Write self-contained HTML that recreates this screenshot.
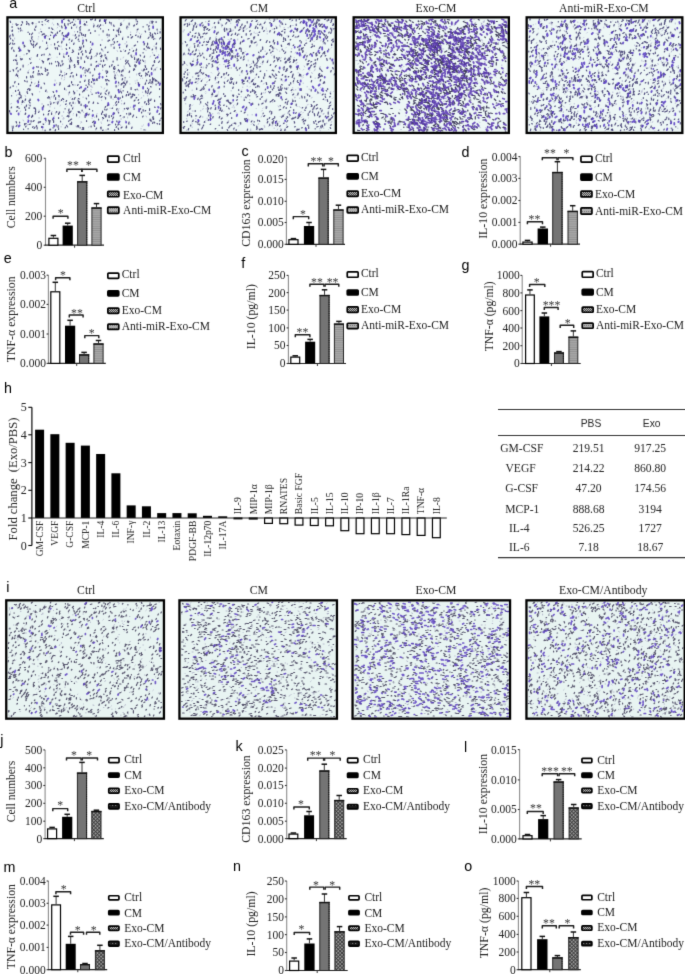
<!DOCTYPE html>
<html><head><meta charset="utf-8"><title>Figure</title>
<style>html,body{margin:0;padding:0;background:#fff;width:685px;height:974px;overflow:hidden}svg{display:block}</style>
</head><body><svg width="685" height="974" viewBox="0 0 685 974"><filter id="soft" x="0" y="0" width="685" height="974" filterUnits="userSpaceOnUse" color-interpolation-filters="sRGB"><feConvolveMatrix order="3" kernelMatrix="0.0113 0.0838 0.0113 0.0838 0.6193 0.0838 0.0113 0.0838 0.0113" edgeMode="duplicate"/></filter><rect width="685" height="974" fill="#fff"/><g filter="url(#soft)"><rect width="685" height="974" fill="#fff"/><defs>
<pattern id="pA" width="4" height="2.2" patternUnits="userSpaceOnUse"><rect width="4" height="2.2" fill="#a6a6a6"/><rect y="1.4" width="4" height="0.7" fill="#8c8c8c"/></pattern>
<pattern id="pX" width="2.6" height="2.6" patternUnits="userSpaceOnUse" patternTransform="rotate(45)"><rect width="2.6" height="2.6" fill="#959595"/><path d="M0 0.45H2.6M0.45 0V2.6" stroke="#3a3a3a" stroke-width="0.8"/></pattern>
<pattern id="pC" width="2" height="2" patternUnits="userSpaceOnUse"><rect width="2" height="2" fill="#444"/><rect width="1" height="1" fill="#bbb"/><rect x="1" y="1" width="1" height="1" fill="#bbb"/></pattern>
<pattern id="pL" width="2" height="3" patternUnits="userSpaceOnUse"><rect width="2" height="3" fill="#b0b0b0"/><rect y="1" width="1" height="1" fill="#777"/></pattern>
<pattern id="pB" width="3" height="3" patternUnits="userSpaceOnUse"><rect width="3" height="3" fill="#1a1a1a"/><rect x="1" y="1" width="1.2" height="1" fill="#777"/></pattern>
</defs><text x="9.30" y="7.60" font-family="Liberation Sans" font-size="14.3" text-anchor="start" fill="#000" >a</text><rect x="8.60" y="18.50" width="153.10" height="113.30" fill="#edf7f6"/><g transform="translate(8.60,18.50)" clip-path="url(#c10)"><clipPath id="c10"><rect width="153.10" height="113.30"/></clipPath><g transform="scale(.5)"><path d="M41 174l-1 -2M288 69l0 -1M126 8l-1 -1M237 22l0 -2M140 37l0 -2M28 25l0 -1M153 101l0 -2M295 99l2 -1M64 22l0 -1M220 182l1 -2M242 212l1 -2M59 130l1 -2M260 130l0 -2M265 160l1 -2M60 37l0 -1M238 199l0 -2M273 89l0 -1M122 49l0 -1M264 120l0 0M52 47l0 -1M8 12l0 -1M133 150l0 -1M231 97l0 -2M40 104l1 -1M116 176l1 -1M285 99l2 -1M74 35l0 -2M141 198l1 -1M253 125l0 0M153 106l0 -2M255 7l0 -1M90 13l0 -1M198 38l0 -1M218 171l0 -2M226 165l0 -1M166 137l-1 -2M276 197l-1 -2M214 171l0 -1M273 145l1 -1M47 196l0 -2M102 16l0 -1M111 200l-1 -2M22 148l0 -2M150 188l0 -1M196 78l0 -2M213 38l0 -1M181 34l0 -2M83 168l0 -2M34 192l1 -2M92 180l0 -1M110 72l0 -2M296 65l0 0M166 193l1 -1M274 128l0 -1M79 36l0 -1M186 210l0 0M260 153l0 -1M186 138l-1 -2M72 105l0 -1M19 109l-1 -2M91 196l0 -1M283 10l0 -1M20 160l0 -2M107 196l0 -2M129 179l1 -2M43 163l0 -2M197 84l1 -2M126 129l0 -1M188 203l0 -2M4 34l0 -2M123 103l0 -2M232 124l-1 -2M184 81l0 -2M133 134l0 -2M72 36l0 -1M86 188l1 -2M197 131l0 -2M186 164l0 -1M176 86l0 -1M269 186l1 -1M234 205l0 -1M31 73l0 -1M115 171l0 -1M109 202l0 -2M224 115l0 -2M220 187l0 0M85 158l1 -2M267 177l0 -1M100 90l1 -2M288 132l1 -1M78 55l0 -2M6 25l-1 -2M68 223l0 -1M80 8l0 -1M187 44l0 -2M45 35l1 -1M151 6l0 -1M16 137l0 -1M83 162l0 -1M221 2l0 -1M120 153l0 -2M117 101l1 -1M38 145l0 -1M32 55l0 -1M225 202l0 -2M233 101l-1 -2M302 129l1 -2M275 173l0 -2M59 41l0 0M112 114l0 -2M247 60l0 -1M124 82l-1 -1M270 213l0 0M268 148l0 -1M68 46l0 -2M45 122l0 -1M136 19l0 -1M7 58l1 -1M274 224l0 -2M87 10l1 -1M89 2l0 -1M282 9l0 -2M233 124l1 -1M256 28l1 -2M189 14l0 -1M44 118l1 -2M229 116l0 -2M226 171l0 -1M199 154l0 0M44 142l0 -1M157 144l0 -1M118 70l0 -1M38 202l2 -2M41 44l1 -1M229 38l0 -1M274 102l1 0M188 104l0 -1M62 147l0 -1M95 169l0 -2M202 155l1 -1M112 109l0 -1M145 57l0 -2M265 221l0 -1M97 19l1 -1M233 51l0 -1M55 11l0 -1M185 70l-1 -2M146 208l-1 -2M76 2l0 -2M148 39l0 -1M273 86l0 -2M101 163l0 -1M229 79l1 -2M106 121l0 -2M192 158l0 -2M84 167l0 -1M167 200l0 -1M148 52l0 -1M16 154l1 -2M185 208l0 -1M118 188l0 0M270 155l0 -1M236 48l0 -2M203 180l0 -1M205 56l0 -1M67 172l0 -2M259 144l0 -1M108 212l0 -1M179 19l0 -2M130 190l0 0M138 162l1 -2M77 148l0 -2M244 28l0 -1M213 112l-1 -2M16 83l0 -2M32 168l0 -1M218 187l0 -2M12 41l0 -2M136 18l0 -1M57 74l1 -2M152 105l0 -1M110 167l0 -1M189 66l0 -2M144 209l1 -1M244 178l0 -1M120 82l0 -1M219 205l0 -1M34 179l1 -2M231 181l0 -1M216 109l0 -1M251 16l1 -1M115 144l0 -2M137 145l0 -1M284 6l0 -1M45 79l0 -1M79 41l0 0M7 219l0 -2M174 223l0 -1M294 41l0 -1M112 114l0 -1M38 213l0 -1M34 162l0 -1M132 27l0 -1M191 141l1 -2M138 78l0 -2M84 80l1 -1M105 57l0 -2M242 118l0 -1M80 74l1 -1M165 143l0 -1M61 200l0 -2M20 119l0 -1M218 26l0 -2M112 118l0 -1M91 23l-2 -2M210 174l1 -1M39 93l1 -1M94 191l0 -1M14 115l1 -2M263 89l0 -1M217 161l1 -1M300 74l0 -2M135 216l0 -1M93 125l0 -2M262 30l-1 -1M163 76l0 0M298 26l0 -1M73 209l2 -2M163 59l1 -1M90 38l0 -1M161 182l0 -2M256 113l0 -2M16 166l0 -1M40 197l1 -2M83 177l0 -2M149 158l0 -1M71 202l1 -2M106 95l0 -2M275 64l0 -1M304 22l0 -1M266 104l0 -1M221 131l0 -1M58 209l1 -2M293 126l0 -1M229 185l0 0M90 159l0 -1M129 34l0 -1M189 98l0 -2M165 148l-1 -2M20 27l0 -1M153 178l0 -1M181 91l-1 -1M224 142l1 -2M46 51l0 -1M111 123l1 -2M224 214l0 -1M30 205l-1 -2M129 193l0 0M52 186l0 0M166 54l0 -1M219 114l-1 -1M176 192l1 -2M250 104l1 -2M99 187l-1 0M116 214l0 -1M237 154l0 -1M103 175l1 -2M291 56l0 -1M220 185l0 -1M268 120l0 -1M253 88l0 -2M274 147l0 -2M274 146l0 -1M61 30l0 -2M202 205l0 -1M34 156l-1 -2M290 105l0 -2M52 131l1 -2M127 87l0 -1M113 72l0 -1M229 199l-1 -1M60 124l1 -1M218 66l-1 -2M7 217l-1 -2M240 18l0 -1M172 198l0 -1M224 82l0 -1M133 170l1 -1M164 136l1 -2M289 13l0 -1M110 188l0 -2M281 209l0 -1M209 162l0 -1M136 17l1 -2M23 187l1 -2M202 213l2 -1M131 121l0 0M105 105l-1 -2M107 34l0 -1M279 189l0 -1M206 14l0 -2M157 14l0 -1M273 62l-1 -1M96 130l0 -1M254 130l0 -1M4 171l2 -1M26 172l0 -1M230 63l0 -1M103 166l0 -2M160 218l1 -2M110 35l-1 -2M230 5l1 -2M265 33l1 -2M107 5l0 -2M105 217l0 -1M267 216l0 -1M85 53l0 -1M221 161l-1 -2M61 184l0 -1M219 135l1 -2M174 125l0 -2M97 78l0 -1M278 155l0 -2M171 77l1 -1M251 76l0 -2M159 108l0 -1M170 11l0 -1M74 12l-1 -1M174 97l0 0M9 149l0 0M167 138l0 -1M107 62l0 -1M195 223l0 -1M281 141l0 -1M124 158l1 -1M62 82l0 -1M134 6l0 -1M257 125l0 -2M23 77l0 -1M242 131l1 0M241 1l0 -2M283 77l1 -2M159 25l0 -1M194 80l0 -1M144 21l0 -2M150 114l0 -1" stroke="#8c86b8" stroke-opacity="0.5" stroke-width="2.00" stroke-linecap="round" fill="none"/><path d="M175 97l1 -3M49 118l-1 -4M185 86l0 -2M20 132l0 -2M46 129l0 -2M75 62l0 -1M102 72l0 -3M120 197l1 -2M184 14l0 -2M129 133l-1 -1M127 8l1 -1M130 147l0 -2M197 133l-1 -3M235 218l1 -3M43 135l1 -2M228 158l0 -3M112 142l0 -3M268 197l1 -2M78 104l0 -2M213 115l0 -2M148 101l2 -3M99 168l0 -2M292 74l-1 -1M122 136l0 -3M282 116l0 -3M54 187l0 -3M133 35l1 -3M175 221l1 -2M95 215l0 -3M33 164l1 -3M278 140l0 -1M48 153l-1 -3M281 165l-1 -4M16 85l0 -1M217 83l0 -2M141 35l0 -2M216 183l1 -3M164 48l0 -2M263 85l1 -2M192 6l0 -4M253 175l0 -2M144 62l0 -3M172 216l-1 -3M221 21l0 -2M234 91l2 -3M118 217l-2 -3M261 134l1 -2M4 41l0 -2M102 133l1 -2M269 17l0 -1M194 161l0 -3M183 5l0 -3M139 80l0 -2M200 151l1 -4M145 174l0 -3M222 107l0 -3M49 109l1 -3M260 111l3 -2M150 222l0 -4M130 52l1 -3M54 182l-1 -3M129 117l0 -3M138 27l0 -1M183 92l0 -1M275 149l-1 -4M227 131l1 -2M31 57l2 -1M84 34l0 -1M205 11l0 -3M90 208l0 -4M240 154l0 -3M15 114l1 -3M273 132l1 -3M98 62l-1 -4M134 40l2 -3M173 4l1 -4M15 216l2 -3M147 222l3 -2M259 37l0 -2M156 161l-1 -2M266 189l0 -2M65 140l0 -3M9 35l-1 -4M145 68l2 -3M245 39l2 -2M158 138l0 -2M255 159l1 -1M100 200l0 -2M9 52l-1 -3M270 86l-2 -3M259 164l1 -2M294 80l1 -2M286 102l0 -3M48 218l1 -2M282 192l1 -3M21 152l1 -4M234 86l1 -3M92 53l0 -3M132 98l1 -3M195 125l-1 -3M34 184l0 -3M215 174l1 -2M129 64l-1 -1M83 73l-1 -2M121 100l2 -3M276 102l0 -2M74 146l1 -3M158 106l1 -3M152 13l-1 -1M179 170l-1 -1M217 207l-1 -2M165 217l0 -2M161 24l0 -2M198 205l0 -2M201 125l-1 -1M102 114l1 -2M153 36l1 -4M29 97l0 -4M189 27l0 -3M163 109l0 -2M41 67l1 -3M141 161l-1 -1M251 182l0 -2M60 106l0 -2M216 36l-1 -3M80 82l-1 -2M236 19l1 -2M20 21l-1 -2M115 166l1 -2M160 169l1 -3M198 123l-1 -1M12 51l0 -1M304 102l0 -2M141 63l0 -1M167 152l0 -1M290 123l1 -3M284 30l-1 -2M139 86l1 -2M121 187l0 -2M8 221l0 -1M117 38l-2 -3M148 147l1 -2M140 167l-1 -3M136 195l0 -4M95 188l1 -2M305 173l-1 -3M172 103l0 -3M293 178l-1 -1M273 185l1 -1M121 6l0 -2M250 15l2 -2M164 30l0 -2M288 129l0 -3M278 113l0 -2M107 87l0 -3M166 128l0 -2M32 179l0 -2M53 55l2 -3M252 154l0 -2M249 66l1 -2M5 179l1 -2M142 140l1 -2M288 8l1 -2M46 32l2 -3M295 61l0 -4M193 183l-1 -2M231 198l0 -2M90 169l1 -1M124 82l0 -4M288 210l1 -3M25 157l0 -3M212 119l0 -2M294 31l-2 -2M220 129l0 -2M247 153l1 -2M291 87l1 -3M280 17l1 -3M57 76l1 -4M252 82l0 -4M80 204l0 -1M53 24l-1 -3M6 61l1 -3M283 124l0 -2M170 17l1 -4M168 185l0 -1M233 119l0 -1M143 6l0 -4M56 52l1 -3M223 195l1 -1M123 188l2 -3M154 115l0 -1M285 206l0 -3M288 210l1 -2M69 89l1 -3M37 127l0 -2M36 71l1 -1M166 62l0 -1M116 62l-1 -2M78 159l0 -1M162 69l1 -2M119 136l1 -1M258 47l0 -1M153 197l0 -4M293 103l0 -2M292 88l0 -4M100 92l1 -2M43 82l-1 -2M225 66l-1 -1M202 9l0 -2M60 188l1 -2M229 104l0 -2M287 34l1 -3M304 62l0 -3M285 137l-1 -1M100 192l0 -2M155 77l1 -2M164 81l2 -2M190 86l0 -3M130 3l0 -2M126 175l-1 -2M228 42l0 -3M209 52l0 -1M25 159l0 -3M19 106l0 -2M274 115l1 -3M23 153l0 -2M227 123l1 -3M280 130l2 -3M73 225l0 -2M24 25l1 -2M287 10l0 -3M7 26l1 -3M157 176l0 -2M81 207l0 -3M126 46l1 -3M63 208l1 -2M190 200l-2 -2M193 59l1 -2M210 24l0 -2M213 121l1 -2M180 203l0 -2M33 126l-1 -2M195 146l2 -3M260 83l0 -3M10 105l-1 -3M184 152l1 -3M150 34l0 -2M160 193l1 -2M278 59l2 -2M260 170l1 -2M196 81l0 -2M284 164l1 -3M41 13l-1 -3M65 99l0 -2M82 42l0 -2M192 94l1 -2M142 169l0 -3M59 98l0 -2M304 181l1 -3M274 98l-1 -4M289 38l0 -3M176 197l0 -3M143 128l0 -2M182 71l1 -2M201 198l0 -4M46 198l1 -3M71 73l0 -2M105 108l0 -3M205 159l0 -4M47 53l-2 -3M211 107l0 -1M153 198l0 -1M51 180l0 -2M194 5l1 -3M175 75l0 -1M147 185l0 -2M252 95l1 -3M303 29l0 -3M229 105l0 -3M54 183l0 -2M126 20l0 -3M165 3l-1 -1M97 30l1 -3M155 134l0 -1M56 216l0 -2M262 114l0 -1M27 168l1 -4M84 172l1 -3M220 28l0 -4M212 158l1 -2M241 193l0 -4M68 112l-2 -2M98 48l1 -2M236 57l1 -4M139 43l1 -2M142 153l0 -2M236 191l0 -1M197 175l2 -3M140 217l0 -3M211 60l0 -3M43 175l0 -2M155 68l-1 -4M295 133l0 -2M37 147l0 -1M86 192l0 -3M94 61l-1 -3M269 105l2 -4M219 94l0 -1M141 170l-1 -3M145 59l0 -2M259 129l0 -1M168 208l3 -3M297 23l0 -2M295 8l0 -2M138 88l0 -4M185 219l0 -2M280 168l-1 -4M106 49l1 -4M224 28l0 -3M41 180l0 -2M159 80l-1 -1M36 119l0 -3M295 52l1 -3M269 185l0 -3M206 95l1 -3M182 6l0 -3M199 214l2 -2M220 168l0 -2M7 18l0 -2M287 63l1 -2M41 212l3 -1M39 109l0 -2M9 136l0 -2M211 191l1 -2M93 225l1 -3M70 177l0 -3M226 149l-2 -4M155 105l0 -3M202 44l-1 -1M66 27l-1 -1M67 33l2 -2M240 211l1 -4M195 107l0 -3M104 95l0 -2M121 43l1 -2M111 78l-1 -3M205 53l0 -1M79 111l0 -3M136 114l0 -3M188 224l1 -1M219 105l1 -3M149 220l-1 -2M278 53l0 -4M214 155l0 -2M292 209l0 -2M123 203l3 -2M107 115l1 -1M53 191l1 -2M103 130l0 -2M235 155l1 -3M130 14l1 -2M110 2l2 -2M106 164l0 -2M208 201l2 -4M123 212l0 -2M90 39l0 -2M244 33l0 -1M277 13l0 -1M198 108l0 -3M25 14l1 -2M254 143l-1 -1M217 80l0 -2M258 84l-1 -3M36 12l1 -3M276 111l-2 -2M181 17l1 -2M86 91l0 -2M148 73l0 -3M60 128l0 -2M16 14l3 -2M302 205l1 -2M34 217l1 -2M212 224l0 -2M246 220l1 -3M9 219l0 -4M120 32l-1 -2M88 29l-3 -2M21 66l1 -3M248 197l2 -4M95 34l-1 -3M170 125l1 -2M158 79l1 -2M120 76l0 -2M112 14l0 -4M101 56l-1 -2M77 6l3 -2M45 207l0 -3M116 54l0 -3M67 7l0 -1M2 37l1 -3M244 192l0 -3M14 84l-1 -2M193 178l1 -2M22 209l0 -2M209 87l0 -2M122 171l1 -3M160 125l1 -3M47 10l1 -1M285 130l0 -4M33 192l1 -3M281 60l1 -1M147 34l-1 -3M199 46l0 -2M233 66l1 -2M14 146l0 -2M140 188l-1 -2M302 41l2 -3M141 46l0 -1M23 21l1 -2M239 71l2 -3M193 75l0 -3M94 162l0 -4M30 222l0 -1M258 7l-1 -2M143 189l-2 -3M115 112l1 -2M143 24l0 -2M79 173l0 -1M279 40l2 -3M117 196l2 -2M219 143l1 -1M37 8l-1 -2M234 133l-1 -3M195 125l0 -2M101 156l-1 -2M71 32l0 -2M161 128l-1 -3M235 219l1 -1M175 87l1 -1M89 219l0 -1M196 183l1 -2M156 193l1 -1M54 18l1 -3M291 123l-2 -2M32 55l0 -1M123 117l1 -2M272 169l1 -3M83 223l1 -1M171 211l1 -2M48 196l0 -3M302 142l0 -2M99 218l0 -4M49 54l1 -3M15 101l2 -3M222 59l0 -2M79 193l1 -3M254 34l1 -1M128 181l0 -2M55 136l1 -2M265 116l1 -2M217 25l0 -2M212 102l1 -3M238 182l2 -3M131 151l1 -3M28 168l1 -2M197 34l0 -3M108 93l1 -3M199 222l0 -2M78 83l3 -3M59 113l0 -4M166 77l0 -2M231 130l0 -3M302 157l0 -1M102 26l1 -2M241 92l-2 -3M73 37l2 -3M161 133l-1 -3M254 97l1 -3M156 206l0 -2M230 138l1 -4M282 151l1 -2M133 13l-1 -2M80 186l2 -2M153 109l0 -1M238 87l1 -3M194 79l0 -1M288 199l1 -3M221 33l-1 -2M188 97l0 -3M22 150l0 -3M186 77l0 -4M210 101l0 -3M165 94l0 -3M288 122l0 -4M121 149l1 -2M185 221l-1 -3M34 211l1 -1M63 113l-1 -3M75 205l-1 -2M274 27l-1 -2M50 58l0 -2M294 125l0 -3M188 188l0 -3M152 88l0 -3M188 95l0 -2M107 19l-1 -4M120 184l1 -3M2 187l0 -3M48 11l1 -2M20 60l1 -3M154 191l3 -2M220 222l-1 -3M287 39l0 -3M227 115l-1 -3M225 133l1 -3M80 159l1 -2M122 60l0 -2M281 23l0 -3M156 45l-1 -3M104 207l0 -2M292 166l0 -3M70 193l0 -2M17 92l0 -4M96 95l0 -1M16 209l-1 -3M81 20l0 -2M154 179l0 -3M215 137l0 -2M251 55l3 -2M286 7l1 -2M47 9l1 -1M140 72l0 -3M99 13l-1 -3M272 103l0 -2M271 78l1 -3M169 170l1 -3M250 104l1 -4M264 75l-1 -2M56 97l0 -1M19 177l-1 -1M47 43l0 -1M42 32l0 -2M301 192l1 -2M23 103l1 -2M262 91l1 -2M127 68l3 -2M256 198l0 -1M186 192l0 -3M143 23l0 -2M43 143l-1 -2M196 110l2 -3M82 223l1 -2M181 157l0 -3M243 96l-1 -2M77 114l0 -2M119 4l1 -1M61 8l0 -2M276 172l0 -2M76 50l0 -3M201 35l0 -3M236 129l1 -4M215 136l0 -2M177 72l0 -3M284 148l1 -1M282 184l0 -4M31 54l0 -1M82 208l1 -4M224 11l1 -2M184 21l0 -1M17 178l0 -2M184 76l3 -2M271 53l1 -3M238 148l0 -2M290 42l1 -2M111 36l-1 -2M255 65l1 -4M101 190l1 -3M232 181l0 -1M193 195l-2 -3M162 70l2 -2M46 40l1 -4M224 14l2 -2M208 43l2 -3M187 63l-1 -2M168 115l1 -2M142 59l0 -2M241 108l1 -3M246 39l2 -3M43 164l0 -3M164 66l0 -3M68 86l-1 -2M226 107l1 -3M212 49l-1 -3M62 59l1 -3M12 129l1 -3M256 88l1 -3M260 132l0 -2M194 10l0 -3M184 54l0 -2M239 38l0 -2M94 87l0 -1M41 166l0 -2M44 90l1 -2M2 52l2 -3M114 18l-1 -4M257 142l0 -1M198 68l1 -1M146 32l0 -3M39 28l0 -1M21 180l0 -1M255 3l0 -3M299 130l1 -3M122 97l0 -4M148 51l1 -4M129 170l0 -3M152 126l1 -3M18 116l0 -3M118 35l-1 -3M74 106l1 -4M39 221l0 -1M217 47l1 -1M243 152l0 -3M171 131l0 -2M245 75l0 -2M143 219l0 -1M247 157l1 -2M35 176l1 -3M177 16l2 -3M38 142l3 -2M230 129l0 -2M169 124l-1 -4M279 146l1 -4M151 145l1 -1M123 87l0 -3M167 2l1 -2M45 118l-1 -3M107 31l1 -3M279 108l1 -2M185 158l2 -2M126 212l-1 -2M257 84l0 -2M156 8l0 -2M131 94l1 -2M237 17l0 -2M73 4l2 -3M211 16l-1 -3M27 82l0 -2M150 144l1 -1M90 148l-1 -2M195 194l0 -3M151 175l0 -1M126 210l0 -3M43 169l-1 -1M66 74l1 -2M15 12l0 -2M60 209l1 -3M57 221l0 -4M223 160l0 -2M207 180l1 -1M269 69l0 -1M236 57l0 -2M66 218l0 -2M44 47l0 -3M88 203l1 -3M215 158l0 -1M256 12l1 -2M82 91l0 -2M245 142l0 -4M215 218l1 -2M113 219l1 -2M154 13l-2 -3M276 57l0 -2M211 97l1 -1M218 213l3 -1M300 88l2 -3M252 102l0 -1M51 220l2 -3M74 102l-1 -3M245 159l0 -3M11 66l-1 -3M77 60l1 -1M225 219l2 -2M305 200l1 -1M126 85l0 -2M9 45l-1 -2M220 26l0 -4M278 150l1 -2M82 159l-2 -3M32 213l0 -3M28 9l-1 -3M241 13l0 -4M298 30l0 -1M100 89l-2 -3M173 26l0 -2M288 95l2 -2M18 165l1 -2M247 78l-1 -2M288 126l0 -2M3 106l0 -1M21 161l2 -3M121 191l0 -4M206 196l0 -2M72 131l-1 -2M177 124l0 -3M16 186l1 -2M195 152l-2 -3M229 145l0 -1M142 19l2 -3M70 212l-1 -1M101 157l0 -3M114 172l1 -1M145 81l0 -4M100 95l0 -2M150 57l0 -3M10 84l0 -1M15 76l1 -3M126 129l0 -3M4 8l-1 -3M290 202l0 -2M194 197l1 -1M100 222l0 -2M175 123l2 -3M6 155l0 -1M50 47l0 -2M127 162l1 -2M200 23l0 -1M284 35l-1 -3M91 156l1 -3M139 92l1 -4M160 103l1 -3M81 212l1 -4M298 211l-1 -1M271 223l0 -1M257 23l2 -2M68 13l-1 -1M263 182l1 -2M98 171l1 -4M131 162l2 -4M266 189l0 -2M139 2l0 -2M119 13l0 -3M88 22l-2 -3M143 29l0 -2M280 172l1 -2M123 10l1 -1M289 202l1 -3M175 150l0 -2M283 204l0 -3M120 206l1 -2M8 225l0 -2M231 171l1 -2M251 165l2 -2M42 144l0 -2M302 212l0 -2M113 181l0 -1M162 182l0 -1M160 155l0 -2M220 189l0 -1M214 169l2 -3M19 144l1 -1M49 206l2 -2M196 116l0 -1M242 63l0 -1M125 110l2 -2M236 180l1 -1M214 213l0 -2M25 83l-1 -3M137 217l1 -3M38 150l-1 -2M250 153l-1 -2M276 125l0 -2M110 162l-2 -2M202 97l0 -2M263 39l1 -4M3 139l1 -2M271 62l0 -2M138 134l1 -2M40 65l-1 -2M297 126l-1 -2" stroke="#2c2660" stroke-opacity="0.8" stroke-width="2.30" stroke-linecap="round" fill="none"/><path d="M20 192l0 -2M110 42l0 -2M179 95l0 -1M154 176l0 -3M261 185l0 -4M114 36l1 -2M143 10l0 -3M302 133l1 -3M90 200l0 -1M92 133l0 -1M255 72l0 -3M5 191l-1 -1M300 178l-1 -1M181 112l1 -2M235 208l0 -1M269 140l0 -3M200 173l-1 -4M261 135l-1 -3M188 118l0 -1M207 208l1 -2M214 129l1 -3M19 168l0 -2M39 197l2 -3M59 136l1 -4M221 53l1 -1M74 202l0 -2M250 177l1 -3M298 78l0 -1M286 112l0 -3M144 98l0 -1M192 5l0 -1M270 48l0 -1M220 162l-1 -3M155 194l1 -3M289 19l0 -3M145 117l0 -3M220 209l2 -3M149 45l0 -1M119 33l1 -4M145 138l0 -1M171 123l0 -1M221 148l-1 -4M116 71l1 -3M181 119l1 -3M96 146l0 -1M91 216l0 -2M173 209l0 -2M153 141l1 -1M24 64l-2 -3M29 50l0 -2M49 100l1 -2M68 182l0 -4M114 20l1 -2M73 39l-1 -3M107 8l0 -4M180 149l-1 -1M60 164l-1 -2M168 52l0 -2M68 218l0 -1M261 90l0 -3M297 187l1 -3M20 216l2 -2M280 214l0 -3M91 35l1 -1M39 207l1 -3M209 192l1 -3M168 195l1 -2" stroke="#5236c0" stroke-opacity="0.85" stroke-width="3.60" stroke-linecap="round" fill="none"/></g></g><rect x="7.45" y="17.35" width="155.40" height="115.60" fill="none" stroke="#000" stroke-width="2.3"/><text x="86.30" y="11.80" font-family="Liberation Serif" font-size="11.7" text-anchor="middle" fill="#222" >Ctrl</text><rect x="181.70" y="18.50" width="153.00" height="113.30" fill="#edf7f6"/><g transform="translate(181.70,18.50)" clip-path="url(#c11)"><clipPath id="c11"><rect width="153.00" height="113.30"/></clipPath><g transform="scale(.5)"><path d="M21 174l1 -1M226 159l0 -1M276 197l0 -2M277 150l0 -1M61 98l0 -2M42 112l1 -1M235 60l0 -2M165 215l0 -1M30 196l0 -1M119 20l1 -2M278 58l0 -2M145 29l0 -2M97 43l0 -1M162 193l0 -1M45 42l1 -2M92 23l1 -2M197 159l0 0M277 125l1 -1M231 88l0 0M277 97l0 -1M287 164l0 -2M58 56l0 -2M151 30l1 -1M183 66l0 -1M252 2l0 -2M99 100l0 -2M140 50l1 -1M48 208l0 0M135 203l-1 -2M261 110l-1 -2M237 178l-2 -2M278 184l1 -1M11 94l-1 -2M276 34l-1 -2M10 224l0 -1M222 139l0 -1M139 91l2 -2M277 139l1 -1M16 178l1 -1M31 78l0 -2M142 205l0 -1M133 85l0 -2M75 191l0 -2M167 149l1 -2M22 118l0 -2M44 176l0 -1M62 143l0 0M240 117l0 -2M153 8l1 -1M26 51l2 -2M49 133l1 -1M137 225l1 -1M110 174l0 0M42 160l1 -1M129 34l0 -1M254 199l0 0M155 70l0 -1M173 84l0 -1M216 26l1 -1M16 58l1 -1M129 160l-1 -2M119 157l0 -1M79 12l0 -1M191 63l-1 -2M235 223l0 -1M102 168l0 -1M54 62l1 -1M72 190l1 -2M150 55l1 -2M139 212l1 -1M75 93l1 -1M185 220l0 -1M141 193l0 -1M161 92l1 -2M164 149l0 -1M171 31l0 -1M218 7l1 -1M212 190l0 0M36 172l0 -1M109 188l-1 -1M84 92l1 0M99 25l2 0M80 17l0 -2M227 69l1 -2M276 221l0 -1M213 139l0 -1M59 157l2 -1M131 180l-1 -2M52 174l0 -1M205 19l0 -1M71 225l1 -1M279 12l0 -1M98 10l0 -1M271 151l2 -2M160 185l1 -1M154 97l0 -1M299 208l1 -2M249 69l0 0M105 179l0 -2M240 198l1 -1M210 214l0 -2M276 57l1 -1M131 20l1 -1M8 171l0 -1M174 216l0 -1M259 159l2 -1M205 193l1 -2M7 73l0 -1M136 163l0 -1M136 130l0 -2M170 105l0 -1M265 181l0 -1M153 212l1 -2M188 3l0 -2M68 38l1 -2M271 146l-1 -2M74 147l0 0M160 16l0 -1M49 181l0 -1M119 61l0 0M224 130l0 0M122 109l0 0M148 30l1 -1M136 137l1 -1M197 17l0 -2M198 80l1 -2M89 96l0 0M159 197l1 -2M251 173l2 -1M202 100l0 -1M243 115l1 -2M47 119l1 -1M251 16l0 -1M73 182l0 0M242 189l1 -1M163 131l2 -1M50 128l0 -1M2 51l0 -2M103 24l0 -1M288 211l0 -1M99 145l0 -1M283 191l1 0M196 15l0 -2M203 12l-1 -2M3 74l0 -1M106 56l1 -1M277 225l0 -1M207 26l0 -1M112 43l0 -2M113 216l1 -1M223 55l1 -2M266 196l0 -1M91 28l0 -1M149 222l1 -1M74 107l-1 -2M279 189l0 -1M17 173l0 -1M116 114l0 -1M52 126l0 0M42 182l1 -2M15 109l0 -1M263 1l0 -1M122 23l0 -1M180 74l1 -1M208 59l1 -1M5 72l0 -1M57 118l0 -1M61 19l1 -2M246 97l-1 -2M190 216l1 -2M203 211l1 -2M119 145l1 -2M208 224l0 -1M48 150l1 -1M149 180l0 0M210 35l1 -1M194 177l-1 -2M233 109l0 -1M150 53l1 -2M277 14l1 -2M166 218l0 -2M119 109l0 -2M38 185l0 -1M43 99l0 -2M142 210l1 -1M293 193l1 0M290 210l0 -1M145 147l1 -1M24 18l1 -2M73 6l1 -2M202 125l0 -1M187 115l1 -2M249 151l0 -1M283 51l1 -2M273 209l0 -1M94 205l0 -1M225 78l0 0M16 45l0 -1M214 81l0 -1M159 13l0 -1M103 79l0 -1M21 218l0 -1M298 173l1 -1M162 180l1 -1M60 109l-1 -1M222 14l1 0M170 162l0 -1M236 134l0 -1M193 149l0 0M301 85l0 -2M36 115l0 -2M283 191l2 -1M8 101l1 -1M215 197l0 -1M35 65l-1 -2M267 120l0 -1M48 7l0 -1M255 214l1 -1M136 93l0 -1M20 190l0 0M73 168l1 -1M63 84l1 -1M41 123l1 -2M114 214l0 0M213 190l-1 -2M34 204l0 -1M5 24l0 -2M70 129l1 -1M173 207l0 -1M131 136l0 -1M89 164l0 0M9 120l1 -1M171 26l0 -1M47 147l1 -1M280 57l1 -1M220 148l0 -1M221 161l0 0M227 158l-1 -1M158 127l1 -2M124 26l1 -1M229 91l0 -2M61 79l0 0M269 211l0 -1M161 57l1 0M220 61l0 -1M134 146l0 -2M301 160l1 -1M73 151l0 0M181 215l0 -1M213 19l0 -1M101 178l1 -1M30 48l-1 -2M36 122l1 -2M146 120l1 -2M284 220l0 -1M129 22l0 -1M125 160l0 -2M19 72l0 -1M125 20l1 -1M182 168l1 -2M165 166l0 -2M73 29l0 -1M205 127l1 -1M265 46l1 -1M236 101l-1 -2M73 42l0 -1M298 147l0 -1M181 22l0 -1M199 223l1 -2M27 110l1 -2M198 221l0 -1M278 45l1 -2M138 223l0 -2M118 212l0 -1M116 32l0 -1M243 103l1 -1M27 123l1 -2M249 44l0 -1M286 214l0 -1M68 86l1 -1M209 117l0 -2M158 90l1 -1M239 75l0 -2M235 71l0 -2M228 143l0 -1M203 3l1 -2M84 76l1 -1M255 142l0 -1M84 186l1 -1M127 66l0 0M148 2l0 -1M225 210l0 -1M196 66l0 -1M93 83l0 -1M256 38l0 0M178 4l0 0M257 45l1 -2M3 27l0 -2M46 206l2 -2M231 176l-1 0M171 178l0 -2M10 201l0 -1M60 73l0 0M51 201l0 -2M70 156l-1 -2M12 187l1 -2M167 66l0 -1M138 13l0 -2M32 13l0 -1M21 12l0 -1M32 126l1 -2M279 25l0 -1M197 120l0 0M58 84l-1 -2M60 98l0 -1M28 201l0 -1M20 207l2 -1M198 197l-1 -1M40 14l0 -2M73 88l-1 -1M228 155l1 -1M11 110l1 -2M69 129l1 -1M103 175l1 -2M104 70l0 -1M21 185l2 0M301 199l0 -1M133 128l0 -1M168 23l1 -1M67 124l1 -2M22 39l1 -2M294 196l0 -1M116 209l0 -1M293 198l0 -2M251 137l0 -1M42 198l0 -2M291 142l0 -1M243 130l0 -1M55 193l0 -2M104 223l0 -1M157 43l0 -1M195 207l0 -1M132 194l0 -2M31 131l2 -2M285 70l0 -1M123 81l0 -1M15 130l0 -1M233 139l0 0M78 179l0 -1M86 120l1 -2M243 7l1 -2M22 72l0 -1M21 144l0 -1M75 53l0 -2M169 20l0 -1M194 28l0 -1M108 32l0 0M191 223l1 -2M188 16l0 -1M230 96l0 -1M52 10l0 -1M21 211l0 -1M301 20l0 -1M188 147l1 -1M260 175l0 -1M178 119l0 -1M170 104l0 0M24 81l0 0M304 146l1 -1M102 210l1 -1M30 142l0 -1M266 103l1 -2M238 188l1 -2M40 17l1 -1M110 156l0 -2M236 160l0 -1M299 59l1 -1M145 37l1 -1M302 87l1 -2M124 71l1 -1M186 60l0 -1M235 189l0 -1M249 163l0 -1M104 129l1 -2M255 105l1 -1M77 41l0 -2M294 222l0 0M93 42l0 0M122 138l0 -1M27 95l1 -2M62 191l0 -1M224 144l0 -1M294 185l0 0M222 4l0 -1M65 81l1 -1M15 10l0 -2M35 57l0 -2M206 123l0 0M265 105l1 -1M28 129l0 -2M304 82l0 -1M285 143l-1 -1M72 119l0 -1M235 62l1 -1M168 3l1 -1M17 27l0 -1M242 119l1 -1M271 21l0 -2M34 33l0 0" stroke="#8c86b8" stroke-opacity="0.5" stroke-width="2.00" stroke-linecap="round" fill="none"/><path d="M171 209l1 -3M243 21l2 -3M13 223l1 -3M258 118l0 -3M305 190l1 -2M82 65l1 -2M61 153l-1 -1M216 2l2 -2M156 223l-1 -2M298 30l1 -3M64 144l0 -3M180 189l0 -3M222 36l2 -3M148 18l1 -3M129 205l3 -2M39 109l1 -1M298 21l0 -2M181 209l0 -2M67 64l0 -1M178 138l0 -4M223 88l1 -2M9 136l0 -3M85 38l0 -2M97 190l1 -1M84 51l0 -3M33 121l1 -1M126 202l0 -2M2 125l0 -3M265 97l2 -2M276 117l0 -4M211 172l0 -4M93 32l0 -3M150 157l2 -1M70 156l1 -3M224 28l0 -2M127 120l1 -3M97 71l-2 -4M41 54l1 -1M279 219l-1 -3M22 24l1 -3M114 144l0 -2M185 21l1 -1M268 206l0 -2M86 26l0 -4M101 122l1 -2M291 19l0 -3M195 183l3 -1M144 38l1 -1M129 119l0 -2M219 67l0 -1M139 46l0 -2M204 103l1 -2M292 166l-1 -4M191 81l-1 -3M49 53l2 -1M136 169l-1 -1M99 123l-1 -3M100 200l0 -2M254 5l1 -3M47 134l0 -2M248 50l2 -1M178 69l1 -2M96 6l-1 -3M278 77l2 -3M42 111l2 -2M142 123l1 -1M283 207l0 -3M162 62l0 -3M60 81l1 -2M28 195l1 -1M277 102l-1 -3M16 130l1 -3M188 120l1 -1M166 115l0 -2M124 126l1 -1M207 169l1 -2M218 108l2 -2M231 126l1 -2M144 145l1 -1M40 143l0 -1M284 32l-2 -3M162 59l0 -2M90 23l0 -3M72 139l2 0M286 129l-1 -3M146 95l1 -4M223 54l1 -1M52 169l0 -2M111 172l1 -3M10 120l1 -2M287 75l1 -1M267 84l0 -2M91 165l0 -2M212 52l1 -2M275 197l2 -2M136 18l1 -3M203 179l2 -3M70 68l0 -2M77 182l1 -3M118 211l0 -3M291 39l1 -3M241 179l1 -1M5 112l0 -2M22 206l1 -3M13 71l1 -2M27 186l0 -2M19 93l-2 -4M270 6l1 -3M161 21l1 -4M208 162l2 -1M54 195l0 -2M22 157l0 -1M283 162l1 -1M270 74l1 -1M73 9l0 -1M63 64l1 -2M247 221l1 -3M292 197l1 -1M120 14l1 -3M145 38l1 -1M204 42l0 -4M176 214l0 -3M73 112l2 -3M254 220l0 -4M210 218l2 -2M77 162l2 -3M115 152l-1 -1M41 156l0 -2M303 11l0 -1M37 75l2 -2M95 181l-1 -2M33 212l0 -1M44 142l1 -2M54 6l1 -1M248 180l1 -3M7 131l0 -2M248 83l1 -2M54 24l2 -2M98 122l1 -4M231 25l1 -4M109 224l0 -2M272 194l0 -3M256 156l0 -2M175 117l1 -2M182 211l1 -4M303 91l0 -4M20 197l-1 -3M164 196l2 -2M277 181l1 -1M255 27l1 -3M276 16l2 -2M205 98l0 -2M85 137l0 -2M36 213l0 -2M212 167l1 -2M251 93l3 -3M215 53l0 -4M20 95l0 -4M105 186l2 -2M111 85l2 -2M291 5l0 -2M303 47l1 -2M26 38l1 -3M274 5l2 -2M155 28l1 -1M90 176l0 -1M250 166l1 -3M58 62l0 -3M67 19l0 -3M36 71l0 -2M224 85l0 -3M198 85l0 -1M69 57l0 -2M150 90l1 -2M189 155l0 -3M280 186l1 -3M232 153l1 -4M200 26l2 -1M151 99l-1 -2M99 3l0 -2M209 103l2 -3M28 111l2 -2M162 88l1 -3M153 34l0 -2M297 81l0 -2M264 167l1 -1M300 25l0 -4M119 186l0 -1M215 134l0 -2M199 123l1 -2M222 201l2 -2M43 215l1 -2M67 62l2 -3M92 224l-1 -2M71 79l1 -4M221 118l1 -4M61 48l2 -3M14 126l0 -1M21 36l1 -2M222 153l2 -2M32 110l1 -2M88 97l0 -2M102 65l-1 -1M19 6l3 -3M259 127l1 -3M187 97l2 -3M207 141l-1 -2M286 71l0 -3M196 144l0 -1M210 150l-2 -3M273 31l0 -2M154 78l1 -3M33 223l0 -2M232 223l3 -2M118 80l1 -3M213 117l1 -1M295 175l3 -1M11 195l1 -3M290 145l-1 -1M132 155l1 -3M111 76l4 -1M277 125l1 -3M305 113l1 -3M27 128l2 -1M227 166l0 -2M177 167l1 -1M203 46l1 -1M190 20l0 -3M245 211l0 -2M185 136l0 -2M180 165l3 -3M152 12l0 -1M218 77l0 -2M252 24l0 -4M129 33l0 -3M253 86l2 -2M257 37l0 -4M204 66l0 -2M155 81l-1 -2M271 40l-1 -3M185 79l0 -4M128 206l0 -1M208 12l0 -1M92 3l1 -2M50 22l2 -2M198 9l1 -2M200 198l1 -3M131 126l1 -2M273 119l1 -1M98 26l0 -4M119 147l1 -1M83 45l-1 -3M37 144l3 -2M2 93l1 -2M171 88l1 -3M3 149l0 -2M294 29l1 -2M50 82l0 -1M302 182l0 -2M229 22l3 -2M129 179l1 -2M197 142l0 -2M37 94l-1 -3M85 53l0 -3M152 20l0 -2M155 137l-1 -2M210 142l0 -3M267 16l2 -3M122 71l0 -3M240 219l1 -1M11 104l1 -2M170 132l-1 -4M156 13l2 -2M243 66l-1 -3M24 154l-1 -2M90 83l0 -1M239 25l2 -2M14 137l-1 -4M243 9l2 -2M265 56l0 -2M129 158l-1 -1M52 187l0 -2M185 29l1 -3M186 199l0 -3M258 87l2 -1M93 86l2 -2M26 58l0 -4M246 74l1 -1M41 141l0 -2M201 114l1 -2M91 67l1 -1M35 32l-1 -3M32 76l1 -2M198 151l0 -2M131 9l0 -3M150 218l0 -3M28 65l1 -2M107 19l0 -3M61 86l3 -2M287 39l0 -3M93 100l1 -1M15 65l-1 -4M14 132l2 -2M95 62l0 -3M183 206l1 -2M84 152l0 -2M141 146l1 -4M241 203l3 -2M229 174l0 -3M303 101l-1 -3M69 50l1 -4M186 166l0 -2M261 175l-2 -3M93 90l2 -2M104 221l1 -2M89 111l1 -3M299 4l2 -3M253 25l0 -2M79 49l1 -2M23 22l0 -3M177 94l1 -2M268 11l1 -3M260 33l0 -1M176 187l1 -2M156 78l0 -1M300 54l0 -3M289 41l2 -3M232 200l2 -2M73 55l0 -3M252 154l0 -3M24 17l0 -3M188 214l0 -1M42 15l1 -2M157 106l1 -1M107 78l0 -4M223 127l1 -3M58 201l-1 -3M178 55l0 -1M120 38l0 -2M182 66l0 -1M6 90l-1 -4M253 2l0 -3M209 180l0 -2M85 23l0 -2M64 70l0 -4M154 118l0 -2M97 171l2 -2M206 82l1 -3M109 100l0 -3M169 180l0 -4M265 11l0 -2M71 99l0 -2M246 54l0 -2M218 99l1 -4M123 131l2 -1M79 67l0 -2M120 107l1 -3M48 171l0 -1M10 55l1 -3M25 51l0 -1M242 68l0 -3M151 137l1 -3M109 130l1 -3M93 165l0 -2M143 102l1 -3M151 95l-1 -2M179 16l0 -2M53 204l1 -2M207 117l0 -2M200 35l0 -3M201 133l-1 -1M229 14l0 -3M105 52l0 -2M74 10l0 -3M123 20l1 -2M283 47l0 -2M140 6l1 -2M192 85l0 -3M281 153l2 -2M49 99l0 -2M286 213l0 -3M298 220l-1 -2M231 102l1 -4M46 19l3 -2M88 11l2 -3M293 191l0 -4M53 48l1 -3M26 155l2 -1M230 224l1 -3M38 156l2 -3M226 85l0 -2M137 106l1 -1M7 108l0 -2M65 147l-1 -4M39 126l1 -2M300 44l3 -3M193 139l0 -2M91 2l-2 -2M238 115l0 -3M44 18l3 -2M32 209l1 -3M107 32l1 -3M108 211l0 -2M16 191l0 -2M29 207l-1 -1M55 124l1 -2M184 140l0 -2M26 13l2 -3M191 1l0 -2M139 207l1 -2M247 184l-1 -1M92 58l-1 -4M219 144l2 -2M208 106l3 -3M226 217l1 -1M99 34l2 -3M157 222l3 -2M196 216l1 -2M96 94l0 -1M281 29l-2 -3M188 207l2 -2M29 64l0 -3M256 99l1 -2M125 164l0 -2M176 9l1 -1M210 201l-1 -2M263 4l1 -2M97 170l0 -2M273 149l-1 -2M96 169l-3 -3M223 166l-1 -3M190 114l-2 -3M211 84l2 -3M42 71l0 -2M293 180l2 -1M97 21l0 -1M176 48l0 -2M96 75l1 -3M83 47l1 -1M298 214l1 -2M31 84l1 -3M90 165l1 -1M119 62l-1 -3M5 118l0 -2M145 49l4 -2M62 199l1 -3M241 159l-1 -4M4 72l1 -3M232 37l2 -2M6 164l1 -3M7 5l2 -3M141 126l1 -2M208 44l-1 -4M214 84l3 -3M195 155l-1 -3M295 177l0 -2M138 109l1 -2M208 117l0 -2M225 121l0 -2M181 104l1 -1M176 64l0 -2M142 172l0 -3M287 153l0 -2M282 71l2 -3M236 196l-1 -2M123 69l1 -1M30 121l-1 -1M160 158l1 -2M242 60l1 -2M154 68l0 -1M194 82l1 -4M177 56l2 -2M113 9l0 -3M144 41l1 -2M139 48l0 -2M263 69l1 -1M12 113l0 -2M201 63l0 -2M154 173l0 -2M12 135l1 -4M193 156l1 -3M94 58l0 -2M269 15l-1 -4M235 115l1 -4M79 201l2 -2M111 104l0 -2M112 6l1 -4M259 58l3 -3M265 210l-1 -4M185 117l0 -2M99 41l0 -1M269 181l3 -2M253 40l1 -1M18 215l0 -2M143 107l-1 -3M123 125l0 -2M270 10l1 -3M77 174l-1 -2M160 171l3 -2M111 158l1 -2M210 207l2 -3M143 132l1 -3M287 197l1 -2M278 216l1 -1M109 8l1 -4M204 99l1 -2M51 48l-1 -2M2 122l-1 -2M131 224l1 -3M222 115l1 -4M281 106l-2 -3M25 73l0 -2M16 182l1 -3M80 57l1 -3M67 221l1 -1M217 43l1 -1M226 199l2 -2M233 198l0 -2M292 45l0 -1M268 71l2 -2M102 77l1 -2M111 34l2 -3M284 45l0 -3M181 202l3 -2M264 179l2 -4M91 209l2 -2M263 14l1 -2M53 181l-1 -4M227 37l2 0M200 56l-1 -3M51 95l-1 -2M32 39l0 -2M292 142l0 -2M23 157l1 -1M75 214l0 -1M8 48l-1 -2M127 121l1 -1M101 68l0 -3M278 15l0 -2M175 1l1 -2M207 89l1 -3M198 138l0 -3M105 58l0 -1M213 37l1 -2M67 182l1 -1M19 157l0 -2M152 83l-1 -4M125 189l2 -2M201 163l0 -2M105 53l2 -3M247 205l1 -2M280 12l1 -1M216 88l1 -2M274 112l2 -2M215 80l0 -2M138 148l0 -2M90 192l1 -1M57 190l-1 -2M145 214l-1 -2M123 83l2 -2M159 152l1 -3M67 121l1 -4M274 13l1 -3M22 93l1 -1M159 79l-1 -3M91 126l2 -3M40 10l1 -2M239 63l1 -4M147 132l1 -2M93 5l1 -2M62 152l-1 -3M252 214l1 -1M61 70l0 -1M15 194l1 -4M285 68l1 -2M304 21l1 -1M203 196l0 -3M199 144l0 -2M73 129l1 -3M264 92l1 -2M79 118l1 -2M192 211l0 -2M67 182l1 -4M67 156l1 -1M196 34l2 -3M169 48l2 -4M259 145l0 -3M214 187l2 -3M93 71l3 -2M52 183l2 -3M185 130l0 -1M163 190l0 -1M166 112l0 -2M184 87l2 -3M195 151l1 -3M190 153l3 -2M302 14l2 -2M74 43l2 -2M95 27l2 -2M195 108l-1 -2M67 175l0 -2M304 191l1 -3M270 217l3 -1M177 148l1 -2M216 97l1 -3M275 60l2 -3M115 61l1 -2M266 194l-1 -4M194 144l0 -2M86 130l-1 -3M184 105l0 -1M45 208l1 -2M87 156l0 -2M41 37l1 -1M76 49l0 -3M83 81l0 -2M8 160l1 -4M132 41l3 -1M29 18l1 -3M276 206l2 -1M164 120l0 -3M160 126l0 -2M117 18l1 -2M259 176l1 -1M137 98l2 -2M252 24l1 -2M298 107l1 -3M282 217l-1 -4M205 22l2 0M121 129l1 -3M104 132l-1 -3M44 48l1 -2M235 64l0 -3M289 35l0 -2M229 84l1 -2M85 22l1 -3M110 164l1 -2M93 114l1 -2M275 70l1 -2M294 4l0 -3M268 91l0 -3M220 172l1 -3M4 220l0 -3M45 79l-1 -2M52 60l0 -1M54 91l1 -1M37 106l1 -4M130 95l0 -3M183 61l-1 -4M181 58l0 -2M150 219l1 -2M145 207l0 -1M249 12l0 -2M296 170l2 -3M281 18l0 -2M235 2l1 -2M156 206l-1 -2M185 2l0 -2M99 129l1 -3M218 178l0 -1M171 203l1 -2M283 130l1 -2M291 84l-1 -4M262 188l0 -2M168 167l1 -4M63 53l-1 -3M226 209l-1 -3M298 151l-1 -2M74 45l2 -3M136 26l1 -2M30 142l0 -3M39 98l0 -1M259 33l1 -2M184 6l1 -2M136 155l0 -1M255 188l2 -3M183 47l1 -4M197 175l0 -1M111 81l0 -2M139 105l0 -2M107 32l0 -1M147 20l1 -3M152 205l0 -2M96 216l1 -2M102 140l1 -3M175 200l1 -2M176 27l1 -3M248 30l0 -2M287 51l-1 -3M239 144l0 -4M165 10l2 -3M16 125l1 -3M169 72l2 -3M74 171l1 -4M261 52l0 -1M65 87l0 -1M192 48l0 -2M281 116l0 -2M71 89l2 -2M51 115l-3 -3M12 12l-1 -2M57 212l1 -1M97 130l-1 -3M256 16l0 -3M45 24l0 -4M217 17l1 -3M72 114l1 -1M236 194l2 -2M138 33l1 -3M150 222l1 -3M131 112l1 -3M127 204l0 -2M192 214l-1 -3M99 63l1 -3M296 157l1 -1M58 181l1 -3M22 86l1 -1M239 49l0 -3M121 47l1 -2M300 199l2 -3M218 131l0 -3M8 144l-1 -2M270 42l1 -1M3 218l3 -2M217 194l-2 -3M282 205l1 -2M267 221l0 -1M104 52l2 -3M123 26l1 -3M253 194l0 -4M88 56l3 -3M204 210l1 -1M75 199l1 -3M103 51l2 -2M257 46l1 -2M101 78l-1 -3M51 174l-1 -2M207 89l0 -2M201 12l0 -3M286 26l-1 -2M91 195l2 -3M77 3l1 -3M12 135l1 -2M243 207l2 -3M99 67l0 -3M257 34l-1 -2M272 37l-1 -3M164 26l1 -2M157 44l1 -2M103 156l1 -3M229 5l0 -3M33 116l0 -3M43 31l3 -2M65 10l1 -2M232 58l1 -2M38 39l0 -3M288 158l-1 -2M140 49l1 -4M32 56l1 -4M286 2l2 -2M17 28l0 -1M94 219l1 -2M11 16l1 -2M224 184l0 -2M72 83l0 -3M152 86l1 -2M36 163l1 -2M158 66l1 -3M62 96l0 -2M124 78l1 -3M144 89l-1 -4M148 138l0 -1M119 66l0 -2M136 57l1 -3M84 113l1 -1M294 63l0 -2M228 190l1 -2M30 93l1 -2M76 184l2 -1M61 78l1 -2M157 162l0 -2M273 190l1 -3M60 54l0 -3M70 59l-1 -2M5 13l2 -2M32 162l1 -3M206 70l2 -3M56 42l1 -4M86 156l1 -2M262 183l1 -3M256 73l2 -3M21 68l2 -3M72 29l1 -2M139 127l2 -3M167 143l1 -2M206 224l1 -3M220 201l2 -2M126 17l1 -3M116 4l-1 -2M84 111l1 -1M196 32l1 -1M251 93l0 -3M115 101l2 -3M81 220l0 -3M176 149l-2 -3M271 8l-1 -2M145 133l0 -2M38 169l0 -3M10 206l1 -1M102 76l-1 -2M183 114l-2 -3M102 154l0 -1M31 46l3 -3M146 150l2 -3M44 139l0 -3M39 160l2 -1M276 59l0 -1M61 93l0 -2M185 51l1 -3M40 221l2 -4M269 75l0 -3M212 198l-1 -2M260 29l1 -1M206 29l0 -2M156 97l1 -1M258 95l2 -2M4 208l0 -2M36 198l2 -3M182 143l-1 -2M69 44l0 -4M9 129l1 -3M114 24l3 -3M297 203l2 -4M254 27l1 -1M27 10l0 -2M192 32l0 -1M82 68l1 -3M200 141l1 -2M269 174l2 -2M274 115l0 -3M285 34l1 -2M180 11l-1 -1M221 4l0 -1M100 214l0 -2M231 99l2 -2M222 166l1 -1M48 31l3 -2M149 153l0 -1M237 9l2 -3M178 118l0 -2M84 174l1 -1M56 76l1 -4M270 212l0 -1M81 14l0 -1M278 116l2 -3M117 51l1 -4M27 72l1 -2M161 222l1 -1M250 77l1 -3M232 128l2 0M186 127l1 -2M149 6l2 -2M294 205l1 -4M72 164l3 -3M198 224l1 -1M236 45l1 -1M70 32l0 -3M27 30l2 -1M282 17l1 -2M300 194l0 -1M298 8l2 -3M5 160l0 -1M274 4l-2 -3M60 137l1 -3M274 208l0 -2M80 210l1 -4M246 159l0 -3M15 13l1 -2M146 148l1 -2M179 191l1 -1M277 13l0 -1M36 107l1 -3M273 27l1 -3M149 113l1 -2M68 45l2 -2M104 44l1 -2M208 89l2 -3M261 43l0 -1M230 25l2 -3M35 34l1 -1M80 186l1 -3M127 201l3 -1M16 176l1 -4M105 210l1 -1M271 83l1 -3M302 47l2 -2M266 97l0 -1" stroke="#2c2660" stroke-opacity="0.8" stroke-width="2.30" stroke-linecap="round" fill="none"/><path d="M18 43l1 -2M13 33l1 -2M21 93l1 -1M188 209l0 -2M219 171l1 -1M111 73l1 -3M273 67l1 -3M39 91l0 -1M266 33l1 -2M226 58l0 -1M99 62l0 -1M251 35l0 -3M135 120l0 -2M57 203l1 -2M264 35l0 -1M106 49l0 -3M111 14l0 -2M143 74l1 -1M54 116l0 -1M127 183l1 -2M231 70l0 -1M199 159l0 -2M237 27l3 -2M92 51l2 -3M182 130l1 -1M269 17l0 -1M281 62l0 -4M17 72l1 -1M74 74l1 -1M244 9l2 -3M283 145l-3 -2M83 59l0 -1M274 134l2 -2M196 6l0 -1M284 42l0 -1M237 143l0 -2M249 10l1 -2M131 206l0 -3M264 36l2 -3M259 41l2 -2M275 26l1 -1M25 161l1 -4M64 166l0 -1M224 189l0 -1M208 124l1 -2M249 224l0 -3M264 139l-2 -3M250 112l2 -2M180 14l-1 -2M71 50l-1 -2M93 33l0 -3M236 132l0 -1M81 71l3 -3M227 21l0 -1M95 48l1 -2M262 25l3 -2M230 97l3 -2M236 74l1 -3M20 130l1 -2M261 75l-1 -3M109 64l0 -1M196 100l0 -2M102 57l0 -4M67 50l-1 -3M264 21l-1 -2M163 77l1 -1M277 31l0 -1M87 61l0 -3M267 26l0 -1M55 143l0 -1M105 44l1 0M256 16l2 -3M172 139l0 -2M105 95l0 -3M139 173l0 -2M122 178l2 -2M92 96l1 -2M291 99l1 -1M85 51l0 -2M90 61l1 -3M89 86l1 -1M75 138l0 -1M281 142l1 -2M99 81l1 -2M77 67l0 -4M130 106l0 -1M286 26l0 -1M87 74l1 -2M265 28l0 -3M238 126l0 -2M103 164l0 -1M149 194l0 -2M65 28l1 -3M94 52l1 -1M289 20l-1 -3M70 78l1 -3M58 195l0 -2M261 40l0 -2M62 171l1 -2M110 195l1 -3M124 45l0 -1M236 55l1 -1M121 124l0 -1M285 16l0 -3M73 55l0 -2M290 199l0 -1M218 26l2 -2M51 64l2 -3M36 49l0 -1M132 145l-1 -2M244 78l1 -2M31 46l0 -1M234 194l1 -3M37 14l0 -2M76 168l0 -2M72 61l1 -3M260 8l2 -2M192 32l3 -3M264 24l2 -3M72 102l1 -2M277 38l-1 -1M31 89l1 -2M79 42l1 -3M65 147l1 -2M301 84l0 -2M98 64l0 -2M235 71l1 -2M192 51l0 -1M92 74l2 -3M86 70l1 -3M286 118l0 -1M80 51l0 -1M34 205l-1 -2M69 88l-1 -3M207 205l0 -1M74 179l0 -3M292 66l0 -1M86 86l1 -2M130 72l2 -1M258 4l-1 -2M138 14l0 -3M243 8l1 -4M254 101l1 -2M54 13l0 -2M267 145l1 -3M250 14l0 -1M249 26l1 -3" stroke="#5236c0" stroke-opacity="0.85" stroke-width="3.60" stroke-linecap="round" fill="none"/></g></g><rect x="180.55" y="17.35" width="155.30" height="115.60" fill="none" stroke="#000" stroke-width="2.3"/><text x="259.00" y="11.80" font-family="Liberation Serif" font-size="11.7" text-anchor="middle" fill="#222" >CM</text><rect x="354.80" y="18.50" width="152.90" height="113.30" fill="#edf7f6"/><g transform="translate(354.80,18.50)" clip-path="url(#c12)"><clipPath id="c12"><rect width="152.90" height="113.30"/></clipPath><g transform="scale(.5)"><path d="M280 115l2 2M273 37l-1 1M104 54l0 0M62 98l1 1M150 194l2 0M116 70l1 0M166 192l0 0M287 13l2 1M216 46l0 0M200 157l1 0M22 195l1 2M55 155l2 0M198 73l1 2M78 29l0 2M15 184l1 1M240 58l1 1M212 42l2 0M161 58l1 1M57 162l2 2M205 76l-2 1M249 207l1 1M280 44l0 0M238 72l1 1M303 10l1 0M220 147l1 1M54 60l0 0M33 26l1 2M271 130l0 1M224 64l1 0M173 221l0 1M136 175l1 -1M2 159l2 0M259 7l0 -3M162 10l1 -2M168 93l1 1M302 44l1 2M18 115l2 1M176 121l1 1M239 188l0 2M160 143l1 2M304 214l0 0M45 210l2 1M221 65l0 1M50 120l2 0M40 32l2 2M178 184l0 1M96 5l1 1M226 184l0 1M137 135l0 1M39 197l1 0M37 32l0 -2M146 220l1 1M197 163l1 2M226 69l2 1M144 133l2 -1M262 218l1 2M232 11l0 1M154 112l1 1M101 146l2 0M129 186l1 1M7 192l1 1M108 120l2 1M240 115l1 2M8 190l2 1M245 125l0 1M222 107l2 1M105 30l1 2M109 104l1 0M301 75l-2 2M83 135l1 1M109 110l0 0M184 126l2 0M117 198l2 0M10 157l2 0M175 101l2 -1M5 68l2 0M186 115l0 1M288 62l1 0M102 194l0 1M267 98l1 0M87 55l0 -1M152 180l2 2M147 221l0 3M303 129l0 1M158 208l1 0M6 224l0 0M192 10l2 0M150 175l2 0M188 61l0 2M2 84l3 0M210 208l2 2M182 159l1 0M208 75l0 0M226 76l1 0M181 160l1 1M149 165l2 1M51 113l2 2M241 86l1 0M203 59l1 1M173 128l0 2M23 122l1 2M36 91l1 1M97 97l1 -1M149 205l0 0M92 222l1 0M199 11l0 3M172 216l0 1M203 81l0 1M239 48l1 0M204 59l2 0M138 22l1 -1M23 26l0 0M184 31l1 0M200 57l0 2M178 172l2 1M163 85l1 1M46 197l1 1M116 207l0 2M76 27l1 0M159 47l1 1M57 20l1 1M194 32l0 1M140 153l2 1M9 216l2 -2M257 6l0 2M6 91l2 -1M152 120l2 0M227 154l1 1M54 114l1 0M77 91l1 2M206 153l1 1M93 132l2 1M109 216l0 1M159 59l1 0M299 43l2 0M254 42l1 3M88 48l1 1M17 36l1 1M68 205l1 2M142 96l2 0M249 161l0 1M255 48l1 1M138 181l1 2M201 128l0 0M115 208l0 1M42 124l2 1M184 187l1 0M220 4l0 1M47 163l1 1M177 50l2 1M266 128l1 0M232 128l2 2M200 161l0 0M73 157l1 0M157 102l1 1M42 20l0 0M133 160l2 0M69 57l0 1M145 84l0 1M226 27l0 1M192 125l2 1M151 166l3 0M200 146l3 0M120 112l1 1M224 132l0 1M91 100l1 -1M77 90l-1 1M195 121l1 1M39 2l2 0M135 188l0 0M79 6l0 0M191 95l0 0M114 45l1 2M272 47l0 1M138 198l0 0M78 155l2 2M298 132l2 1M193 124l1 0M273 111l1 1M139 165l3 1M159 193l1 2M105 123l3 0M192 112l0 0M130 82l0 2M168 25l2 1M140 177l2 2M247 192l1 3M137 96l2 1M140 219l1 1M230 159l2 1M44 217l2 2M161 49l1 1M251 20l2 0M26 150l2 2M181 166l0 -1M52 109l0 2M51 68l1 2M219 160l1 1M293 148l2 -1M198 171l1 0M225 128l0 -1M132 66l1 0M130 99l2 -1M181 159l1 1M175 61l3 0M240 9l2 -1M90 211l0 2M28 122l2 2M192 114l2 1M217 157l2 -1M155 152l1 0M77 66l2 0M68 148l1 1M288 178l1 1M35 225l1 2M300 6l2 -1M90 182l1 1M116 225l-1 2M63 14l1 2M51 147l0 0M203 137l2 1M21 3l1 1M57 74l1 3M187 102l1 0M178 99l1 1M249 217l2 1M99 146l2 0M15 12l2 -1M178 143l0 1M238 2l1 0M38 87l2 0M253 12l1 -2M189 126l1 0M221 54l0 2M189 68l1 1M258 13l1 2M70 33l1 0M217 16l0 0M294 93l0 1M3 14l0 1M126 171l1 1M300 150l0 0M231 190l1 2M150 141l2 1M265 71l1 2M76 100l2 2M13 146l1 0M262 19l0 1M131 172l0 1M133 104l1 0M225 119l0 1M199 184l1 2M48 86l2 0M103 153l1 1M164 178l2 1M159 6l2 1M194 165l1 1M164 13l1 1M64 144l0 1M251 129l1 1M57 95l0 1M243 148l1 1M140 81l2 2M158 197l-1 1M137 225l1 0M54 80l2 1M57 134l2 2M147 218l2 -1M232 130l0 1M108 23l2 0M120 36l0 2M19 22l2 1M195 9l1 0M63 141l2 2M93 98l1 1M244 80l1 1M2 73l1 0M24 199l1 1M119 197l1 -1M190 16l1 0M81 46l0 1M229 154l2 0M223 189l0 1M246 95l2 -1M259 86l2 1M136 221l2 2M128 161l1 0M146 32l1 1M145 202l1 1M113 202l1 -2M242 104l1 0M225 149l0 1M135 25l1 0M139 96l2 1M191 76l1 0M194 163l1 0M233 178l1 1M150 79l0 0M121 167l1 1M139 164l0 1M3 156l0 1M84 12l1 1M3 181l1 1M129 192l1 1M133 207l2 1M200 93l2 0M152 68l2 2M255 55l1 1M292 66l0 0M173 178l-1 1M34 181l0 0M141 175l-1 1M109 145l0 1M123 83l1 0M62 116l0 3M27 223l1 1M162 73l0 -2M263 148l1 1M112 18l1 1M199 76l1 1M65 87l0 2M21 45l2 1M188 94l1 1M156 17l1 1M251 137l1 1M134 12l1 0M22 7l0 0M178 166l1 -1M110 150l1 -1M101 68l1 2M84 143l2 0M206 56l2 0M204 111l2 1M296 103l2 2M286 49l2 -1M165 155l1 0M257 203l3 1M60 73l2 2M50 78l1 1M215 209l1 1M256 164l0 0M192 200l2 0M162 201l0 0M191 197l1 1M127 83l1 0M264 220l2 1M253 9l1 2M66 23l1 2M198 39l1 2M34 35l2 -1M132 117l0 1M210 214l1 0M194 22l1 3M3 46l2 1M253 70l0 1M47 147l1 0M41 162l1 0M27 22l1 -1M241 185l1 0M127 5l-1 1M182 127l1 0M296 175l1 -1M17 14l2 1M294 132l2 0M72 35l0 2M141 73l1 -1M275 221l1 1M125 181l0 0M88 16l2 0M7 194l0 2M187 61l2 1M297 146l1 0M11 82l2 1M48 222l2 1M30 87l1 1" stroke="#8a82b8" stroke-opacity="0.5" stroke-width="2.00" stroke-linecap="round" fill="none"/><path d="M171 150l2 -1M146 87l0 5M154 5l4 2M196 52l3 2M271 95l5 1M177 79l0 3M75 92l2 0M213 37l4 3M261 188l1 4M107 166l2 1M225 69l3 4M3 57l-3 3M303 110l3 1M118 139l3 4M52 99l2 1M140 212l2 1M153 150l2 -1M94 36l2 2M33 140l5 1M127 74l-2 3M207 134l2 2M19 206l2 0M27 40l2 5M80 163l2 -1M213 201l3 0M136 156l2 1M209 164l3 0M190 21l3 1M136 26l1 1M216 216l2 -2M177 147l3 2M167 92l4 3M220 53l4 0M22 33l1 -1M138 142l3 -3M192 123l2 2M259 139l3 1M32 103l0 3M43 157l3 3M38 193l5 -2M61 168l1 -1M154 142l4 0M247 167l4 -2M127 131l1 2M160 105l3 0M190 72l1 2M124 20l3 -4M115 64l0 2M7 224l3 0M199 104l4 -2M181 127l1 1M29 115l3 -1M163 97l1 0M84 79l2 2M67 55l-2 4M128 168l0 5M40 33l2 0M136 59l4 0M102 5l2 2M234 154l4 0M198 63l1 0M160 167l0 1M219 49l2 -1M115 202l1 1M134 160l-3 4M88 189l1 1M265 150l0 4M169 97l2 1M68 14l5 1M192 100l3 1M253 90l2 1M244 193l1 1M271 54l2 -2M35 114l1 3M273 35l0 2M102 32l3 2M217 184l2 3M303 129l-1 2M67 11l1 2M110 88l2 3M116 63l2 3M153 183l1 1M194 62l4 3M70 96l-1 4M260 102l1 1M89 161l2 1M77 117l2 2M180 142l0 2M137 59l1 3M9 48l2 0M174 172l2 2M202 61l5 1M137 47l2 0M72 139l4 2M93 17l1 2M210 187l2 2M167 25l2 2M149 46l2 2M226 66l0 3M132 149l3 4M115 76l3 3M191 211l4 4M21 13l-1 3M155 164l1 4M190 27l4 1M92 123l3 1M129 185l1 4M265 10l3 3M298 69l0 4M20 189l2 1M62 76l4 2M260 99l1 2M247 153l3 2M135 41l1 2M212 152l1 1M8 190l0 4M83 125l-1 2M169 55l2 4M73 130l3 3M250 181l4 0M116 96l-1 3M145 140l2 -1M95 130l4 1M259 108l5 1M32 62l2 0M128 11l1 1M279 57l2 3M44 199l2 3M30 27l2 1M38 172l-1 2M73 111l3 3M179 97l-1 2M183 166l3 -1M135 204l1 1M31 162l3 -1M257 152l4 1M62 111l1 4M31 146l1 3M118 163l4 1M149 114l0 2M114 63l1 3M85 43l4 0M175 80l1 4M199 184l3 -1M221 66l3 1M263 22l4 1M162 90l1 1M46 16l2 1M234 71l2 0M165 73l2 0M148 17l3 1M266 57l0 5M295 20l0 -4M239 134l3 2M283 169l1 0M177 134l1 3M50 76l0 4M120 109l3 -3M185 2l5 1M191 146l4 0M133 92l4 0M138 121l2 1M97 144l2 2M156 44l2 0M235 61l3 -2M225 45l3 -1M6 224l0 -1M64 167l2 5M189 76l4 -1M99 79l3 2M6 174l3 2M285 156l1 -1M187 99l4 2M188 53l2 1M62 204l0 2M190 36l3 2M109 66l1 5M50 116l3 4M203 41l-1 3M93 107l1 1M110 89l3 0M145 101l2 4M213 115l3 -2M174 172l2 2M60 150l4 1M158 74l2 2M247 70l2 3M116 183l3 3M31 187l1 4M195 30l2 3M182 205l5 1M147 48l2 -1M240 111l1 0M155 132l2 4M68 191l3 1M195 205l1 3M115 123l1 -3M207 67l4 0M168 90l4 -2M169 48l5 1M186 148l4 2M219 221l4 4M191 57l-3 2M25 196l4 1M19 58l3 1M253 61l4 0M162 54l-2 4M219 113l2 -3M157 33l3 -1M281 25l2 0M41 177l4 -1M197 105l-3 2M227 82l4 4M133 116l2 3M261 55l1 0M120 209l1 1M271 189l4 1M203 60l3 2M60 126l2 3M92 30l4 4M136 151l1 1M230 189l0 4M303 110l2 0M203 40l0 4M189 145l2 4M46 25l3 2M214 152l-1 3M191 173l1 -1M184 51l2 -1M106 55l3 2M71 48l3 0M154 73l3 2M288 135l2 3M35 173l4 2M73 49l1 1M165 66l0 4M149 71l3 3M229 106l5 1M17 129l4 0M173 90l2 2M66 37l3 2M94 2l1 2M278 17l4 3M126 204l1 1M217 131l2 3M17 30l1 5M111 52l2 0M100 148l0 5M109 13l4 2M180 29l2 1M52 190l5 0M228 91l5 2M201 138l1 4M237 110l3 3M234 53l3 2M215 55l1 1M215 39l3 -1M303 29l3 2M272 26l2 -1M159 108l4 3M270 54l1 2M210 137l5 1M177 191l2 5M168 213l-1 3M166 220l2 -1M215 180l2 3M170 131l1 0M273 129l5 2M235 67l-1 4M7 4l5 1M190 50l2 1M41 177l4 -1M54 199l3 -2M301 225l1 1M154 191l2 2M171 103l1 0M233 98l2 3M43 218l4 -2M220 159l0 4M40 149l2 0M145 88l-1 1M201 198l-1 3M74 139l1 3M162 58l1 2M129 162l1 2M298 123l2 4M217 31l3 -1M28 66l5 2M163 173l2 2M126 83l2 2M182 205l1 2M155 177l0 3M148 174l3 2M104 24l0 2M248 188l5 0M90 126l2 1M292 110l0 2M52 67l1 2M127 200l1 -2M132 11l1 0M276 85l2 2M221 62l5 1M183 98l2 1M134 206l-1 1M270 41l2 2M226 79l3 2M79 70l3 2M85 2l2 2M44 219l2 1M216 166l1 1M116 36l3 1M20 204l2 3M193 70l2 1M165 47l-2 4M40 209l1 2M115 155l4 3M31 73l4 -1M168 179l-1 3M185 107l2 1M28 198l1 0M163 141l1 1M222 14l1 1M259 127l5 0M191 96l2 0M155 131l0 3M135 43l3 2M38 208l1 -1M111 183l2 0M65 153l4 1M158 8l0 1M181 202l2 1M165 80l2 3M209 129l1 4M264 175l-1 4M208 146l-1 2M23 181l4 1M66 78l4 1M194 96l4 1M282 144l2 4M117 171l4 -2M50 151l3 3M221 115l4 0M105 140l2 3M262 74l4 0M197 185l2 -1M162 62l4 3M20 21l4 -3M173 105l1 1M190 118l3 0M301 12l1 3M301 123l2 0M295 121l4 3M52 92l5 0M132 103l1 3M52 148l4 1M243 98l3 -1M157 214l5 2M55 122l5 2M11 154l1 1M187 68l2 0M235 171l2 0M236 116l2 0M216 22l2 4M189 109l2 -1M279 161l3 3M288 127l3 1M142 54l2 0M183 193l1 2M247 2l2 1M72 154l2 3M23 72l2 1M129 215l-1 5M107 201l4 1M111 177l2 4M236 214l0 2M142 200l2 -5M93 81l2 1M113 98l4 2M78 161l4 2M100 140l3 2M69 11l3 2M22 118l5 0M132 178l0 2M141 94l2 3M172 122l4 0M146 217l1 0M145 53l2 0M62 145l2 1M84 21l2 0M120 104l1 1M47 25l2 2M152 26l3 1M184 197l0 3M208 119l0 4M66 206l5 -1M209 150l1 1M177 202l1 1M62 151l3 4M298 27l0 4M209 71l0 2M157 54l2 1M216 139l2 0M301 22l0 2M300 17l2 1M98 212l2 -1M7 208l2 1M173 88l2 1M102 113l2 0M92 132l2 4M247 42l4 3M79 13l1 3M237 176l2 2M34 161l-1 2M21 186l4 -3M159 115l3 1M155 71l2 1M217 6l2 1M217 188l-1 3M234 117l2 -3M183 93l2 1M59 201l2 0M302 57l4 2M30 132l2 0M188 26l4 1M190 112l1 3M156 157l0 2M11 66l1 1M152 191l3 3M24 135l3 1M168 105l4 2M54 154l1 1M71 201l4 1M177 41l3 1M145 128l3 2M56 21l3 4M266 209l4 3M124 171l1 4M261 118l2 -3M203 207l3 3M13 163l0 3M15 87l2 3M115 74l4 1M138 220l5 1M2 7l5 0M301 85l1 1M196 169l0 2M107 36l0 2M161 43l4 1M141 82l3 3M166 116l2 0M243 161l4 1M216 122l-2 3M256 53l2 1M210 209l4 0M3 134l3 4M211 174l4 -1M146 83l1 2M187 83l2 4M183 85l2 1M293 171l4 -1M76 19l3 3M281 78l3 0M187 162l3 1M224 117l-2 2M228 94l3 1M70 155l3 2M31 169l2 3M189 122l3 -1M77 124l3 1M164 60l2 4M264 196l2 1M165 181l4 1M210 20l4 -1M4 9l0 4M84 43l-1 2M50 89l3 1M210 206l0 3M198 133l3 -1M223 14l2 2M225 205l1 1M266 61l2 3M220 61l2 0M217 17l2 -1M108 115l3 3M230 163l2 0M277 49l5 0M16 48l-1 5M218 145l3 -1M24 206l1 4M120 121l2 1M206 218l2 1M41 48l2 3M112 119l0 1M71 104l5 2M103 21l2 1M103 146l4 -1M49 17l5 1M106 114l5 -1M119 75l5 -2M37 169l1 4M168 150l1 4M234 200l1 1M290 59l-1 5M140 29l1 1M215 64l2 0M211 201l4 0M189 166l1 2M139 8l1 4M85 62l0 2M125 192l5 -2M134 164l3 1M121 50l-1 3M260 65l5 0M233 50l2 0M168 206l5 -1M146 75l1 2M38 177l3 2M163 131l1 2M142 50l3 0M203 40l3 4M16 214l1 -2M140 53l2 -1M172 58l-2 4M42 139l1 3M29 194l0 2M210 197l1 2M200 78l1 2M210 40l3 1M118 165l1 4M126 139l2 2M19 54l3 2M149 119l4 -1M129 53l2 2M153 81l1 1M170 49l1 2M165 47l2 4M264 178l5 1M296 218l2 0M136 51l2 3M279 57l2 -1M66 130l3 2M231 53l2 4M148 169l2 3M27 2l0 2M145 88l3 4M148 3l1 2M57 65l3 0M114 180l0 4M157 214l4 -2M191 70l1 1M257 177l2 0M223 142l1 1M20 174l2 1M3 16l2 0M188 150l3 0M269 65l1 1M100 181l3 3M101 127l2 4M297 23l0 2M201 36l3 4M29 52l1 4M17 187l1 1M203 62l3 0M21 33l3 -1M202 225l1 2M157 175l2 5M57 119l4 0M298 78l3 -2M65 142l1 2M111 221l1 1M123 173l3 0M138 168l4 0M120 70l3 2M29 123l1 3M170 173l2 1M238 96l0 3M210 150l5 -1M124 73l2 2M281 20l3 -1M115 85l3 -2M216 206l2 0M42 19l2 2M43 29l2 0M85 18l0 3M283 88l0 5M54 102l1 2M236 12l3 4M167 19l3 2M221 8l3 1M197 94l3 1M43 154l2 2M169 218l3 1M95 156l1 5M127 30l1 0M12 27l2 0M7 115l1 -2M206 155l3 3M85 105l4 1M216 167l2 4M175 75l-2 3M280 71l1 3M136 64l3 2M160 4l1 5M230 191l3 3M233 50l4 2M118 48l2 4M146 200l5 0M199 95l4 2M100 42l1 1M219 87l1 4M150 60l4 1M166 85l1 3M104 217l4 1M143 96l2 -1M109 3l3 2M232 197l1 3M223 121l2 3M252 110l2 3M153 218l4 2M226 183l0 2M170 61l3 2M170 194l1 4M26 216l2 2M143 155l5 2M282 32l4 2M7 105l0 4M268 108l-1 3M154 51l4 -2M180 191l2 3M40 66l4 2M143 57l4 2M241 196l0 5M256 203l3 0M2 47l1 3M252 20l3 2M242 181l1 1M132 176l2 1M6 123l0 4M73 199l1 3M114 62l0 5M224 61l5 -1M211 55l1 4M113 210l2 1M261 186l3 -1M258 50l1 1M273 16l1 1M252 181l0 2M160 48l1 1M158 72l2 -1M46 154l2 3M194 141l3 2M232 140l1 1M141 136l2 3M207 48l4 -2M188 161l2 -1M200 183l2 0M137 69l-1 3M45 23l3 -4M127 177l4 3M158 206l5 1M257 110l1 0M225 143l4 0M224 44l2 0M288 216l3 3M204 104l1 2M174 43l2 1M28 183l1 5M151 41l2 -1M192 29l4 -1M255 60l3 0M168 217l3 3M172 104l2 3M3 27l4 -2M287 207l-1 3M134 145l2 1M288 108l1 2M241 15l2 2M284 32l1 2M283 27l4 2M274 19l2 2M158 103l2 2M283 51l4 0M134 10l5 -2M258 182l0 3M129 121l2 1M133 119l0 3M227 66l3 2M9 103l3 3M131 150l3 2M172 225l2 -1M88 9l0 5M223 125l3 3M113 93l4 0M132 139l2 2M59 168l3 0M267 87l4 3M208 126l-3 1M21 10l1 0M87 207l4 0M154 41l0 5M289 106l-1 3M23 224l2 1M297 208l3 2M115 27l3 4M230 80l2 -2M179 205l3 2M209 159l1 0M191 82l4 0M4 104l0 5M302 29l4 2M120 57l3 1M121 116l1 4M139 164l5 -1M129 34l4 0M193 220l2 2M71 91l2 2M36 24l3 2M271 151l1 1M263 116l2 2M292 17l2 2M247 96l1 1M5 128l2 1M221 109l-1 1M146 191l4 2M110 155l3 -4M186 6l2 4M2 24l1 4M223 49l3 1M228 47l5 1M231 43l2 4M182 35l1 1M175 140l4 -1M216 78l2 2M211 100l4 2M64 132l4 -2M117 106l3 2M198 191l1 -1M205 61l1 0M287 36l1 2M141 117l2 2M99 114l1 1M141 177l1 2M118 195l0 2M4 141l2 2M243 76l-1 3M171 106l0 3M115 23l0 2M270 85l4 0M55 115l0 4M35 13l1 -1M96 139l2 2M288 31l4 -1M206 29l1 1M212 59l2 4M142 64l-1 2M61 69l4 1M267 193l1 2M174 35l1 2M189 56l2 -1M166 177l3 4M44 17l4 -1M156 57l4 3M134 209l1 2M163 59l1 3M202 26l1 2M218 79l2 2M13 65l0 2M187 98l1 1M55 140l4 1M149 18l-1 5M92 63l3 3M153 51l1 1M202 76l0 2M240 29l4 2M144 73l0 2M165 38l1 1M136 64l2 1M155 157l-2 4M8 28l3 1M4 41l1 -1M218 110l2 5M165 53l4 1M276 202l2 1M164 36l2 1M32 161l2 2M203 133l3 3M88 32l1 2M116 221l2 4M139 191l5 0M10 84l2 2M25 57l3 4M89 142l2 0M26 179l3 1M143 167l4 3M170 37l3 0M52 89l4 1M159 112l2 0M136 101l2 1M58 121l4 1M16 46l2 1M99 139l5 2M12 115l3 0M30 163l1 4M241 47l3 3M72 180l3 0M24 145l3 2M266 50l2 0M217 76l4 3M12 48l3 0M37 89l4 -1M234 218l3 4M58 12l0 4M122 209l4 2M46 214l1 1M195 154l0 3M299 149l2 1M260 37l1 1M212 74l1 1M136 98l5 0M219 91l2 1M43 210l2 2M205 51l2 1M188 84l1 1M11 95l3 1M201 206l-2 2M129 114l4 3M197 209l3 1M153 173l-2 3M191 76l2 2M253 135l3 4M42 178l1 1M89 78l5 0M197 206l2 1M16 129l3 0M102 14l3 0M232 99l2 2M141 111l0 1M171 77l3 4M198 166l2 4M100 17l2 -1M233 139l5 0M172 85l4 1M19 37l4 0M154 116l5 0M298 12l3 3M125 116l3 4M223 89l2 0M157 159l4 1M31 154l4 3M221 105l2 1M146 16l1 1M235 38l2 1M36 98l1 0M196 186l5 -1M128 79l4 1M188 221l1 3M169 141l3 3M159 223l1 0M59 35l5 0M192 84l2 2M179 9l4 0M77 72l3 1M264 169l1 -1M128 72l4 0M228 122l1 -1M177 171l5 0M184 89l3 0M135 153l2 2M201 154l3 2M30 135l1 2M204 183l4 -1M244 150l4 1M66 5l0 4M221 16l-2 3M161 149l2 1M109 102l2 1M82 20l2 4M51 157l1 1M290 33l2 1M216 196l4 1M115 7l2 1M108 100l2 0M157 53l0 1M150 43l-1 3M180 2l0 2M283 35l4 -2M186 72l3 1M280 179l1 1M210 56l1 3M190 188l1 1M120 202l0 4M124 54l2 1M32 104l-1 2M208 43l3 1M200 29l4 1M158 128l5 1M122 99l3 1M27 138l3 3M60 124l4 1M158 185l3 2M214 172l1 3M5 74l0 2M59 9l2 3M18 116l1 1M218 124l2 1M104 73l2 3M184 146l1 3M207 47l3 0M63 88l2 3M41 205l4 3M151 208l2 1M129 21l1 -1M98 144l2 -1M296 54l4 1M83 118l2 2M242 145l5 -2M254 178l4 2M188 40l3 -2M47 9l3 1M174 182l4 3M39 91l3 1M97 53l4 0M143 178l1 5M195 106l5 2M244 62l-1 1M23 86l0 1M240 11l3 1M137 81l3 2M161 96l5 1M26 57l1 3M66 39l2 4M230 131l0 2M190 112l4 0M162 4l0 2M19 137l-1 5M116 202l2 0M234 55l2 -2M271 131l1 0M12 193l2 2M297 217l4 1M254 20l0 4M122 115l4 0M177 45l-2 3M242 29l1 1M62 196l0 2M57 30l4 0M206 61l2 1M295 49l5 -2M244 25l1 4M139 162l0 2M188 158l4 2M165 123l2 1M166 15l2 1M30 78l2 2M283 84l2 -1M114 133l4 3M189 37l4 0M110 17l3 3M194 195l2 1M100 35l2 0M50 47l3 2M271 121l2 5M234 13l0 3M166 153l1 1M249 112l0 4M240 154l1 5M120 189l3 4M156 141l0 2M108 14l0 2M220 152l3 3M78 159l5 -1M31 36l0 1M273 86l3 -1M205 99l4 -3M1 129l1 2M126 197l2 1M160 87l3 -4M37 168l0 1M214 23l1 2M229 13l0 4M144 148l-2 2M218 72l2 1M195 191l2 -1M33 179l3 1M231 35l3 3M157 29l2 2M43 129l3 -2M145 191l1 2M186 27l2 1M213 86l0 1M34 156l2 1M134 184l-1 1M242 42l5 0M172 82l0 2M107 86l4 -3M201 137l1 3M36 20l0 4M129 152l2 1M295 35l3 1M85 26l4 3M296 75l3 -1M171 178l2 0M183 197l2 -2M125 189l2 1M238 159l1 2M130 119l3 1M46 20l2 3M289 165l2 1M43 167l4 1M219 93l4 -3M176 122l2 5M159 44l1 0M86 35l2 -2M24 160l-1 4M217 118l0 2M177 88l1 -1M126 48l1 3M164 122l4 2M16 102l1 -4M132 5l3 1M196 98l3 3M164 160l4 -2M37 157l2 0M172 86l5 2M182 91l3 0M283 6l2 0M200 41l2 1M174 224l2 1M18 6l2 -1M183 92l0 3M142 148l1 2M76 190l1 0M20 114l3 3M238 43l4 2M233 81l2 1M212 102l0 2M123 203l4 1M166 106l2 2M32 17l1 0M170 103l3 1M193 139l1 5M152 133l-1 3M214 27l4 2M91 152l1 1M293 146l3 3M193 101l5 2M242 148l2 0M168 126l2 -2M131 49l0 2M168 85l2 -1M60 141l2 1M219 103l4 1M266 116l-1 3M194 139l3 4M192 74l4 1M53 139l1 2M121 67l2 2M53 148l1 -2M289 32l1 2M105 48l0 1M126 67l-2 2M58 127l-2 4M285 216l-1 4M131 190l-3 4M139 151l3 0M70 208l3 3M219 115l1 2M281 109l3 1M198 75l1 4M186 49l3 -1M98 217l0 1M10 97l3 4M221 15l2 2M136 11l1 2M246 113l2 -2M147 86l0 3M302 42l1 5M181 142l3 3M105 73l2 0M179 151l4 -1M185 201l1 1M11 28l2 0M137 211l3 2M208 169l4 1M141 162l3 -2M74 91l2 3M198 98l2 1M202 105l3 3M221 99l4 2M82 20l5 1M164 178l1 3M89 18l0 4M47 209l3 3M150 194l4 2M213 88l1 2M180 9l0 2M88 122l3 2M86 140l3 2M292 119l2 -2M188 106l0 1M210 190l2 0M174 139l1 3M206 210l3 1M118 62l4 2M104 29l3 0M18 3l1 -2M145 222l-1 4M109 207l4 0M24 171l5 0M179 209l0 3M42 72l-2 2M176 24l2 1M39 88l3 -2M170 102l1 -1M212 120l4 0M162 210l4 2M108 42l-1 1M154 62l1 4M198 213l3 3M2 155l1 2M21 130l3 3M157 68l2 1M243 121l-1 2M221 104l3 3M181 117l2 0M262 190l0 4M197 90l3 0M167 225l-3 1M91 137l1 2M115 210l3 1M184 138l4 1M160 102l3 2M206 86l4 -1M183 48l2 0M120 159l5 1M142 96l-1 2M155 97l2 2M70 214l2 3M103 116l1 0M127 223l3 1M33 53l2 0M91 206l5 1M164 10l3 4M51 135l2 1M176 131l2 2M239 129l1 2M58 118l2 4M157 102l2 -1M56 124l4 -1M142 53l3 4M189 96l2 2M187 141l1 1M189 89l2 1M139 218l1 1M126 151l2 1M131 63l3 2M221 104l3 0M113 120l5 1M254 115l2 1M130 105l2 1M107 98l0 2M107 34l4 2M131 151l2 -2M164 194l5 -2M45 116l3 0M213 150l5 1M134 39l4 2M201 89l1 2M177 92l2 5M54 11l2 1M132 123l3 -2M279 16l2 1M250 168l2 1M174 35l2 0M267 189l2 1M2 16l1 1M168 64l2 1M127 103l0 5M149 78l3 3M164 52l2 3M11 62l0 2M185 97l3 -2M51 117l2 -2M145 175l4 2M148 160l3 0M72 42l2 2M145 167l2 1M16 12l2 2M205 61l1 -2M51 124l2 -1M13 2l2 4M216 106l4 -3M244 216l1 3M193 169l4 0M48 10l-1 4M138 220l1 5M70 96l2 1M186 117l4 2M90 94l-1 1M293 25l3 -4M160 99l2 0M256 70l-1 4M39 172l5 0M239 221l1 1M93 117l3 4M204 22l2 -4M305 50l3 1M99 120l3 0M45 122l4 1M138 94l2 0M127 5l1 1M153 202l1 3M256 198l4 0M114 207l3 2M120 86l0 3M25 39l2 1M199 100l2 2M22 6l4 -3M186 74l1 1M180 67l4 -2M20 127l0 5M131 171l3 -1M57 191l5 1M153 54l2 2M30 187l1 1M211 97l2 0M140 107l3 2M141 86l1 1M266 3l3 3M57 92l2 2M5 36l2 3M128 167l3 1M138 180l2 1M38 129l3 -4M286 199l3 2M277 6l1 5M224 64l-1 4M17 175l1 2M20 164l3 2M168 39l2 1M218 105l4 2M132 165l2 2M75 204l-1 4M135 145l1 1M169 82l1 1M50 114l1 3M162 67l3 0M144 113l-1 5M202 211l2 1M159 66l1 1M130 89l1 1M284 60l3 2M235 37l-1 3M41 138l2 -1M221 223l1 2M58 83l2 2M168 51l1 -2M133 99l3 1M246 85l3 0M30 24l2 0M287 146l1 3M105 203l2 1M69 137l-1 3M160 18l1 1M123 154l-1 3M208 161l2 -1M125 140l1 -1M11 102l-3 3M81 111l4 2M89 119l2 1M207 29l2 2M2 61l3 2M70 13l1 3M199 160l3 -2M93 158l3 2M60 1l2 1M189 59l3 2M27 41l1 2M228 202l4 -2M28 9l2 0M32 111l3 2M168 170l4 3M290 206l2 -1M118 21l1 -2M18 222l1 0M120 192l0 1M229 21l5 1M54 54l2 1M89 205l3 1M204 200l2 2M161 82l2 0" stroke="#1e1840" stroke-opacity="0.82" stroke-width="2.40" stroke-linecap="round" fill="none"/><path d="M44 2l4 1M23 156l3 3M34 96l1 3M156 184l4 -1M54 158l1 2M105 55l-4 0M215 49l3 2M116 22l4 3M211 123l3 1M69 123l3 4M126 140l3 0M247 38l2 4M8 70l-1 2M219 67l1 2M143 144l3 0M40 14l1 1M228 215l5 1M130 123l1 -1M184 152l3 -1M228 57l4 1M154 104l2 1M107 213l1 4M23 152l0 4M129 71l1 1M7 112l1 0M190 224l4 -1M111 65l1 1M263 222l3 2M62 50l1 3M158 98l3 4M44 123l2 3M186 157l3 4M152 206l3 2M80 18l-2 5M13 188l2 2M294 34l4 3M1 19l5 0M14 198l0 2M218 39l1 -1M2 105l2 -2M33 96l0 2M54 113l1 1M131 51l3 0M19 204l1 4M244 87l4 3M152 151l2 0M157 147l0 1M128 173l2 0M195 51l3 0M10 203l-1 1M155 72l2 1M161 51l2 2M41 223l4 -1M153 96l5 -1M172 77l4 1M228 39l3 1M34 17l2 1M242 59l4 1M205 156l5 -1M98 77l2 -3M136 61l2 2M95 61l3 2M16 183l1 0M81 106l2 -1M40 15l3 3M172 145l1 0M161 35l3 3M3 7l2 -1M108 197l-1 4M204 164l3 0M121 126l3 0M24 214l2 1M17 22l4 1M272 6l2 2M228 156l2 2M128 37l0 4M44 128l2 2M294 99l2 1M249 56l0 2M262 58l2 -4M297 190l3 0M222 59l2 1M204 7l3 -3M10 165l2 1M122 175l0 2M154 198l4 2M157 53l1 2M166 30l1 1M159 45l2 0M192 203l1 -1M174 65l-1 3M125 40l0 2M170 208l1 -1M104 66l2 1M34 94l2 4M188 172l3 3M192 25l1 5M293 21l4 1M173 179l3 2M50 6l3 -3M212 47l2 3M15 138l-3 3M280 102l2 0M150 36l1 0M17 118l1 2M50 102l-1 1M193 112l0 4M78 168l3 1M203 127l0 1M133 69l4 3M33 146l-1 2M211 66l2 2M182 222l1 1M169 58l3 2M73 224l2 3M199 99l4 1M133 223l1 1M144 9l4 1M196 108l4 -1M172 197l-2 5M3 207l2 2M170 13l0 4M252 92l1 2M268 21l-1 2M20 34l2 -2M207 45l4 -4M130 222l4 0M274 90l2 3M14 132l3 3M186 93l5 2M172 116l4 -2M239 50l2 -1M213 107l4 2M7 185l1 0M31 82l3 2M75 147l-3 3M301 7l2 1M70 122l1 4M46 216l2 -2M6 37l2 3M223 89l4 -1M167 186l2 4M101 142l2 -3M207 187l3 -3M232 112l1 0M76 20l1 0M155 1l1 1M218 78l3 1M78 119l2 0M239 190l3 -1M180 171l3 -1M47 134l5 -1M113 88l4 3M239 95l3 0M95 104l2 1M233 218l1 1M279 112l2 1M264 224l1 2M295 11l3 2M97 20l4 1M251 18l1 4M230 130l2 -2M212 118l3 0M157 42l1 2M73 63l2 0M240 119l0 3M214 50l-1 5M121 108l2 3M165 171l-1 5M148 165l2 1M116 43l3 4M17 7l1 1M95 6l-1 3M157 152l4 3M252 150l1 1M237 145l3 1M188 103l1 1M13 220l3 3M185 210l-2 4M160 205l1 4M78 37l3 2M223 103l5 1M41 159l3 1M12 172l2 0M138 218l2 2M150 189l1 0M63 125l5 1M105 172l2 1M233 140l-1 5M156 199l3 2M13 179l3 2M101 32l-2 3M231 150l4 2M283 147l3 0M5 204l3 -1M110 124l0 -2M238 26l1 1M123 106l1 2M154 32l-1 4M158 175l5 1M42 216l4 2M89 56l-2 4M156 45l2 1M201 115l1 0M44 202l3 -1M202 40l1 2M183 86l-2 0M122 116l5 0M79 208l1 3M178 131l1 1M114 217l3 3M155 167l3 2M155 203l3 2M12 129l0 2M100 10l1 1M272 155l1 3M212 53l3 1M238 94l0 3M105 175l0 4M9 125l1 2M35 126l3 1M128 199l0 4M190 85l1 2M151 18l4 -1M175 122l2 3M94 93l-3 3M223 171l2 1M80 84l4 -1M66 130l3 1M188 130l3 0M279 5l0 4M208 120l2 5M156 154l1 3M155 137l3 -1M177 156l2 0M181 188l4 3M73 119l1 3M123 147l1 -1M147 63l4 1M220 62l1 2M26 222l2 0M101 128l3 0M80 131l0 3M269 22l3 1M205 29l1 3M138 173l4 3M118 108l2 0M187 137l-4 2M271 110l-1 1M218 175l4 2M207 124l3 1M120 189l4 -2M259 127l1 4M251 91l0 2M245 76l0 3M181 33l3 2M235 81l1 -2M232 41l1 0M107 66l1 0M143 41l1 3M143 22l5 1M119 38l3 3M157 155l2 -1M96 150l0 1M274 39l2 4M188 37l1 2M288 131l3 2M104 102l-2 3M180 107l1 4M295 141l1 1M98 207l1 0M147 203l3 2M274 215l-4 3M24 65l-2 3M37 131l-1 3M40 155l1 2M154 21l4 3M34 132l4 2M195 66l1 3M161 197l1 1M142 211l2 1M247 71l1 1M254 76l3 0M133 74l2 3M2 3l2 2M188 103l2 -1M167 168l1 2M130 199l1 3M241 74l2 0M238 103l0 4M29 71l1 0M39 221l1 4M22 76l-1 5M89 34l3 0M282 51l1 -2M51 129l1 -1M200 38l3 0M191 32l0 2M222 172l1 1M6 159l3 -1M283 19l0 2M175 157l3 3M113 73l1 2M136 152l4 1M174 186l4 1M57 117l0 3M49 37l1 1M109 216l0 3M213 150l2 1M177 16l1 1M157 222l0 2M50 59l1 1M179 139l2 0M237 129l3 0M222 214l3 0M285 18l5 0M226 18l2 2M48 137l1 -1M136 130l2 4M92 48l3 1M120 43l2 0M301 25l4 3M198 42l2 4M119 212l1 1M278 127l0 1M153 10l-1 2M175 19l4 1M209 138l2 4M206 164l2 1M188 209l2 3M113 20l1 0M118 203l1 1M227 220l1 2M34 55l1 1M161 98l2 1M7 211l2 0M27 213l1 0M200 179l0 1M119 143l3 0M71 219l4 3M88 6l4 2M184 187l2 3M12 140l-1 3M8 213l1 3M261 202l2 3M58 23l0 1M259 114l1 2M302 15l3 2M158 152l3 1M73 58l2 2M122 80l2 0M179 220l1 -1M27 64l3 0M173 119l2 2M152 107l4 2M175 84l3 -4M139 223l2 -1M300 79l2 0M189 185l4 -4M117 201l0 2M128 223l1 2M123 93l3 0M126 46l0 1M202 50l1 1M229 165l3 3M77 94l2 1M231 48l0 1M91 22l2 2M35 106l2 1M145 9l1 0M207 162l1 2M180 77l1 4M244 179l1 4M196 78l3 3M129 37l1 -2M196 144l4 3M76 77l0 1M29 44l3 -2M242 217l2 1M123 208l2 1M287 171l5 1M195 172l3 0M151 18l5 -1M158 142l-1 3M51 28l1 2M61 125l2 0M166 194l2 2M177 84l4 2M159 87l1 1M199 74l2 2M158 168l2 4M233 108l0 2M73 141l3 0M254 69l1 0M210 127l2 1M195 190l2 1M148 58l1 1M211 27l2 3M289 188l1 3M242 128l3 2M149 59l3 0M103 202l1 0M68 24l-1 1M101 13l5 2M278 106l2 1M133 63l5 0M137 209l2 1M135 204l2 1M32 99l2 4M22 203l3 3M239 146l2 2M193 87l3 3M227 131l2 3M37 207l3 5M123 179l2 4M202 132l1 0M10 4l3 2M31 9l2 2M225 55l3 2M203 58l1 0M51 129l1 2M44 210l5 1M263 124l3 2M221 90l2 5M25 219l-1 1M216 93l3 3M7 37l4 3M4 5l3 2M180 92l3 -2M159 199l2 4M149 125l3 0M262 110l1 0M157 77l-2 2M145 27l3 2M79 213l1 0M274 209l4 0M173 192l-1 4M214 152l2 -1M16 109l1 0M203 95l3 0M194 197l3 -1M14 168l1 2M160 93l1 5M276 171l1 1M245 211l3 4M31 60l3 -1M173 121l1 3M297 31l2 3M28 91l-2 2M294 68l2 0M274 90l2 0M2 72l0 1M138 42l3 3M180 21l1 1M164 105l5 1M160 61l2 2M77 200l2 4M246 100l5 0M207 104l3 3M291 64l1 3M218 145l1 3M161 118l2 2M177 87l1 1M125 218l0 1M166 150l-1 3M145 157l4 3M4 118l2 3M34 186l5 0M123 12l2 2M209 45l3 0M250 175l1 4M97 134l1 1M250 143l3 4M190 163l-1 4M226 170l2 3M146 174l1 4M114 116l1 1M217 116l3 4M94 132l5 2M67 39l2 2M50 84l5 -2M38 22l2 3M86 166l3 2M129 60l1 2M3 210l1 0M42 6l1 3M249 63l2 4M269 11l1 1M153 172l1 0M8 11l2 5M180 198l5 1M145 144l3 1M216 217l1 1M219 186l3 0M182 16l2 3M196 91l3 1M7 105l1 3M212 51l2 3M281 107l4 -2M37 138l3 -4M151 200l4 0M226 212l1 0M278 177l1 0M293 131l3 3M28 19l1 -1M25 36l1 1M165 52l1 0M240 32l1 1M41 33l3 4M148 139l1 0M58 221l0 1M294 1l4 2M240 38l2 -1M206 164l3 3M289 13l2 0M111 31l-1 2M214 42l2 2M296 25l1 1M111 17l2 -1M213 85l5 2M186 107l0 3M122 195l0 2M299 80l1 0M208 30l3 0M6 185l1 1M68 89l1 0M146 76l2 3M301 181l0 1M271 29l4 -2M4 18l4 1M202 79l5 1M215 83l-1 3M215 134l1 2M146 134l1 0M22 21l2 0M133 204l2 2M143 88l1 3M1 152l1 2M7 182l3 2M94 72l4 2M166 129l3 -2M247 99l4 1M209 62l2 -3M145 34l4 0M216 58l4 2M204 158l2 2M169 137l3 3M112 31l1 1M32 138l4 1M190 207l3 3M105 147l3 1M279 146l1 1M212 25l1 0M189 73l5 0M45 103l0 2M164 58l1 2M268 148l3 1M296 107l0 1M114 177l3 0M156 125l2 4M107 72l2 -1M175 99l1 1M32 144l3 1M166 83l2 -1M20 136l4 -2M70 29l4 0M163 220l1 1M120 26l0 1M25 178l2 2M157 153l1 2M152 61l0 1M144 42l3 1M180 113l0 3M155 221l3 3M135 198l0 1M180 153l1 1M45 67l1 1M160 200l4 2M130 208l2 2M140 163l1 -1M278 142l1 2M18 11l1 2M177 143l1 0M257 158l1 3M7 208l3 -1M170 13l3 4M121 81l2 4M303 181l1 3M168 56l4 -1M205 98l0 2M224 44l3 0M129 118l3 4M207 94l3 2M270 118l4 0M301 220l1 1M135 168l0 2M156 37l1 1M228 132l3 -1M293 15l1 1M115 39l4 -1M260 150l2 1M231 4l3 -4M149 146l2 4M109 168l0 1M257 27l1 0M6 50l0 2M103 92l3 -1M39 26l5 2M246 81l2 0M284 82l2 1M156 164l1 0M136 63l2 4M108 175l1 0M137 205l5 1M54 135l3 0M228 137l4 -1M187 191l4 2M203 162l1 -1M18 52l2 4M280 134l4 2M247 103l1 5M219 70l3 4M163 67l1 0M25 1l3 1M234 75l0 1M224 55l1 0M14 6l-1 5M46 34l3 4M296 160l3 1M175 6l2 1M8 153l-1 1M273 220l1 2M202 8l-1 3M109 224l4 -2M172 4l3 -2M189 171l0 1M176 197l2 2M66 45l5 -1M48 139l0 2M44 44l1 1M272 44l2 4M228 29l2 -2M111 156l2 4M185 150l0 1M18 204l1 2M235 177l2 5M161 185l3 1M240 208l-4 3M161 169l4 3M1 25l0 3M169 91l-1 3M25 44l2 2M122 211l4 2M200 221l3 3M163 112l2 1M167 34l2 -2M4 210l3 -3M143 209l1 0M177 74l3 0M114 191l4 2M138 155l1 2M233 118l0 5M134 161l2 2M108 37l1 1M117 206l0 2M223 138l1 2M190 199l2 0M220 193l1 1M203 141l2 4M144 138l4 2M121 45l2 4M24 146l4 2M304 182l2 -2M47 169l4 2M37 151l5 0M132 107l2 -2M12 25l-1 2M201 38l3 2M40 48l1 4M159 136l1 2M104 156l2 4M229 119l3 1M176 220l5 0M33 122l1 2M16 129l3 2M230 122l4 2M21 47l0 1M147 38l2 0M68 51l4 -2M50 119l1 1M94 55l2 1M267 113l2 -1M115 124l-2 1M117 66l0 -1M302 166l3 0M157 56l2 1M286 213l1 1M244 147l0 2M246 110l5 0M273 212l3 2M292 175l1 1M45 80l4 3M161 51l1 2M295 65l1 2M189 38l3 1M140 103l1 1M74 119l1 -1M42 196l3 3M130 169l3 -1M117 74l3 1M184 198l1 0M186 96l3 2M177 103l4 2M209 84l2 -1M84 136l3 4M105 27l0 4M115 143l3 1M86 7l5 0M61 54l0 2M155 178l1 -1M278 62l2 0M163 94l3 0M152 61l4 2M214 206l3 0M34 8l1 5M296 174l1 1M38 22l0 2M251 31l3 2M135 224l3 3M55 144l5 -1M159 79l5 2M24 14l3 1M161 199l1 1M65 151l2 2M282 190l2 0M75 134l1 1M119 187l1 1M21 69l1 5M185 94l1 1M241 33l3 3M158 163l4 4M134 113l3 -1M1 131l1 2M138 107l3 2M164 190l2 0M169 121l2 1M17 170l1 3M188 222l1 0M237 87l1 2M199 37l3 3M148 41l4 1M197 92l2 4M233 77l5 1M302 43l3 3M208 108l1 0M263 107l3 2M77 142l1 -1M60 211l1 0M257 165l4 2M222 173l1 0M126 114l3 2M189 90l1 1M24 6l2 2M99 16l4 3M26 48l4 -2M58 85l0 3M42 170l2 1M282 217l1 2M232 79l1 3M145 47l-1 4M163 51l1 0M44 225l2 1M142 117l2 1M66 32l2 1M127 71l1 3M26 130l1 2M167 160l2 1M74 30l2 4M155 126l1 0M219 31l2 0M27 182l4 -2M8 207l4 1M28 18l1 3M72 66l1 0M191 212l-1 1M168 157l2 -1M130 78l3 2M66 102l0 2M163 62l2 0M258 80l4 2M83 55l2 1M111 34l1 0M115 122l-1 4M10 15l5 1M140 213l3 4M112 73l3 1M212 130l2 3M219 131l2 3M117 204l3 4M191 50l0 -3M238 24l3 -1M170 193l1 4M56 136l4 1M46 4l2 2M165 139l4 0M16 190l1 4M242 23l2 -2M12 36l0 2M122 90l0 1M184 79l2 1M217 222l0 4M37 25l2 1M225 9l1 3M298 211l4 2M161 13l3 1M4 121l2 4M209 106l0 1M236 68l2 3M43 101l2 -1M269 85l1 0M233 194l0 1M113 147l2 4M211 67l4 0M113 207l0 3M8 112l5 0M214 49l3 -1M125 85l2 1M165 56l1 3M155 29l2 4M199 127l2 0M113 12l0 1M295 83l1 1M229 149l3 -1M125 189l3 4M179 213l4 3M180 197l3 0M149 53l3 1M143 6l1 4M181 6l1 1M231 146l3 0M62 193l3 3M245 67l3 2M273 78l1 4M233 6l1 1M164 110l4 -1M191 35l1 0M57 118l4 2M208 67l2 1M129 215l2 3M11 165l2 1M249 92l3 0M2 102l0 2M148 175l2 4M111 51l3 1M197 60l-2 3M156 50l4 2M93 139l3 3M266 216l0 2M170 164l2 -2M259 92l4 1M213 191l2 0M118 39l1 1M143 102l4 0M180 134l2 4M151 2l2 1M22 123l3 0M223 205l3 2M3 162l2 2M62 25l5 0M196 217l2 2M172 166l3 4M194 78l2 2M77 53l1 5M25 110l3 4M58 23l1 1M298 134l3 -1M146 208l4 1M164 136l1 4M80 25l3 0M195 34l2 2M232 113l1 0M195 169l2 -4M249 55l3 1M292 41l4 2M211 159l2 -1M137 42l1 2M149 39l0 2M67 69l2 4M203 124l3 -4M222 119l3 1M95 55l5 0M127 202l2 0M198 27l2 2M113 125l1 1M223 203l-1 2M51 165l4 1M47 214l4 3M208 170l-1 3M27 108l3 1M17 40l4 0M61 146l4 -1M207 38l2 4M148 119l1 0M105 101l5 1M184 47l4 2M124 79l2 4M186 218l2 1M110 93l2 3M256 110l4 0M50 5l4 0M180 137l2 2M214 134l1 5M231 75l1 0M64 18l2 5M243 20l2 1M53 111l0 3M2 191l4 1M58 71l5 2M135 208l1 2M63 84l0 5M99 16l3 3M80 123l2 4M57 125l2 4M51 134l2 2M248 193l5 1M208 153l2 -3M106 81l2 0M90 115l3 -4M167 113l0 1M137 187l4 2M216 47l1 1M194 38l4 0M143 8l1 1M162 95l1 3M104 187l-1 2M134 15l-1 5M162 135l2 5M42 55l-3 3M264 30l1 2M95 2l2 2M24 62l2 1M167 45l4 2M211 58l3 0M35 23l4 -2M227 153l2 -2M140 89l2 0M39 145l4 0M154 58l1 -2M249 82l5 -2M140 195l2 -2M182 184l2 4M203 118l3 0M31 171l3 2M142 46l1 4M174 199l5 1M141 96l4 3M265 129l5 -1M227 23l2 2M272 154l2 0M130 149l3 3M231 121l3 4M183 178l3 -3M268 47l0 2M302 113l0 2M238 22l2 2M160 49l5 0M41 94l2 1M169 139l0 5M293 27l3 2M157 220l3 -1M152 114l1 1M126 183l4 2M247 198l1 1M14 74l2 3M189 106l2 4M180 42l3 4M296 39l2 2M7 154l1 1M143 100l1 1M304 13l1 1M282 70l1 1M61 4l1 2M27 138l0 1M221 77l3 2M216 22l4 -1M16 13l2 2M174 121l2 1M106 149l3 2M199 143l3 4M49 102l1 4M14 130l1 1M109 211l1 2M182 171l1 0M299 40l4 2M86 135l3 2M238 218l2 -3M3 14l4 0M274 65l2 3M180 34l2 0M12 167l1 1M14 14l3 1M20 148l1 1M153 89l1 1M148 183l0 2M81 128l3 4M83 26l1 -3M88 45l3 1M207 21l3 3M117 92l1 -1M18 49l2 -3M197 116l3 1M111 61l3 2M141 41l0 2M56 55l0 -1M265 63l5 0M281 202l2 -2M173 47l4 3M82 16l3 1M304 187l2 1M174 113l1 4M76 216l2 0M137 84l3 0M174 111l3 -2M201 25l1 5M267 194l3 4M167 223l4 2M191 167l-1 4M49 65l3 -1M237 112l5 1M229 67l1 1M174 47l2 2M153 181l2 3M70 170l2 2M187 87l3 1M214 48l4 1M299 7l3 -1M113 59l1 4M247 174l2 2M278 106l2 1M211 139l-2 5M276 58l3 0M244 54l4 0M205 64l4 0M118 67l-2 4M19 3l3 2M71 99l3 0M82 46l2 5M62 63l1 1M143 176l1 3M171 202l3 3M106 90l3 2M126 142l3 1M258 107l3 2M35 140l1 1M217 41l3 -1M166 156l-1 5M255 15l2 4M169 124l2 2M162 127l4 -1M217 52l0 3M231 101l2 3M197 50l3 3M30 194l4 2M225 39l3 -1M149 85l-4 1M216 91l4 1M76 222l1 0M105 154l1 1M56 162l3 -1M227 107l3 -2M228 91l0 1M81 194l0 1M238 19l1 1M303 123l1 1M159 117l1 1M79 118l1 1M199 223l-2 5M228 21l0 3M259 68l1 2M78 37l4 0M211 125l0 2M161 43l1 1M86 212l1 -2M158 199l3 -1M123 13l3 0M237 102l2 1M164 34l1 0M115 120l2 2M233 75l2 1M170 75l2 0M185 125l3 0M42 212l3 -1M149 179l-1 4M174 158l1 -2M165 215l2 1M258 91l2 -1M52 95l3 1M10 190l1 1M134 42l2 3M241 62l2 1M156 157l1 1M234 11l4 2M80 213l1 2M210 90l4 2M133 170l2 -4M11 51l4 1M271 5l5 0M250 89l5 1M194 7l0 5M101 210l0 2M268 20l1 4M136 225l2 3M166 33l2 3M8 74l1 -4M146 146l3 1M39 54l2 1M183 148l1 1M31 192l3 0M217 114l1 0M211 190l4 -2M152 147l1 2M163 148l1 1M65 104l2 1M177 93l1 0M30 22l2 2M281 136l1 0M200 220l1 -1M48 132l1 0M146 53l2 2M5 52l2 2M109 156l4 2M154 190l1 0M109 134l3 1M221 77l4 2M46 118l5 0M191 135l2 -1M155 189l1 2M299 220l1 1M154 155l3 0M200 101l-1 2M17 82l3 1M198 97l1 1M146 196l2 0M200 44l4 3M254 122l3 2M158 62l1 4M97 105l2 1M210 152l4 3M186 81l1 2M175 190l4 0M55 15l5 1M8 51l2 2M265 20l1 3M192 61l3 3M67 208l1 1M73 198l2 1M203 157l3 2M6 130l2 0M198 66l3 2M88 83l2 -1M18 97l2 2M7 57l0 5M212 103l2 3M14 203l1 3M234 26l4 0M131 150l1 2M286 42l3 1M184 101l-4 1M137 202l1 1M87 17l4 1M133 149l4 -2M148 164l2 1M134 187l0 1M195 57l2 2M226 47l1 3M150 56l2 2M82 6l1 1M276 76l1 2M150 63l1 4M99 123l1 2M271 43l3 4M2 55l5 0M226 199l5 -1M159 26l0 2M263 14l4 2M254 141l3 2M142 198l5 -1M119 51l2 2M13 120l3 0M169 202l2 1M73 9l3 0M215 53l0 3M197 119l4 3M130 89l4 0M41 145l1 1M26 221l1 0M258 26l0 1M264 160l3 -2M260 100l3 4M214 186l2 -1M99 76l3 3M27 186l3 1M50 92l3 3M140 167l3 -3M292 35l1 1M258 75l3 3M122 147l0 5M217 57l1 2M195 98l1 2M50 184l3 0M30 112l3 3M149 22l0 1M300 125l2 1M166 82l0 1M283 174l3 -1M145 47l2 3M252 72l2 4M221 37l0 -1" stroke="#5634b0" stroke-opacity="0.85" stroke-width="3.50" stroke-linecap="round" fill="none"/></g></g><rect x="353.65" y="17.35" width="155.20" height="115.60" fill="none" stroke="#000" stroke-width="2.3"/><text x="436.00" y="11.80" font-family="Liberation Serif" font-size="11.7" text-anchor="middle" fill="#222" >Exo-CM</text><rect x="527.80" y="18.50" width="153.40" height="113.30" fill="#edf7f6"/><g transform="translate(527.80,18.50)" clip-path="url(#c13)"><clipPath id="c13"><rect width="153.40" height="113.30"/></clipPath><g transform="scale(.5)"><path d="M79 155l0 -1M267 183l1 -2M291 180l0 -1M293 88l0 0M272 182l0 -1M227 59l0 -1M42 196l0 -1M205 212l1 -1M176 141l0 0M249 121l1 -1M102 212l-1 -2M272 113l0 -1M229 147l0 0M153 130l1 -1M147 94l-1 -2M30 148l2 -1M102 82l0 0M160 55l0 0M289 181l-1 -1M190 85l0 -1M240 100l0 -2M141 192l0 -1M41 217l1 -1M74 26l-1 -2M248 136l0 -2M276 40l0 -1M219 106l0 -1M272 173l0 -2M118 11l0 -1M228 168l1 0M295 11l0 -2M17 50l1 -2M4 167l-1 -2M45 191l0 -2M178 94l0 -1M66 205l2 -1M130 139l0 -1M295 170l1 -2M170 5l0 0M269 207l0 -2M62 208l0 -1M191 158l0 -1M120 57l0 -2M48 13l0 -2M19 93l1 -1M163 106l0 -1M271 128l2 -2M39 207l0 -1M265 33l1 -2M305 147l0 -1M167 68l0 -2M78 84l0 -1M198 114l-1 -2M298 179l0 -1M251 176l-1 -1M296 148l0 -1M141 148l-1 -2M49 114l-1 -1M14 137l1 -1M288 65l1 -1M214 91l1 -2M210 133l1 -1M64 131l-1 -2M286 184l-1 -1M31 128l-1 -1M234 150l0 -2M120 133l-1 -1M83 120l1 -1M91 126l0 -1M146 120l0 -1M111 39l1 -1M259 55l1 -2M279 20l1 -1M247 34l0 -2M17 136l0 -2M121 165l-1 -1M272 89l0 -2M147 146l0 -1M192 37l1 -1M49 221l1 -2M70 139l-1 -2M118 29l1 -1M214 54l0 -1M10 163l0 -1M170 101l0 -1M250 108l0 -1M73 40l-1 -1M134 178l1 -2M96 55l0 -1M196 197l-1 -2M175 59l0 -2M228 85l0 -2M263 155l1 -2M87 141l1 -1M152 154l1 -1M146 193l0 -2M162 198l0 0M190 157l0 -1M154 225l2 -2M203 116l1 -1M137 67l0 -1M204 150l-1 -2M104 16l0 -2M189 126l0 -2M281 190l0 0M270 141l1 -2M169 72l-1 -2M70 100l1 -1M241 4l0 0M123 103l1 0M244 9l0 -1M12 93l1 0M181 9l0 -1M108 179l-1 0M205 3l0 -1M11 13l0 -1M131 9l0 -1M121 171l0 0M144 88l0 -2M41 90l0 -1M267 153l1 -1M84 167l1 -1M108 98l0 -2M97 102l0 -1M58 207l0 -1M146 181l1 0M13 41l0 0M80 146l-1 -2M12 207l-1 -1M154 43l0 -1M123 73l1 -2M300 55l1 -2M73 177l-2 -2M61 24l0 -1M91 133l0 -1M244 45l1 -1M282 158l1 -2M40 75l0 -2M74 151l0 -1M25 86l0 -1M101 109l0 -2M142 175l0 -2M71 210l0 -1M119 157l0 0M46 11l0 -2M137 30l1 -1M84 202l0 -1M260 60l0 -2M207 169l1 -1M121 125l1 -2M140 105l1 -2M245 6l0 -2M17 94l2 -2M134 152l0 -1M123 86l0 0M100 8l0 -1M287 62l0 -2M86 7l0 -2M115 17l0 -1M210 167l-1 -1M271 22l1 -1M246 82l0 -2M7 95l1 -2M267 86l0 -1M100 187l0 -2M135 43l1 -1M120 42l0 -2M292 109l1 -1M20 62l-2 -2M93 102l0 -2M28 218l0 -1M59 94l1 -2M89 127l0 -2M254 225l0 0M1 203l0 -1M177 172l0 -2M241 64l-1 -1M16 11l0 0M255 29l1 -1M44 82l1 0M251 187l1 -1M287 67l1 -2M188 159l1 -2M164 32l1 -1M182 150l0 -1M182 12l1 -2M146 94l1 -1M88 188l-1 -2M190 178l0 -1M84 172l1 -1M127 175l0 -1M195 213l1 -2M225 152l1 -1M235 97l0 0M296 2l0 -2M22 5l1 -1M133 23l1 -1M235 19l1 -2M152 46l0 -1M140 65l0 -1M265 106l0 -1M210 69l1 -1M214 108l2 -1M62 204l-1 -2M27 183l0 0M228 145l1 -2M227 148l1 -2M261 92l-1 -2M254 43l-1 -1M124 182l0 -1M105 99l2 -2M66 125l0 -1M93 171l0 -1M299 66l0 -1M53 80l1 -2M83 58l0 -1M66 72l0 -2M186 17l0 -2M24 141l1 -1M282 203l1 -1M81 18l0 -1M301 96l0 -2M266 214l1 -1M57 16l0 -1M230 76l0 -1M31 60l1 -1M24 80l0 -2M116 155l0 -2M79 144l1 -1M91 17l0 -2M32 205l1 -2M130 133l1 -2M165 88l0 -2M28 15l2 -2M80 12l0 -1M39 2l0 -1M16 173l1 -1M87 126l0 -2M267 36l0 -1M276 161l1 -1M56 153l1 -2M84 47l1 -1M61 103l0 -2M291 126l0 -1M77 85l0 -1M25 224l0 -1M57 29l0 -1M110 17l0 -1M204 63l0 0M224 198l1 -1M287 182l1 -1M299 173l1 0M40 160l0 -1M37 37l-2 -1M56 90l0 -1M99 106l-1 -2M170 224l0 -2M97 210l0 -2M126 153l0 -1M286 144l0 -1M305 72l-2 -1M302 185l1 -1M292 194l1 0M121 91l0 0M71 188l0 0M41 62l0 -2M190 170l2 -1M286 40l0 -2M74 53l0 -1M34 183l0 -2M130 15l2 -1M285 31l0 -2M71 118l0 -1M133 4l1 -1M48 9l0 0M77 131l1 0M231 196l-1 -1M285 220l0 -1M88 127l2 -1M232 96l1 -1M144 3l1 -1M277 177l1 -2M21 21l0 -1M188 76l1 -1M2 197l-1 -1M274 112l0 -1M106 10l0 -2M99 178l0 -2M27 149l0 -1M163 79l0 -1M126 165l1 -1M71 90l1 0M230 2l2 -1M64 19l0 -1M66 187l1 -2M123 45l0 -1M252 196l1 -1M50 47l0 -2M122 136l-1 -1M70 187l1 -1M173 110l0 0M169 160l1 -2M49 159l-1 -2M247 27l0 -2M172 68l1 -2M251 154l1 -1M205 217l0 -1M71 123l0 0M124 132l1 -1M164 189l0 -2M49 121l0 -1M216 57l-1 -2M123 83l1 -1M247 157l1 -1M130 7l1 0M63 169l0 -2M97 222l1 -1M184 149l0 -2M49 190l0 -1M24 193l1 -1M242 221l2 0M244 97l1 0M276 88l1 -2M26 6l1 -1M143 41l0 -2M40 140l1 -2M63 143l0 -1M277 199l0 -1M196 192l1 0M304 140l-1 -1M249 70l1 -1M283 124l0 -1M51 166l1 -1M245 207l0 0M254 133l0 -1M293 122l1 -1M152 19l0 -2M217 201l0 0M202 224l0 -1M278 16l-1 -2M242 6l0 -2M246 122l-1 0M156 65l1 -1M35 179l0 -2M30 144l1 -1M182 80l-1 -1M88 56l0 -1M43 10l0 -1M37 117l0 0M256 95l2 -1M96 81l2 -1M84 47l-1 -2M192 165l0 -2M150 201l0 -2M15 61l-1 -1M287 152l1 -1M246 94l0 0M269 156l1 -2M268 25l1 -1M284 117l0 -1M142 150l0 0M108 148l0 -2M250 39l0 -2M239 19l0 -1M249 208l1 -2M139 146l1 -1M141 191l-1 -2M253 4l0 -1M291 141l0 -2M28 64l-1 -2M36 202l2 -1M227 204l0 -2M77 196l0 -2M114 9l0 -1M154 7l0 -1M224 66l0 -2M262 127l1 -2M121 57l-2 -1M56 128l0 0M289 35l0 -2M178 204l1 0M229 163l-2 -1M168 224l0 -2M12 223l2 -1M92 17l0 -1M28 188l1 -1M23 61l0 -1M245 163l0 0M231 86l1 -1M78 157l1 0M178 38l-1 -1M206 141l1 0M301 108l1 -2M46 8l1 -2M260 191l0 -1M65 219l1 -1M203 180l0 -1M62 49l0 -1M248 96l0 -1M219 193l0 -2M200 113l0 -2M170 148l0 -1M100 53l1 0M128 115l0 -1M160 108l-1 -2M101 100l0 -1M283 70l0 0M21 186l0 -1M198 139l1 -1M175 173l1 -1M159 168l2 0M255 63l0 -1M186 161l0 -1M72 77l-1 -1M158 204l1 -1M182 17l0 -2M57 86l0 -1M112 156l0 -1M298 97l0 -1M155 216l0 -1M83 137l2 -1M288 132l0 -1M136 212l1 0M5 3l0 -2M124 136l-1 -2M201 182l1 -2M286 29l-1 -1M55 208l0 -1M293 76l-1 -2M279 149l0 -2M246 50l2 -1M85 48l0 0M302 11l1 -1M43 200l0 -1M82 142l0 0M49 19l-1 -1M236 181l0 -2M130 123l1 0M187 162l0 -1M121 47l0 -1M71 147l2 -1M246 172l0 -1M205 201l0 -1M207 83l1 -2M97 205l1 -2M44 162l1 -1M39 57l1 -1M23 76l1 -2M144 7l-1 -1M301 165l1 -2M300 220l0 -1M51 120l1 -1M212 164l0 -1M52 169l1 -1M135 195l2 -1M2 173l0 -1M51 59l-1 -1M68 166l0 -1M21 30l0 -1M227 9l0 -1M279 103l1 -2" stroke="#8c86b8" stroke-opacity="0.5" stroke-width="2.00" stroke-linecap="round" fill="none"/><path d="M69 166l1 -2M90 98l0 -1M132 83l-1 -1M251 181l1 -3M208 100l0 -3M78 104l0 -2M257 145l3 -2M298 137l0 -3M178 134l0 -2M171 123l1 -2M83 135l1 -2M256 1l-1 -4M205 67l1 -4M75 65l0 -1M122 20l0 -1M147 126l0 -2M10 29l2 -3M167 28l3 -1M46 109l2 -3M27 12l0 -1M191 189l-2 -3M34 70l1 -2M128 225l-1 -1M165 44l1 -1M176 8l0 -1M258 35l0 -4M79 110l2 -2M255 154l0 -3M79 30l0 -1M157 176l-1 -3M206 207l0 -1M173 170l1 -1M100 68l1 -4M173 200l1 -3M240 39l0 -2M75 64l0 -4M78 183l0 -1M216 130l1 -2M229 24l2 -2M132 65l-1 -3M228 202l1 -2M153 204l2 -2M124 182l0 -2M12 158l-2 -2M137 212l1 -1M143 8l-3 -2M90 158l0 -3M161 178l0 -1M52 140l-1 -2M230 24l1 -3M221 105l0 -3M249 95l0 -3M172 15l1 -3M38 203l1 -2M201 90l1 -1M209 218l0 -2M55 67l1 -1M38 192l2 -2M63 128l0 -2M87 190l1 -2M103 196l1 -2M71 148l1 -2M180 7l0 -2M6 59l1 -1M250 4l1 -2M296 75l-1 -1M175 58l3 -1M144 195l1 -2M185 198l-1 -2M83 35l1 -1M247 194l2 -2M23 96l1 -2M33 204l0 -2M32 152l0 -1M291 63l1 -2M198 159l3 -2M101 118l1 -2M142 92l2 -1M46 144l1 -4M104 23l2 -2M112 47l0 -3M206 195l1 -2M143 162l0 -3M204 150l2 -1M238 148l1 -1M14 221l2 -2M14 217l1 -2M85 7l3 0M95 76l0 -2M212 40l2 -2M138 153l2 -1M16 106l2 -2M148 109l1 -2M225 64l-2 -1M286 29l0 -2M64 168l0 -2M288 33l1 -2M23 3l0 -3M53 155l-2 -1M161 221l1 -2M282 40l0 -3M190 200l2 -1M39 132l0 -3M25 47l-1 -3M9 44l3 -2M272 79l0 -2M184 120l1 -2M27 175l0 -2M65 58l1 -3M22 10l0 -3M31 164l0 -3M17 65l0 -4M252 154l0 -1M19 190l3 -2M159 146l0 -2M302 173l-2 -1M37 96l0 -2M83 82l-1 -3M293 110l0 -4M70 63l0 -2M112 5l0 -2M45 214l0 -2M223 55l1 -3M35 127l3 -2M13 109l-1 -2M6 182l0 -4M121 142l1 -2M135 11l0 -2M287 55l0 -1M224 171l0 -2M136 124l-1 -2M269 186l3 -1M290 186l2 -2M257 61l2 -1M298 176l1 -3M30 174l2 -2M91 218l0 -2M106 100l0 -4M90 179l2 -3M241 56l1 -4M202 12l-2 -3M129 200l0 -2M114 48l1 -1M79 59l0 -2M243 73l1 -3M26 123l1 -2M150 97l-1 -2M211 123l1 -3M281 159l0 -4M164 204l2 -3M105 100l2 -2M122 117l-1 -3M105 151l-2 -2M96 119l-1 -1M85 182l1 -3M8 204l1 -4M153 156l0 -1M134 153l2 -2M26 206l-2 -3M174 40l0 -3M69 16l1 -1M184 35l-1 -3M121 76l0 -2M217 61l0 -1M223 36l-1 -1M182 67l2 -3M304 29l1 -2M26 186l3 -3M272 135l0 -3M34 74l1 -1M39 200l2 -1M119 126l3 -2M180 156l1 -2M204 224l2 -2M157 85l0 -3M57 47l0 -1M23 212l-1 -1M143 68l0 -3M64 161l-1 -4M108 134l0 -2M30 197l2 -3M64 25l1 -2M278 213l1 -1M238 175l2 -3M143 123l1 -3M236 48l0 -2M116 5l1 -2M23 207l1 -3M299 117l0 -2M233 3l2 -3M187 67l1 -2M202 6l2 -2M186 23l-2 -3M3 38l1 -3M84 204l0 -2M58 160l0 -3M204 103l1 -1M53 192l1 -2M276 24l1 -2M107 199l0 -2M16 118l1 -3M256 170l1 -2M37 111l0 -2M47 219l1 -2M169 175l2 -2M85 67l0 -3M233 34l-3 -3M146 6l2 0M94 149l2 -3M74 126l3 -2M18 168l1 -3M27 13l1 -3M201 211l-1 -3M304 112l0 -1M241 210l0 -1M200 119l1 -4M208 201l2 -2M269 127l0 -2M262 138l1 -3M168 216l0 -4M235 85l1 -1M129 97l0 -4M137 17l1 -2M32 83l0 -2M272 177l-1 -2M120 173l0 -1M66 92l1 -3M295 23l-1 -2M2 16l-1 -4M230 8l-1 -2M197 218l1 -1M70 36l0 -3M132 215l1 -2M62 115l1 0M5 225l1 -4M278 104l3 -3M81 197l-2 -2M202 5l-1 -1M20 161l1 -3M107 18l-2 -2M184 34l0 -3M11 42l1 -1M272 95l1 -4M122 142l1 -2M100 66l0 -2M207 7l0 -3M231 160l0 -2M232 200l0 -2M205 70l-1 -2M53 54l1 -1M143 205l-2 -1M84 136l0 -2M139 23l1 -2M71 224l1 -4M118 160l1 -3M207 10l0 -3M169 122l2 -1M264 180l1 -3M187 216l-2 -3M58 29l0 -2M166 72l0 -4M161 56l0 -1M92 202l1 -1M31 18l2 -2M274 7l0 -3M259 131l3 -2M195 15l2 -3M175 25l1 -1M74 78l-2 -2M75 42l-1 -2M207 222l1 -3M293 158l0 -3M262 186l1 -4M203 128l1 -2M210 153l2 -2M119 123l0 -1M136 216l-1 -2M202 150l1 -1M253 95l2 -2M62 225l0 -2M134 125l-1 -3M48 194l-1 -3M143 197l1 -2M145 92l2 -1M112 173l2 -3M243 109l1 -1M143 160l-1 -2M255 25l2 -3M209 124l1 -2M192 206l-1 -3M134 166l1 -2M55 137l3 -1M30 37l0 -2M9 90l-2 -3M137 191l0 -3M128 21l0 -1M183 84l1 -1M117 122l0 -3M259 75l2 -2M158 222l1 -1M29 153l2 -3M204 219l3 -1M114 201l-3 -2M29 198l0 -2M169 27l3 -2M179 94l0 -2M39 217l1 -4M46 187l1 -3M255 70l0 -3M229 217l1 -3M264 13l0 -2M232 5l1 -2M249 30l-2 -3M283 54l2 -3M145 68l0 -2M58 77l1 -1M35 130l0 -1M93 122l1 -4M161 184l0 -3M68 121l0 -1M127 202l0 -2M113 57l1 -1M50 117l0 -1M135 168l-1 -3M88 121l0 -3M207 33l-2 -2M211 149l2 -3M50 222l3 1M52 143l0 -2M167 223l2 -2M11 23l-2 -3M84 161l1 -3M2 20l-1 -1M300 77l1 0M142 63l-1 -3M193 68l0 -3M220 9l2 -3M78 12l-2 -2M149 147l1 -3M289 36l3 -2M64 207l1 -2M77 27l0 -2M92 125l1 -2M219 130l0 -4M33 112l0 -1M274 29l1 -2M86 178l2 -2M171 57l1 -3M108 159l1 -3M288 221l0 -2M166 8l0 -2M193 223l0 -1M295 136l0 -4M289 85l1 -2M290 55l1 -2M200 151l2 -2M29 196l-1 -2M185 50l0 -2M137 191l1 -2M150 149l-1 -4M185 86l0 -2M262 151l1 -1M280 64l-1 -4M255 41l2 -2M193 71l1 -3M180 111l0 -2M73 135l-1 -3M224 207l1 -3M159 189l1 -1M265 209l1 -1M185 225l1 -2M40 195l2 -3M141 39l1 -3M68 209l-1 -2M113 221l2 -3M106 65l2 -2M60 156l1 -3M48 24l0 -3M70 113l-1 -3M258 29l0 -1M167 214l1 -2M237 18l-1 -3M168 156l1 -3M93 193l0 -2M301 202l1 -1M85 162l0 -2M142 29l2 -2M220 32l1 -2M239 57l-1 -1M75 58l0 -2M8 68l-1 -2M299 118l-1 -2M7 130l1 -4M183 138l1 -4M256 61l2 -3M187 51l-1 -2M110 173l-2 -2M17 185l3 -1M36 209l1 -3M227 225l0 -4M237 61l2 -2M274 187l2 -1M287 7l1 -2M145 39l0 -1M36 26l1 -2M213 6l2 -1M176 111l3 -2M67 185l1 -2M73 143l1 -3M199 200l0 -1M62 134l0 -2M63 185l3 -1M111 200l1 -2M251 185l1 -2M27 98l-2 -2M231 204l1 -1M251 164l1 -3M280 19l2 -2M99 155l1 -2M23 164l2 0M255 125l-1 -2M285 151l1 -3M73 88l-1 -2M214 128l3 -2M267 115l1 -3M125 176l-1 -3M34 4l-1 -3M87 80l1 -1M237 20l3 -2M45 56l0 -2M19 142l1 -1M195 43l0 -1M38 70l-1 -2M79 128l1 -1M97 148l-1 -3M68 181l-1 -2M248 85l2 -2M212 202l2 -1M138 197l1 -2M183 130l-1 -1M217 25l0 -2M89 6l3 -2M99 113l1 -1M250 129l3 -1M78 18l1 -4M50 162l-2 -3M119 63l2 -2M64 51l2 -3M97 193l2 -3M239 165l-2 -2M139 80l0 -3M23 213l1 -1M211 147l1 -2M254 21l2 -2M171 54l2 -2M203 39l0 -2M131 5l0 -1M99 126l0 -2M268 34l1 -1M179 140l1 -2M86 201l1 -3M165 61l0 -1M280 45l-3 -3M250 115l1 -3M256 53l-1 -2M58 27l1 -3M22 91l1 -2M183 21l1 -1M86 148l-1 -2M134 42l0 -1M152 43l1 -1M10 23l2 -3M206 70l2 -2M281 149l1 -3M125 150l1 -1M32 162l0 -1M74 115l0 -1M229 50l1 -2M305 170l1 -2M161 222l0 -2M202 13l1 -2M203 187l0 -3M216 7l1 -3M46 191l3 -2M291 105l2 -1M209 41l0 -3M298 151l3 -1M260 5l3 -3M89 66l1 -2M144 166l2 -3M160 96l-1 -3M180 104l0 -2M292 80l2 -2M269 89l0 -1M86 56l1 -3M252 71l-1 -1M226 215l1 -2M252 106l2 -2M48 187l4 -1M24 86l1 -2M189 68l1 -2M268 79l2 0M267 168l1 -2M132 188l0 -3M291 37l-1 -3M204 32l1 -1M150 204l2 -2M186 156l0 -1M286 133l1 -2M137 128l1 -1M194 203l1 -3M104 127l1 -2M134 125l1 -2M152 51l1 -4M175 48l1 -2M84 133l0 -2M152 153l3 -1M104 63l0 -2M224 133l1 -2M228 217l2 -2M239 13l0 -4M92 215l1 -1M38 162l1 -1M158 16l0 -4M154 55l0 -3M225 111l2 -3M283 76l0 -3M244 202l1 -3M136 154l-2 -4M43 173l-1 -3M174 193l1 -1M296 217l0 -1M217 183l1 -3M299 165l1 -3M72 135l1 -3M273 67l1 -2M129 137l0 -2M261 224l1 -1M134 159l2 -1M28 106l1 -2M33 96l0 -3M112 147l-2 -3M163 150l-2 -4M152 123l1 -2M190 176l1 -3M89 72l-1 -3M132 133l0 -2M237 113l3 -2M123 128l0 -2M9 65l2 -2M73 205l3 -2M278 148l-1 -2M113 205l3 -2M128 143l-1 -4M86 149l1 -2M190 192l1 -3M246 218l1 -3M238 100l0 -1M94 80l1 -2M286 161l0 -1M201 101l0 -3M144 42l0 -3M6 97l-1 -3M87 196l0 -1M91 106l0 -2M126 80l0 -3M2 67l0 -2M4 77l2 -2M100 35l2 -1M31 77l0 -4M167 159l1 -3M47 176l-2 -3M180 110l0 -2M206 189l1 -2M33 206l1 -1M68 16l0 -3M158 89l-1 -3M273 9l2 -3M33 41l0 -4M43 212l1 -3M97 43l0 -2M303 53l-1 -3M261 84l1 -3M178 41l2 -3M67 105l0 -3M278 186l1 -3M170 131l1 -2M31 130l2 0M202 94l1 -2M117 158l1 -3M101 65l0 -2M108 48l0 -1M188 6l1 -1M53 140l0 -2M116 201l2 -2M217 123l2 -3M105 72l0 -2M71 143l0 -3M222 65l1 -3M195 126l2 -3M240 181l0 -3M161 80l2 -2M271 155l2 -3M156 195l0 -1M43 185l-3 -3M301 38l1 -2M267 13l0 -4M252 140l1 -2M112 178l1 -3M234 47l-1 -1M5 106l-1 -2M46 123l1 -1M121 62l-1 -3M162 68l1 -3M236 73l2 -3M10 170l1 -2M225 96l1 -2M9 211l-1 -1M85 204l0 -2M97 29l0 -2M245 184l1 -2M58 224l0 -1M170 224l-1 -3M279 19l0 -1M163 18l1 -4M101 147l1 -1M142 40l0 -4M136 19l1 -2M274 62l1 -2M77 120l1 -2M298 139l2 -2M123 90l1 -1M205 86l1 -2M296 140l3 -3M247 101l0 -2M198 222l1 -2M54 176l1 -1M200 76l-1 -3M264 193l-2 -3M155 79l0 -1M85 186l1 -1M155 13l-1 -3M93 117l1 -3M95 108l2 -2M27 99l2 -1M240 59l2 -3M305 141l4 -2M27 153l0 -2M279 31l1 -2M134 142l1 -3M204 82l2 -3M62 206l1 -4M164 196l1 -2M94 180l3 0M110 62l-2 -1M221 152l2 -2M69 220l0 -1M235 219l2 -3M68 169l0 -1M245 201l-1 -4M55 93l3 -2M119 172l-1 -4M270 93l3 -2M225 185l1 -1M16 79l1 -3M301 99l0 -1M71 39l0 -2M136 188l1 -2M20 84l0 -1M224 14l0 -3M105 30l-2 -3M196 115l0 -4M149 193l0 -3M142 122l1 -2M102 147l0 -4M82 186l0 -1M268 157l-1 -2M286 210l1 -1M304 187l0 -1M197 158l2 -1M64 17l-1 -1M197 138l-1 -4M49 111l0 -4M238 57l1 -1M146 23l-2 -1M175 33l2 -1M34 182l1 -2M274 48l0 -2M305 211l0 -3M169 173l-1 -3M163 166l0 -2M201 143l2 -2M248 163l-1 -4M92 122l4 -1M178 52l-1 -3M189 134l-1 -3M260 126l1 -2M104 41l0 -4M86 217l0 -4M137 43l-1 -3M284 7l0 -3M69 34l1 -2M152 99l1 -3M101 124l-1 -2M127 217l1 -2M211 143l0 -3M221 33l-1 -3M182 142l-1 -2M66 75l0 -2M68 94l-1 -2M16 224l1 -1M78 158l0 -2M246 56l0 -3M23 71l-1 -3M198 81l0 -3M40 91l0 -3M295 54l2 -2M100 61l0 -1M111 81l0 -2M260 207l1 -4M235 129l1 -1M214 110l1 -1M161 99l0 -3M132 138l2 -2M76 148l0 -3M228 50l3 -1M125 133l0 -2M64 39l1 -3M148 114l2 -3M8 167l0 -1M95 126l1 -3M64 83l2 -3M48 9l1 -1M35 212l1 -3M204 193l1 -1M146 190l0 -3M135 194l1 -2M245 139l0 -1M204 35l-1 -4M17 56l3 -3M204 158l1 -3M17 211l2 -3M127 119l1 -1M304 59l1 -1M2 102l0 -2M180 89l1 -2M299 117l1 -1M274 203l3 -2M15 156l1 -2M178 66l-2 -4M223 146l0 -2M195 146l2 -2M54 165l2 -3M271 117l1 -1M88 200l1 -4M84 156l2 -1M28 199l0 -2M192 38l1 -2M137 95l2 -2M278 199l0 -2M36 46l1 -2M78 60l0 -2M60 17l1 -1M263 49l0 -3M139 74l0 -2M195 44l3 0M260 156l0 -2M233 104l0 -1M21 87l2 -1M241 152l0 -1M254 138l1 -3M68 219l-1 -3M238 172l0 -2M150 206l-1 -3M302 136l1 -2M263 119l0 -3M190 164l1 -3M277 26l-2 -2M86 7l0 -3M69 13l2 -2M97 55l0 -4M134 116l-1 -2M234 209l2 -3M187 213l0 -3M277 82l0 -2M157 4l-1 -1M28 120l0 -1M142 11l2 -1M179 36l0 -4M249 110l-2 -3M47 55l2 -1M67 174l0 -2M243 187l0 -2M294 145l0 -3M25 188l1 -2M233 19l0 -2M70 124l-1 -1M203 181l2 -3M14 180l0 -3M72 111l0 -2M65 203l1 -2M247 138l2 -2M223 205l1 -1M140 72l1 -3M207 161l1 -1M158 96l0 -1M204 136l0 -4M133 110l2 -2M48 216l0 -1M188 218l-1 -3M63 87l2 -2M140 51l1 -2M92 191l2 -3M6 17l1 -2M128 221l-1 -2M31 80l1 -3M249 87l0 -1M133 20l0 -4M162 132l-1 -3M116 207l0 -4M263 3l2 -3M157 93l-2 -2M104 159l3 -3M275 4l1 -3M74 70l0 -4M258 103l1 -1M124 197l0 -2M174 166l2 -2M13 58l1 -1M97 41l0 -4M12 107l1 -4M215 36l-1 -2M171 198l1 -1M62 168l0 -1M58 38l0 -3M53 76l0 -3M268 20l3 -1M31 115l0 -2M178 151l1 -2M303 165l1 -1M161 106l0 -3M105 53l0 -1M154 220l2 -3M38 143l0 -2M230 125l2 -3M174 213l2 -4M290 102l0 -2M37 50l0 -2M12 167l1 -3M154 127l-2 -2M273 182l2 -2M148 115l3 -1M277 95l1 -3M18 132l0 -1M165 41l4 -1M151 79l0 -3M219 169l0 -2M49 191l1 -3M185 15l2 -3M145 217l0 -3M297 150l2 -2M106 125l1 -3M298 64l2 -1M168 94l2 -3M290 57l0 -3M49 197l0 -3M45 26l-1 -2M199 139l1 -4M291 181l-1 -2M286 108l0 -2M206 120l-1 -1M139 84l3 -2M242 70l-1 -1M288 4l2 -2M133 168l2 -2M195 216l0 -2M121 143l-1 -2M165 200l0 -3M226 220l0 -1M64 166l-2 -3M210 23l2 -3M57 141l1 -2M286 146l0 -3M142 110l0 -3M254 30l2 -3M247 197l4 -1M79 80l0 -3M61 7l0 -1M116 218l0 -3M16 224l-1 -3M173 202l1 -2M213 187l0 -3M82 68l0 -3M305 104l0 -2M5 198l1 -3M212 65l-1 -2M43 60l-1 -3M94 76l2 -3M240 37l0 -1M31 20l1 -1M117 13l1 -3M76 15l0 -3M31 39l1 -3M106 50l0 -2M304 116l0 -4M156 176l1 -2M185 67l2 -1M141 176l1 -4M224 208l0 -2M84 204l0 -1M233 32l-2 -2M185 74l0 -3M110 11l3 -2M40 62l-1 -2M180 215l1 -1M193 108l2 -1M86 183l0 -2M66 162l1 -3M87 42l-3 -2M4 3l1 -4M199 76l1 -4M7 200l0 -2M299 114l0 -1M254 186l1 -3M110 116l1 -2M133 14l0 -3M215 15l1 -1M140 54l3 -1M216 209l0 -3M238 49l1 -1M248 26l2 -4M289 225l1 -3M28 104l0 -3M121 197l0 -2M241 131l0 -4M3 120l1 -1M199 157l1 -3M48 113l0 -3M267 213l0 -2M73 59l2 -3M163 72l-2 -2M165 197l-1 -4M274 113l1 -1M249 219l0 -1M71 205l1 -4M114 142l-2 -3M252 194l-1 -2M77 219l3 -3M30 20l1 -3M225 41l-1 -3M186 77l1 -3M48 218l2 -2M104 225l1 -3M215 7l1 -1M97 197l0 -4M144 71l3 -2M191 4l-1 -2M133 88l2 -1M48 208l0 -4M141 4l0 -3M236 87l0 -2M163 132l1 -1M71 59l0 -1M31 61l1 -1M264 22l1 -2M251 124l1 -2M118 105l-1 -2M83 166l0 -3M98 39l2 -3M142 118l0 -4M209 181l1 -2M262 30l0 -3M272 81l0 -2M137 21l-1 -3M37 161l2 -3M190 30l3 -2M216 24l1 -2M233 141l0 -1M141 33l-1 -2M2 45l1 -2M45 117l0 -4M123 212l0 -4M286 206l0 -3M274 182l0 -2M128 156l3 -1M129 219l1 -4M87 9l0 -2M91 61l0 -1M37 138l3 -1M93 56l2 -2M208 108l0 -4M188 73l2 -2M261 25l-1 -1M175 136l1 -4M273 32l0 -1M69 62l-1 -2M290 131l1 -1M94 21l2 -3M192 80l1 -3M259 149l1 -2M282 202l0 -3M199 208l0 -1M280 91l0 -3M210 132l1 -2M284 98l0 -2M31 220l0 -2M198 5l0 -2M209 74l1 -1M121 69l2 -2M69 51l0 -4M80 134l2 -3M103 68l3 -3M212 224l-1 -2M67 176l1 -3M290 105l1 -3M183 99l0 -4M93 119l1 -2M298 121l-1 -1M97 19l2 -4M218 56l0 -2M118 43l3 -2M94 153l2 -2M77 18l-1 -3M18 73l-1 -4M161 66l-2 -2M198 206l0 -2M93 196l0 -2M293 202l1 -1M94 14l0 -2M245 183l0 -2M135 59l-1 -2M210 95l-1 -4M209 136l1 -4M47 57l0 -1M153 45l1 -1M131 13l1 -4M26 219l-2 -3M271 209l0 -3M245 65l1 -2M289 100l1 -3M255 49l1 -2M44 219l1 -4M221 50l-3 -2M72 36l2 -3M130 208l1 -3M152 199l-2 0M270 19l2 -2M112 216l4 -1M222 4l1 -1M200 168l0 -4M104 79l1 -2M275 132l0 -3M80 197l1 -3M14 192l1 -3M201 79l0 -3M197 34l-1 -3M236 191l1 -4M37 3l3 -2M50 102l0 -3M109 117l0 -3M61 62l1 -2M39 84l2 -1M103 202l-1 -2M37 218l1 -2M7 50l1 -3M199 151l2 -2M75 169l1 -1M219 170l1 -1M186 86l2 -3M51 212l0 -2M102 77l0 -1M257 173l0 -2M272 49l3 -2M204 7l2 0M273 12l1 -3M199 93l0 -3M102 31l0 -1M219 188l2 -2M75 43l2 -3M245 204l1 -2M130 112l0 -2M215 26l1 -1M85 213l1 -1M68 7l0 -2M287 168l-1 -3M99 153l1 -4M202 68l1 -1M227 183l0 -3M12 136l1 -2M16 166l0 -1M284 129l0 -2M252 15l0 -2M47 125l0 -3M149 35l2 0M115 224l2 -2M18 33l1 -2M245 172l0 -3M101 214l2 -2M39 134l0 -2M66 115l-2 -2M65 177l1 -1M4 91l1 -4M214 218l0 -1M157 114l-1 -2M59 73l2 -3M212 93l0 -2M101 32l0 -3M94 187l0 -1M233 152l1 -3M189 168l4 -1M145 4l3 0M186 69l0 -2M154 141l0 -2M268 146l-1 -3M259 165l1 -2M3 151l-1 -2M34 120l3 -2M3 213l0 -1M160 210l0 -2M115 225l1 -3M197 203l1 -1M204 24l2 -1M213 153l0 -2M7 47l0 -3M272 223l1 -2M19 195l0 -2M63 179l-1 -1M283 187l1 -1M260 44l-1 -1M140 13l2 -3M34 179l3 -1M27 48l1 -2M290 52l2 -2M243 73l0 -2M270 111l2 -2" stroke="#2c2660" stroke-opacity="0.8" stroke-width="2.30" stroke-linecap="round" fill="none"/><path d="M72 44l1 -3M210 25l1 -2M304 10l-1 -3M233 77l1 -3M131 207l3 -2M299 20l0 -1M119 48l2 -2M245 193l-1 -2M251 101l0 0M45 180l1 -2M143 26l0 -2M55 128l0 -3M193 144l-1 -1M135 157l1 -3M136 16l0 -2M292 35l0 -2M22 139l-1 -3M207 2l0 -1M266 117l0 -4M20 166l0 -3M291 88l-2 -1M178 101l2 -1M100 17l3 -2M161 177l-1 -1M96 101l0 -1M207 26l0 -3M163 206l0 -1M152 215l1 -3M145 199l1 -1M297 62l-1 -2M260 55l3 -2M84 37l1 -3M288 35l1 -1M146 188l0 -2M210 25l1 -3M260 120l1 -3M156 125l0 -1M215 39l1 -1M251 220l2 -1M228 35l1 -3M110 97l0 -3M285 51l1 -2M65 169l-1 -2M272 53l1 -3M203 11l0 -1M196 12l0 -1M162 92l0 -1M187 24l0 -1M103 152l0 -2M295 159l0 -1M288 96l0 -2M10 75l0 -1M113 188l0 -4M238 205l3 -2M128 31l2 -2M118 50l2 -1M175 140l0 -2M63 223l1 0M102 125l2 -3M80 204l-1 -3M110 213l0 -1M47 31l0 -2M94 62l0 -1M173 43l0 -2M222 206l0 -2M98 63l0 -3M52 22l-1 -1M17 70l0 -4M183 84l0 -2M73 41l1 -3M138 219l0 -4M213 207l1 -2M61 57l-1 -1M126 83l0 -1M169 72l-1 -3M278 62l1 -3M104 204l1 -2M295 193l0 -3M179 133l0 -3M66 14l1 -3M50 189l0 -2M67 182l0 -1M85 60l1 -3M238 212l2 -2M112 89l1 -1M265 81l0 -2M246 36l0 -1M139 161l1 -3M105 196l0 -1M49 152l3 -2M66 202l0 -1M34 90l1 -2M150 186l1 -3M190 50l1 -2M293 83l-1 -4M209 69l1 0M91 82l1 -1M69 106l0 -1M90 72l1 -3M181 92l0 -2M26 16l-1 -4M291 123l2 -2M286 210l1 -3M165 78l1 -1M231 72l1 -2M235 71l0 -2M297 165l0 -2M4 26l1 -1M119 45l1 -1M76 199l1 -3M196 138l1 -1M258 171l1 -2M69 63l0 -3M181 131l1 -2M48 154l-2 -2M18 185l0 -3M287 2l2 -1M227 126l2 -1M15 129l0 -2M18 113l-2 -2M213 117l0 -3M3 129l0 -4M126 115l1 -1M80 80l2 -2M161 163l1 -3M209 207l3 -2M301 207l1 -1M254 140l0 -1M184 182l0 -3M199 44l-1 -2M229 216l1 -2M152 80l1 -2M50 126l0 -4M191 195l0 -1M204 25l1 -1M71 196l0 -3M293 212l0 -3M156 128l1 -3M169 59l1 -3M205 105l1 -3M91 133l1 0M274 167l1 -1M252 3l2 -1M110 67l1 -1M18 109l0 -2M16 64l0 -1M258 49l3 -2M239 77l-2 -1M227 190l1 -3M247 147l1 -2M186 138l0 -3M24 184l1 -1M17 58l0 -1M78 71l1 -1M226 19l0 -1M191 81l-1 -1M141 117l0 -3M278 223l1 -3M56 133l2 -2M30 120l0 -3M269 174l-1 -1M32 197l0 -1M200 171l0 -3M38 33l1 -3M93 140l-1 -2M113 91l0 -3M221 181l0 -2M205 147l0 -1M224 72l0 -1M55 82l0 -1M39 35l1 -2M114 179l3 -2M201 207l1 0M100 177l1 -3M291 129l0 -1M114 51l1 -1M81 81l0 -3M134 146l1 -1M168 29l1 -2M18 217l1 -3M157 85l2 -1M129 124l1 -1M232 58l1 -1M141 9l0 -1M236 27l0 -1M78 140l-1 -1M114 22l1 -1M197 102l0 -1M83 213l1 -1M48 92l1 0M73 7l2 -3M78 21l1 -2M154 50l0 -2M162 214l0 -1M164 172l0 -4M192 110l1 -2M134 215l0 -2M44 198l0 -2M160 17l1 -1M210 8l1 -1M305 54l2 -2M10 125l0 -2M92 7l2 -3M198 20l1 -1M139 73l-2 -3M54 98l1 -3M163 152l-1 -2M152 129l2 0M210 175l0 -2M175 99l2 -2M69 50l1 -4M38 176l0 -1M118 97l3 -1M227 170l1 -2M121 217l0 -2M127 135l1 -1M182 43l1 -3M38 18l0 -3M226 34l1 -1M139 57l1 -1M15 87l1 -3M119 212l1 -1M36 201l0 -3M266 110l0 -2M5 120l1 -2M105 197l1 -2M159 48l-2 -2M101 105l2 -2M198 135l1 -1M55 160l1 -3M43 166l3 -2M84 128l0 -3M303 124l1 -1M75 118l2 -2M27 157l0 -4M74 224l0 -3M55 198l3 -2M137 94l2 -2M74 71l1 -2M68 92l1 -2M258 46l-2 -1M253 122l1 -1M290 94l-1 -2M272 170l-2 -3M100 142l3 -2M61 40l0 -2M234 94l2 -3M201 155l0 -4M124 110l0 -3M113 13l-2 -2M305 106l0 -2M52 210l2 -3M117 214l-1 -2M22 9l0 -3M108 92l0 -3M196 39l2 -2M49 225l1 -4M29 76l-1 -2M144 164l0 -1M279 84l-1 -3M199 166l3 -1M305 133l1 -2M231 5l-1 -2M190 142l1 -3M6 16l-1 -1M143 69l0 -1M74 75l-1 -2M93 72l2 -3M129 93l0 -1M42 135l-1 -3M128 202l3 -2M261 108l0 -1M8 91l1 -1M113 7l1 -3M254 58l1 -2M126 182l1 -2M271 114l2 -3" stroke="#5236c0" stroke-opacity="0.85" stroke-width="3.60" stroke-linecap="round" fill="none"/></g></g><rect x="526.65" y="17.35" width="155.70" height="115.60" fill="none" stroke="#000" stroke-width="2.3"/><text x="603.90" y="11.80" font-family="Liberation Serif" font-size="11.7" text-anchor="middle" fill="#222" >Anti-miR-Exo-CM</text><text x="4.50" y="156.60" font-family="Liberation Sans" font-size="14.3" text-anchor="start" fill="#000" >b</text><line x1="45.50" y1="158.30" x2="45.50" y2="245.20" stroke="#8c8c8c" stroke-width="1.1"/><line x1="45.00" y1="245.20" x2="104.00" y2="245.20" stroke="#222" stroke-width="1.2"/><line x1="43.70" y1="158.30" x2="45.50" y2="158.30" stroke="#333" stroke-width="1.1"/><text x="42.30" y="162.20" font-family="Liberation Serif" font-size="11.5" text-anchor="end" fill="#222" >600</text><line x1="43.70" y1="187.30" x2="45.50" y2="187.30" stroke="#333" stroke-width="1.1"/><text x="42.30" y="191.20" font-family="Liberation Serif" font-size="11.5" text-anchor="end" fill="#222" >400</text><line x1="43.70" y1="216.20" x2="45.50" y2="216.20" stroke="#333" stroke-width="1.1"/><text x="42.30" y="220.10" font-family="Liberation Serif" font-size="11.5" text-anchor="end" fill="#222" >200</text><line x1="43.70" y1="245.20" x2="45.50" y2="245.20" stroke="#333" stroke-width="1.1"/><text x="42.30" y="249.10" font-family="Liberation Serif" font-size="11.5" text-anchor="end" fill="#222" >0</text><line x1="74.60" y1="245.20" x2="74.60" y2="247.70" stroke="#333" stroke-width="1"/><rect x="48.90" y="238.30" width="9.00" height="6.90" fill="#fff" stroke="#000" stroke-width="1.2"/><line x1="53.40" y1="235.50" x2="53.40" y2="237.70" stroke="#333" stroke-width="1"/><line x1="50.65" y1="235.50" x2="56.15" y2="235.50" stroke="#111" stroke-width="1.5"/><rect x="62.60" y="225.60" width="10.20" height="19.60" fill="#000"/><line x1="67.70" y1="223.20" x2="67.70" y2="225.60" stroke="#333" stroke-width="1"/><line x1="64.95" y1="223.20" x2="70.45" y2="223.20" stroke="#111" stroke-width="1.5"/><rect x="77.60" y="181.70" width="9.20" height="63.50" fill="#747474" stroke="#262626" stroke-width="1"/><line x1="86.80" y1="181.20" x2="86.80" y2="245.20" stroke="#111" stroke-width="1" stroke-dasharray="1.2 0.6"/><line x1="77.10" y1="181.90" x2="87.30" y2="181.90" stroke="#111" stroke-width="1.4"/><line x1="82.20" y1="175.40" x2="82.20" y2="181.20" stroke="#333" stroke-width="1"/><line x1="79.45" y1="175.40" x2="84.95" y2="175.40" stroke="#111" stroke-width="1.5"/><rect x="91.90" y="207.90" width="9.20" height="37.30" fill="url(#pA)" stroke="#262626" stroke-width="1"/><line x1="91.40" y1="208.10" x2="101.60" y2="208.10" stroke="#111" stroke-width="1.4"/><line x1="96.50" y1="203.60" x2="96.50" y2="207.40" stroke="#333" stroke-width="1"/><line x1="93.75" y1="203.60" x2="99.25" y2="203.60" stroke="#111" stroke-width="1.5"/><path d="M53.10 218.80V216.20H67.90V218.80" fill="none" stroke="#1e1e1e" stroke-width="1.45" stroke-linejoin="round"/><path d="M66.90 171.90V169.30H81.90V171.90" fill="none" stroke="#1e1e1e" stroke-width="1.45" stroke-linejoin="round"/><path d="M81.90 171.90V169.30H96.90V171.90" fill="none" stroke="#1e1e1e" stroke-width="1.45" stroke-linejoin="round"/><text x="60.80" y="217.10" font-family="Liberation Serif" font-size="11.8" text-anchor="middle" fill="#333" >*</text><text x="73.00" y="168.90" font-family="Liberation Serif" font-size="11.8" text-anchor="middle" fill="#333" >**</text><text x="88.80" y="168.90" font-family="Liberation Serif" font-size="11.8" text-anchor="middle" fill="#333" >*</text><rect x="107.75" y="156.15" width="11.10" height="6.00" rx="0.8" fill="#fff" stroke="#000" stroke-width="1.7"/><text x="123.10" y="161.90" font-family="Liberation Serif" font-size="11.5" text-anchor="start" fill="#222" >Ctrl</text><rect x="107.75" y="174.05" width="11.10" height="5.90" rx="0.8" fill="#000" stroke="#000" stroke-width="1.7"/><text x="123.10" y="180.80" font-family="Liberation Serif" font-size="11.5" text-anchor="start" fill="#222" >CM</text><rect x="107.75" y="191.35" width="11.10" height="5.40" rx="0.8" fill="url(#pC)" stroke="#000" stroke-width="1.7"/><text x="123.10" y="198.70" font-family="Liberation Serif" font-size="11.5" text-anchor="start" fill="#222" >Exo-CM</text><rect x="107.75" y="207.15" width="11.10" height="6.20" rx="0.8" fill="url(#pL)" stroke="#000" stroke-width="1.7"/><text x="123.10" y="214.40" font-family="Liberation Serif" font-size="11.5" text-anchor="start" fill="#222" >Anti-miR-Exo-CM</text><text transform="translate(15.30,197.20) rotate(-90)" font-family="Liberation Serif" font-size="11.55" text-anchor="middle" fill="#222">Cell numbers</text><text x="241.40" y="155.60" font-family="Liberation Sans" font-size="14.3" text-anchor="start" fill="#000" >c</text><line x1="286.40" y1="157.30" x2="286.40" y2="244.30" stroke="#8c8c8c" stroke-width="1.1"/><line x1="285.90" y1="244.30" x2="345.00" y2="244.30" stroke="#222" stroke-width="1.2"/><line x1="284.60" y1="157.30" x2="286.40" y2="157.30" stroke="#333" stroke-width="1.1"/><text x="283.70" y="163.20" font-family="Liberation Serif" font-size="11.5" text-anchor="end" fill="#222" >0.020</text><line x1="284.60" y1="179.40" x2="286.40" y2="179.40" stroke="#333" stroke-width="1.1"/><text x="283.70" y="183.30" font-family="Liberation Serif" font-size="11.5" text-anchor="end" fill="#222" >0.015</text><line x1="284.60" y1="201.30" x2="286.40" y2="201.30" stroke="#333" stroke-width="1.1"/><text x="283.70" y="205.20" font-family="Liberation Serif" font-size="11.5" text-anchor="end" fill="#222" >0.010</text><line x1="284.60" y1="222.50" x2="286.40" y2="222.50" stroke="#333" stroke-width="1.1"/><text x="283.70" y="226.40" font-family="Liberation Serif" font-size="11.5" text-anchor="end" fill="#222" >0.005</text><line x1="284.60" y1="244.30" x2="286.40" y2="244.30" stroke="#333" stroke-width="1.1"/><text x="283.70" y="247.70" font-family="Liberation Serif" font-size="11.5" text-anchor="end" fill="#222" >0.000</text><line x1="316.00" y1="244.30" x2="316.00" y2="246.80" stroke="#333" stroke-width="1"/><rect x="288.90" y="239.70" width="9.10" height="4.60" fill="#fff" stroke="#000" stroke-width="1.2"/><line x1="293.45" y1="238.60" x2="293.45" y2="239.10" stroke="#333" stroke-width="1"/><line x1="290.70" y1="238.60" x2="296.20" y2="238.60" stroke="#111" stroke-width="1.5"/><rect x="303.90" y="226.00" width="10.30" height="18.30" fill="#000"/><line x1="309.05" y1="222.50" x2="309.05" y2="226.00" stroke="#333" stroke-width="1"/><line x1="306.30" y1="222.50" x2="311.80" y2="222.50" stroke="#111" stroke-width="1.5"/><rect x="318.90" y="178.00" width="9.30" height="66.30" fill="#747474" stroke="#262626" stroke-width="1"/><line x1="328.20" y1="177.50" x2="328.20" y2="244.30" stroke="#111" stroke-width="1" stroke-dasharray="1.2 0.6"/><line x1="318.40" y1="178.20" x2="328.70" y2="178.20" stroke="#111" stroke-width="1.4"/><line x1="323.55" y1="169.40" x2="323.55" y2="177.50" stroke="#333" stroke-width="1"/><line x1="320.80" y1="169.40" x2="326.30" y2="169.40" stroke="#111" stroke-width="1.5"/><rect x="333.80" y="209.90" width="9.30" height="34.40" fill="url(#pA)" stroke="#262626" stroke-width="1"/><line x1="333.30" y1="210.10" x2="343.60" y2="210.10" stroke="#111" stroke-width="1.4"/><line x1="338.45" y1="205.20" x2="338.45" y2="209.40" stroke="#333" stroke-width="1"/><line x1="335.70" y1="205.20" x2="341.20" y2="205.20" stroke="#111" stroke-width="1.5"/><path d="M293.30 219.20V216.60H308.70V219.20" fill="none" stroke="#1e1e1e" stroke-width="1.45" stroke-linejoin="round"/><path d="M308.30 166.40V163.80H322.70V166.40" fill="none" stroke="#1e1e1e" stroke-width="1.45" stroke-linejoin="round"/><path d="M324.10 166.40V163.80H338.30V166.40" fill="none" stroke="#1e1e1e" stroke-width="1.45" stroke-linejoin="round"/><text x="303.00" y="217.60" font-family="Liberation Serif" font-size="11.8" text-anchor="middle" fill="#333" >*</text><text x="316.50" y="165.00" font-family="Liberation Serif" font-size="11.8" text-anchor="middle" fill="#333" >**</text><text x="331.00" y="165.00" font-family="Liberation Serif" font-size="11.8" text-anchor="middle" fill="#333" >*</text><rect x="347.25" y="155.45" width="10.90" height="5.70" rx="0.8" fill="#fff" stroke="#000" stroke-width="1.7"/><text x="360.90" y="160.80" font-family="Liberation Serif" font-size="11.5" text-anchor="start" fill="#222" >Ctrl</text><rect x="347.25" y="173.85" width="10.90" height="5.00" rx="0.8" fill="#000" stroke="#000" stroke-width="1.7"/><text x="360.90" y="179.70" font-family="Liberation Serif" font-size="11.5" text-anchor="start" fill="#222" >CM</text><rect x="347.25" y="191.05" width="10.90" height="5.30" rx="0.8" fill="url(#pC)" stroke="#000" stroke-width="1.7"/><text x="360.90" y="197.20" font-family="Liberation Serif" font-size="11.5" text-anchor="start" fill="#222" >Exo-CM</text><rect x="347.25" y="207.15" width="10.90" height="5.70" rx="0.8" fill="url(#pL)" stroke="#000" stroke-width="1.7"/><text x="360.90" y="213.30" font-family="Liberation Serif" font-size="11.5" text-anchor="start" fill="#222" >Anti-miR-Exo-CM</text><text transform="translate(250.40,203.00) rotate(-90)" font-family="Liberation Serif" font-size="11.8" text-anchor="middle" fill="#222">CD163 expression</text><text x="461.40" y="156.60" font-family="Liberation Sans" font-size="14.3" text-anchor="start" fill="#000" >d</text><line x1="520.20" y1="156.60" x2="520.20" y2="244.20" stroke="#8c8c8c" stroke-width="1.1"/><line x1="519.70" y1="244.20" x2="580.00" y2="244.20" stroke="#222" stroke-width="1.2"/><line x1="518.40" y1="156.60" x2="520.20" y2="156.60" stroke="#333" stroke-width="1.1"/><text x="517.60" y="160.50" font-family="Liberation Serif" font-size="11.5" text-anchor="end" fill="#222" >0.004</text><line x1="518.40" y1="178.40" x2="520.20" y2="178.40" stroke="#333" stroke-width="1.1"/><text x="517.60" y="182.30" font-family="Liberation Serif" font-size="11.5" text-anchor="end" fill="#222" >0.003</text><line x1="518.40" y1="200.50" x2="520.20" y2="200.50" stroke="#333" stroke-width="1.1"/><text x="517.60" y="204.40" font-family="Liberation Serif" font-size="11.5" text-anchor="end" fill="#222" >0.002</text><line x1="518.40" y1="222.40" x2="520.20" y2="222.40" stroke="#333" stroke-width="1.1"/><text x="517.60" y="226.30" font-family="Liberation Serif" font-size="11.5" text-anchor="end" fill="#222" >0.001</text><line x1="518.40" y1="244.20" x2="520.20" y2="244.20" stroke="#333" stroke-width="1.1"/><text x="517.60" y="248.10" font-family="Liberation Serif" font-size="11.5" text-anchor="end" fill="#222" >0.000</text><line x1="550.60" y1="244.20" x2="550.60" y2="246.70" stroke="#333" stroke-width="1"/><rect x="522.90" y="242.10" width="9.20" height="2.10" fill="#fff" stroke="#000" stroke-width="1.2"/><line x1="527.50" y1="240.40" x2="527.50" y2="241.50" stroke="#333" stroke-width="1"/><line x1="524.75" y1="240.40" x2="530.25" y2="240.40" stroke="#111" stroke-width="1.5"/><rect x="537.60" y="228.50" width="10.40" height="15.70" fill="#000"/><line x1="542.80" y1="227.10" x2="542.80" y2="228.50" stroke="#333" stroke-width="1"/><line x1="540.05" y1="227.10" x2="545.55" y2="227.10" stroke="#111" stroke-width="1.5"/><rect x="552.70" y="172.40" width="9.40" height="71.80" fill="#747474" stroke="#262626" stroke-width="1"/><line x1="562.10" y1="171.90" x2="562.10" y2="244.20" stroke="#111" stroke-width="1" stroke-dasharray="1.2 0.6"/><line x1="552.20" y1="172.60" x2="562.60" y2="172.60" stroke="#111" stroke-width="1.4"/><line x1="557.40" y1="161.70" x2="557.40" y2="171.90" stroke="#333" stroke-width="1"/><line x1="554.65" y1="161.70" x2="560.15" y2="161.70" stroke="#111" stroke-width="1.5"/><rect x="568.00" y="211.30" width="9.40" height="32.90" fill="url(#pA)" stroke="#262626" stroke-width="1"/><line x1="567.50" y1="211.50" x2="577.90" y2="211.50" stroke="#111" stroke-width="1.4"/><line x1="572.70" y1="205.70" x2="572.70" y2="210.80" stroke="#333" stroke-width="1"/><line x1="569.95" y1="205.70" x2="575.45" y2="205.70" stroke="#111" stroke-width="1.5"/><path d="M527.40 224.30V221.70H542.50V224.30" fill="none" stroke="#1e1e1e" stroke-width="1.45" stroke-linejoin="round"/><path d="M542.30 160.30V157.70H557.00V160.30" fill="none" stroke="#1e1e1e" stroke-width="1.45" stroke-linejoin="round"/><path d="M558.10 160.30V157.70H572.90V160.30" fill="none" stroke="#1e1e1e" stroke-width="1.45" stroke-linejoin="round"/><text x="534.40" y="222.90" font-family="Liberation Serif" font-size="11.8" text-anchor="middle" fill="#333" >**</text><text x="550.00" y="157.20" font-family="Liberation Serif" font-size="11.8" text-anchor="middle" fill="#333" >**</text><text x="566.50" y="157.20" font-family="Liberation Serif" font-size="11.8" text-anchor="middle" fill="#333" >*</text><rect x="580.95" y="156.25" width="11.00" height="5.80" rx="0.8" fill="#fff" stroke="#000" stroke-width="1.7"/><text x="594.90" y="161.80" font-family="Liberation Serif" font-size="11.5" text-anchor="start" fill="#222" >Ctrl</text><rect x="580.95" y="174.05" width="11.00" height="6.00" rx="0.8" fill="#000" stroke="#000" stroke-width="1.7"/><text x="594.90" y="181.00" font-family="Liberation Serif" font-size="11.5" text-anchor="start" fill="#222" >CM</text><rect x="580.95" y="191.15" width="11.00" height="5.80" rx="0.8" fill="url(#pC)" stroke="#000" stroke-width="1.7"/><text x="594.90" y="198.30" font-family="Liberation Serif" font-size="11.5" text-anchor="start" fill="#222" >Exo-CM</text><rect x="580.95" y="207.85" width="11.00" height="6.20" rx="0.8" fill="url(#pL)" stroke="#000" stroke-width="1.7"/><text x="594.90" y="214.50" font-family="Liberation Serif" font-size="11.5" text-anchor="start" fill="#222" >Anti-miR-Exo-CM</text><text transform="translate(487.30,198.70) rotate(-90)" font-family="Liberation Serif" font-size="11.8" text-anchor="middle" fill="#222">IL-10 expression</text><text x="3.70" y="263.20" font-family="Liberation Sans" font-size="14.3" text-anchor="start" fill="#000" >e</text><line x1="48.40" y1="275.20" x2="48.40" y2="363.40" stroke="#8c8c8c" stroke-width="1.1"/><line x1="47.90" y1="363.40" x2="105.80" y2="363.40" stroke="#222" stroke-width="1.2"/><line x1="46.60" y1="275.20" x2="48.40" y2="275.20" stroke="#333" stroke-width="1.1"/><text x="45.90" y="279.10" font-family="Liberation Serif" font-size="11.5" text-anchor="end" fill="#222" >0.003</text><line x1="46.60" y1="304.40" x2="48.40" y2="304.40" stroke="#333" stroke-width="1.1"/><text x="45.90" y="308.30" font-family="Liberation Serif" font-size="11.5" text-anchor="end" fill="#222" >0.002</text><line x1="46.60" y1="334.00" x2="48.40" y2="334.00" stroke="#333" stroke-width="1.1"/><text x="45.90" y="337.90" font-family="Liberation Serif" font-size="11.5" text-anchor="end" fill="#222" >0.001</text><line x1="46.60" y1="363.40" x2="48.40" y2="363.40" stroke="#333" stroke-width="1.1"/><text x="45.90" y="367.30" font-family="Liberation Serif" font-size="11.5" text-anchor="end" fill="#222" >0.000</text><line x1="76.70" y1="363.40" x2="76.70" y2="365.90" stroke="#333" stroke-width="1"/><rect x="50.80" y="291.80" width="9.00" height="71.60" fill="#fff" stroke="#000" stroke-width="1.2"/><line x1="55.30" y1="282.30" x2="55.30" y2="291.20" stroke="#333" stroke-width="1"/><line x1="52.55" y1="282.30" x2="58.05" y2="282.30" stroke="#111" stroke-width="1.5"/><rect x="65.00" y="325.70" width="10.20" height="37.70" fill="#000"/><line x1="70.10" y1="320.30" x2="70.10" y2="325.70" stroke="#333" stroke-width="1"/><line x1="67.35" y1="320.30" x2="72.85" y2="320.30" stroke="#111" stroke-width="1.5"/><rect x="79.50" y="354.80" width="9.20" height="8.60" fill="#747474" stroke="#262626" stroke-width="1"/><line x1="88.70" y1="354.30" x2="88.70" y2="363.40" stroke="#111" stroke-width="1" stroke-dasharray="1.2 0.6"/><line x1="79.00" y1="355.00" x2="89.20" y2="355.00" stroke="#111" stroke-width="1.4"/><line x1="84.10" y1="352.40" x2="84.10" y2="354.30" stroke="#333" stroke-width="1"/><line x1="81.35" y1="352.40" x2="86.85" y2="352.40" stroke="#111" stroke-width="1.5"/><rect x="93.90" y="343.90" width="9.20" height="19.50" fill="url(#pA)" stroke="#262626" stroke-width="1"/><line x1="93.40" y1="344.10" x2="103.60" y2="344.10" stroke="#111" stroke-width="1.4"/><line x1="98.50" y1="340.50" x2="98.50" y2="343.40" stroke="#333" stroke-width="1"/><line x1="95.75" y1="340.50" x2="101.25" y2="340.50" stroke="#111" stroke-width="1.5"/><path d="M55.60 280.30V277.70H69.90V280.30" fill="none" stroke="#1e1e1e" stroke-width="1.45" stroke-linejoin="round"/><path d="M69.30 317.50V314.90H83.10V317.50" fill="none" stroke="#1e1e1e" stroke-width="1.45" stroke-linejoin="round"/><path d="M84.80 338.20V335.60H98.80V338.20" fill="none" stroke="#1e1e1e" stroke-width="1.45" stroke-linejoin="round"/><text x="63.00" y="279.40" font-family="Liberation Serif" font-size="11.8" text-anchor="middle" fill="#333" >*</text><text x="77.00" y="316.60" font-family="Liberation Serif" font-size="11.8" text-anchor="middle" fill="#333" >**</text><text x="91.80" y="337.10" font-family="Liberation Serif" font-size="11.8" text-anchor="middle" fill="#333" >*</text><rect x="107.85" y="273.05" width="10.90" height="5.30" rx="0.8" fill="#fff" stroke="#000" stroke-width="1.7"/><text x="121.70" y="277.80" font-family="Liberation Serif" font-size="11.5" text-anchor="start" fill="#222" >Ctrl</text><rect x="107.85" y="290.85" width="10.90" height="5.00" rx="0.8" fill="#000" stroke="#000" stroke-width="1.7"/><text x="121.70" y="296.70" font-family="Liberation Serif" font-size="11.5" text-anchor="start" fill="#222" >CM</text><rect x="107.85" y="308.05" width="10.90" height="5.30" rx="0.8" fill="url(#pC)" stroke="#000" stroke-width="1.7"/><text x="121.70" y="314.20" font-family="Liberation Serif" font-size="11.5" text-anchor="start" fill="#222" >Exo-CM</text><rect x="107.85" y="324.15" width="10.90" height="5.30" rx="0.8" fill="url(#pL)" stroke="#000" stroke-width="1.7"/><text x="121.70" y="330.30" font-family="Liberation Serif" font-size="11.5" text-anchor="start" fill="#222" >Anti-miR-Exo-CM</text><text transform="translate(15.40,319.30) rotate(-90)" font-family="Liberation Serif" font-size="11.8" text-anchor="middle" fill="#222">TNF-&#945; expression</text><text x="241.30" y="267.60" font-family="Liberation Sans" font-size="14.3" text-anchor="start" fill="#000" >f</text><line x1="288.40" y1="275.40" x2="288.40" y2="363.50" stroke="#8c8c8c" stroke-width="1.1"/><line x1="287.90" y1="363.50" x2="346.00" y2="363.50" stroke="#222" stroke-width="1.2"/><line x1="286.60" y1="275.40" x2="288.40" y2="275.40" stroke="#333" stroke-width="1.1"/><text x="285.40" y="279.30" font-family="Liberation Serif" font-size="11.5" text-anchor="end" fill="#222" >250</text><line x1="286.60" y1="292.60" x2="288.40" y2="292.60" stroke="#333" stroke-width="1.1"/><text x="285.40" y="296.50" font-family="Liberation Serif" font-size="11.5" text-anchor="end" fill="#222" >200</text><line x1="286.60" y1="310.10" x2="288.40" y2="310.10" stroke="#333" stroke-width="1.1"/><text x="285.40" y="314.00" font-family="Liberation Serif" font-size="11.5" text-anchor="end" fill="#222" >150</text><line x1="286.60" y1="327.90" x2="288.40" y2="327.90" stroke="#333" stroke-width="1.1"/><text x="285.40" y="331.80" font-family="Liberation Serif" font-size="11.5" text-anchor="end" fill="#222" >100</text><line x1="286.60" y1="345.50" x2="288.40" y2="345.50" stroke="#333" stroke-width="1.1"/><text x="285.40" y="349.40" font-family="Liberation Serif" font-size="11.5" text-anchor="end" fill="#222" >50</text><line x1="286.60" y1="363.50" x2="288.40" y2="363.50" stroke="#333" stroke-width="1.1"/><text x="285.40" y="367.40" font-family="Liberation Serif" font-size="11.5" text-anchor="end" fill="#222" >0</text><line x1="317.40" y1="363.50" x2="317.40" y2="366.00" stroke="#333" stroke-width="1"/><rect x="290.80" y="357.10" width="8.90" height="6.40" fill="#fff" stroke="#000" stroke-width="1.2"/><line x1="295.25" y1="355.80" x2="295.25" y2="356.50" stroke="#333" stroke-width="1"/><line x1="292.50" y1="355.80" x2="298.00" y2="355.80" stroke="#111" stroke-width="1.5"/><rect x="305.10" y="341.70" width="10.10" height="21.80" fill="#000"/><line x1="310.15" y1="339.40" x2="310.15" y2="341.70" stroke="#333" stroke-width="1"/><line x1="307.40" y1="339.40" x2="312.90" y2="339.40" stroke="#111" stroke-width="1.5"/><rect x="320.00" y="295.40" width="9.10" height="68.10" fill="#747474" stroke="#262626" stroke-width="1"/><line x1="329.10" y1="294.90" x2="329.10" y2="363.50" stroke="#111" stroke-width="1" stroke-dasharray="1.2 0.6"/><line x1="319.50" y1="295.60" x2="329.60" y2="295.60" stroke="#111" stroke-width="1.4"/><line x1="324.55" y1="289.80" x2="324.55" y2="294.90" stroke="#333" stroke-width="1"/><line x1="321.80" y1="289.80" x2="327.30" y2="289.80" stroke="#111" stroke-width="1.5"/><rect x="334.40" y="324.00" width="9.10" height="39.50" fill="url(#pA)" stroke="#262626" stroke-width="1"/><line x1="333.90" y1="324.20" x2="344.00" y2="324.20" stroke="#111" stroke-width="1.4"/><line x1="338.95" y1="321.40" x2="338.95" y2="323.50" stroke="#333" stroke-width="1"/><line x1="336.20" y1="321.40" x2="341.70" y2="321.40" stroke="#111" stroke-width="1.5"/><path d="M295.30 337.30V334.70H309.90V337.30" fill="none" stroke="#1e1e1e" stroke-width="1.45" stroke-linejoin="round"/><path d="M309.90 286.80V284.20H323.90V286.80" fill="none" stroke="#1e1e1e" stroke-width="1.45" stroke-linejoin="round"/><path d="M325.10 286.80V284.20H338.80V286.80" fill="none" stroke="#1e1e1e" stroke-width="1.45" stroke-linejoin="round"/><text x="302.50" y="335.50" font-family="Liberation Serif" font-size="11.8" text-anchor="middle" fill="#333" >**</text><text x="317.00" y="285.70" font-family="Liberation Serif" font-size="11.8" text-anchor="middle" fill="#333" >**</text><text x="332.60" y="285.70" font-family="Liberation Serif" font-size="11.8" text-anchor="middle" fill="#333" >**</text><rect x="347.25" y="271.95" width="10.90" height="5.30" rx="0.8" fill="#fff" stroke="#000" stroke-width="1.7"/><text x="360.90" y="276.90" font-family="Liberation Serif" font-size="11.5" text-anchor="start" fill="#222" >Ctrl</text><rect x="347.25" y="290.05" width="10.90" height="4.90" rx="0.8" fill="#000" stroke="#000" stroke-width="1.7"/><text x="360.90" y="295.80" font-family="Liberation Serif" font-size="11.5" text-anchor="start" fill="#222" >CM</text><rect x="347.25" y="306.95" width="10.90" height="5.40" rx="0.8" fill="url(#pC)" stroke="#000" stroke-width="1.7"/><text x="360.90" y="313.20" font-family="Liberation Serif" font-size="11.5" text-anchor="start" fill="#222" >Exo-CM</text><rect x="347.25" y="323.25" width="10.90" height="5.30" rx="0.8" fill="url(#pL)" stroke="#000" stroke-width="1.7"/><text x="360.90" y="329.10" font-family="Liberation Serif" font-size="11.5" text-anchor="start" fill="#222" >Anti-miR-Exo-CM</text><text transform="translate(254.60,316.70) rotate(-90)" font-family="Liberation Serif" font-size="11.8" text-anchor="middle" fill="#222">IL-10 (pg/ml)</text><text x="461.40" y="269.60" font-family="Liberation Sans" font-size="14.3" text-anchor="start" fill="#000" >g</text><line x1="522.20" y1="275.40" x2="522.20" y2="363.50" stroke="#8c8c8c" stroke-width="1.1"/><line x1="521.70" y1="363.50" x2="580.70" y2="363.50" stroke="#222" stroke-width="1.2"/><line x1="520.40" y1="275.40" x2="522.20" y2="275.40" stroke="#333" stroke-width="1.1"/><text x="519.70" y="279.30" font-family="Liberation Serif" font-size="11.5" text-anchor="end" fill="#222" >1000</text><line x1="520.40" y1="292.90" x2="522.20" y2="292.90" stroke="#333" stroke-width="1.1"/><text x="519.70" y="296.80" font-family="Liberation Serif" font-size="11.5" text-anchor="end" fill="#222" >800</text><line x1="520.40" y1="310.60" x2="522.20" y2="310.60" stroke="#333" stroke-width="1.1"/><text x="519.70" y="314.50" font-family="Liberation Serif" font-size="11.5" text-anchor="end" fill="#222" >600</text><line x1="520.40" y1="328.00" x2="522.20" y2="328.00" stroke="#333" stroke-width="1.1"/><text x="519.70" y="331.90" font-family="Liberation Serif" font-size="11.5" text-anchor="end" fill="#222" >400</text><line x1="520.40" y1="345.70" x2="522.20" y2="345.70" stroke="#333" stroke-width="1.1"/><text x="519.70" y="349.60" font-family="Liberation Serif" font-size="11.5" text-anchor="end" fill="#222" >200</text><line x1="520.40" y1="363.50" x2="522.20" y2="363.50" stroke="#333" stroke-width="1.1"/><text x="519.70" y="367.40" font-family="Liberation Serif" font-size="11.5" text-anchor="end" fill="#222" >0</text><line x1="551.40" y1="363.50" x2="551.40" y2="366.00" stroke="#333" stroke-width="1"/><rect x="525.60" y="295.00" width="8.70" height="68.50" fill="#fff" stroke="#000" stroke-width="1.2"/><line x1="529.95" y1="289.90" x2="529.95" y2="294.40" stroke="#333" stroke-width="1"/><line x1="527.20" y1="289.90" x2="532.70" y2="289.90" stroke="#111" stroke-width="1.5"/><rect x="539.40" y="316.40" width="9.90" height="47.10" fill="#000"/><line x1="544.35" y1="313.00" x2="544.35" y2="316.40" stroke="#333" stroke-width="1"/><line x1="541.60" y1="313.00" x2="547.10" y2="313.00" stroke="#111" stroke-width="1.5"/><rect x="554.50" y="352.90" width="8.90" height="10.60" fill="#747474" stroke="#262626" stroke-width="1"/><line x1="563.40" y1="352.40" x2="563.40" y2="363.50" stroke="#111" stroke-width="1" stroke-dasharray="1.2 0.6"/><line x1="554.00" y1="353.10" x2="563.90" y2="353.10" stroke="#111" stroke-width="1.4"/><line x1="558.95" y1="351.60" x2="558.95" y2="352.40" stroke="#333" stroke-width="1"/><line x1="556.20" y1="351.60" x2="561.70" y2="351.60" stroke="#111" stroke-width="1.5"/><rect x="568.90" y="337.10" width="8.90" height="26.40" fill="url(#pA)" stroke="#262626" stroke-width="1"/><line x1="568.40" y1="337.30" x2="578.30" y2="337.30" stroke="#111" stroke-width="1.4"/><line x1="573.35" y1="330.90" x2="573.35" y2="336.60" stroke="#333" stroke-width="1"/><line x1="570.60" y1="330.90" x2="576.10" y2="330.90" stroke="#111" stroke-width="1.5"/><path d="M529.60 287.00V284.40H544.80V287.00" fill="none" stroke="#1e1e1e" stroke-width="1.45" stroke-linejoin="round"/><path d="M544.30 310.10V307.50H558.10V310.10" fill="none" stroke="#1e1e1e" stroke-width="1.45" stroke-linejoin="round"/><path d="M560.20 327.90V325.30H573.70V327.90" fill="none" stroke="#1e1e1e" stroke-width="1.45" stroke-linejoin="round"/><text x="536.80" y="286.20" font-family="Liberation Serif" font-size="11.8" text-anchor="middle" fill="#333" >*</text><text x="551.50" y="309.30" font-family="Liberation Serif" font-size="11.8" text-anchor="middle" fill="#333" >***</text><text x="567.80" y="327.20" font-family="Liberation Serif" font-size="11.8" text-anchor="middle" fill="#333" >*</text><rect x="582.25" y="271.65" width="10.90" height="5.60" rx="0.8" fill="#fff" stroke="#000" stroke-width="1.7"/><text x="595.90" y="276.80" font-family="Liberation Serif" font-size="11.5" text-anchor="start" fill="#222" >Ctrl</text><rect x="582.25" y="289.35" width="10.90" height="5.50" rx="0.8" fill="#000" stroke="#000" stroke-width="1.7"/><text x="595.90" y="296.00" font-family="Liberation Serif" font-size="11.5" text-anchor="start" fill="#222" >CM</text><rect x="582.25" y="307.05" width="10.90" height="5.20" rx="0.8" fill="url(#pC)" stroke="#000" stroke-width="1.7"/><text x="595.90" y="313.40" font-family="Liberation Serif" font-size="11.5" text-anchor="start" fill="#222" >Exo-CM</text><rect x="582.25" y="323.05" width="10.90" height="5.20" rx="0.8" fill="url(#pL)" stroke="#000" stroke-width="1.7"/><text x="595.90" y="329.10" font-family="Liberation Serif" font-size="11.5" text-anchor="start" fill="#222" >Anti-miR-Exo-CM</text><text transform="translate(492.60,316.30) rotate(-90)" font-family="Liberation Serif" font-size="11.7" text-anchor="middle" fill="#222">TNF-&#945; (pg/ml)</text><text x="0.30" y="744.60" font-family="Liberation Sans" font-size="14.3" text-anchor="start" fill="#000" >j</text><line x1="45.10" y1="749.90" x2="45.10" y2="838.60" stroke="#8c8c8c" stroke-width="1.1"/><line x1="44.60" y1="838.60" x2="103.80" y2="838.60" stroke="#222" stroke-width="1.2"/><line x1="43.30" y1="749.90" x2="45.10" y2="749.90" stroke="#333" stroke-width="1.1"/><text x="42.30" y="753.80" font-family="Liberation Serif" font-size="11.5" text-anchor="end" fill="#222" >500</text><line x1="43.30" y1="767.80" x2="45.10" y2="767.80" stroke="#333" stroke-width="1.1"/><text x="42.30" y="771.70" font-family="Liberation Serif" font-size="11.5" text-anchor="end" fill="#222" >400</text><line x1="43.30" y1="785.50" x2="45.10" y2="785.50" stroke="#333" stroke-width="1.1"/><text x="42.30" y="789.40" font-family="Liberation Serif" font-size="11.5" text-anchor="end" fill="#222" >300</text><line x1="43.30" y1="803.30" x2="45.10" y2="803.30" stroke="#333" stroke-width="1.1"/><text x="42.30" y="807.20" font-family="Liberation Serif" font-size="11.5" text-anchor="end" fill="#222" >200</text><line x1="43.30" y1="821.20" x2="45.10" y2="821.20" stroke="#333" stroke-width="1.1"/><text x="42.30" y="825.10" font-family="Liberation Serif" font-size="11.5" text-anchor="end" fill="#222" >100</text><line x1="43.30" y1="838.60" x2="45.10" y2="838.60" stroke="#333" stroke-width="1.1"/><text x="42.30" y="842.50" font-family="Liberation Serif" font-size="11.5" text-anchor="end" fill="#222" >0</text><line x1="74.40" y1="838.60" x2="74.40" y2="841.10" stroke="#333" stroke-width="1"/><rect x="47.60" y="828.90" width="9.00" height="9.70" fill="#fff" stroke="#000" stroke-width="1.2"/><line x1="52.10" y1="827.40" x2="52.10" y2="828.30" stroke="#333" stroke-width="1"/><line x1="49.35" y1="827.40" x2="54.85" y2="827.40" stroke="#111" stroke-width="1.5"/><rect x="62.10" y="816.80" width="10.20" height="21.80" fill="#000"/><line x1="67.20" y1="814.30" x2="67.20" y2="816.80" stroke="#333" stroke-width="1"/><line x1="64.45" y1="814.30" x2="69.95" y2="814.30" stroke="#111" stroke-width="1.5"/><rect x="77.40" y="773.00" width="9.20" height="65.60" fill="#747474" stroke="#262626" stroke-width="1"/><line x1="86.60" y1="772.50" x2="86.60" y2="838.60" stroke="#111" stroke-width="1" stroke-dasharray="1.2 0.6"/><line x1="76.90" y1="773.20" x2="87.10" y2="773.20" stroke="#111" stroke-width="1.4"/><line x1="82.00" y1="762.40" x2="82.00" y2="772.50" stroke="#333" stroke-width="1"/><line x1="79.25" y1="762.40" x2="84.75" y2="762.40" stroke="#111" stroke-width="1.5"/><rect x="91.80" y="811.40" width="9.20" height="27.20" fill="url(#pX)" stroke="#262626" stroke-width="1"/><line x1="91.30" y1="811.60" x2="101.50" y2="811.60" stroke="#111" stroke-width="1.4"/><line x1="96.40" y1="810.20" x2="96.40" y2="810.90" stroke="#333" stroke-width="1"/><line x1="93.65" y1="810.20" x2="99.15" y2="810.20" stroke="#111" stroke-width="1.5"/><path d="M52.80 811.20V808.60H67.70V811.20" fill="none" stroke="#1e1e1e" stroke-width="1.45" stroke-linejoin="round"/><path d="M66.50 760.60V758.00H81.10V760.60" fill="none" stroke="#1e1e1e" stroke-width="1.45" stroke-linejoin="round"/><path d="M82.30 760.60V758.00H97.50V760.60" fill="none" stroke="#1e1e1e" stroke-width="1.45" stroke-linejoin="round"/><text x="60.20" y="809.10" font-family="Liberation Serif" font-size="11.8" text-anchor="middle" fill="#333" >*</text><text x="74.00" y="759.10" font-family="Liberation Serif" font-size="11.8" text-anchor="middle" fill="#333" >*</text><text x="89.20" y="759.10" font-family="Liberation Serif" font-size="11.8" text-anchor="middle" fill="#333" >*</text><rect x="108.75" y="757.75" width="10.30" height="4.80" rx="0.8" fill="#fff" stroke="#000" stroke-width="1.7"/><text x="124.20" y="763.40" font-family="Liberation Serif" font-size="11.5" text-anchor="start" fill="#222" >Ctrl</text><rect x="108.75" y="773.05" width="10.30" height="4.00" rx="0.8" fill="#000" stroke="#000" stroke-width="1.7"/><text x="124.20" y="779.20" font-family="Liberation Serif" font-size="11.5" text-anchor="start" fill="#222" >CM</text><rect x="108.75" y="788.35" width="10.30" height="4.70" rx="0.8" fill="url(#pC)" stroke="#000" stroke-width="1.7"/><text x="124.20" y="793.70" font-family="Liberation Serif" font-size="11.5" text-anchor="start" fill="#222" >Exo-CM</text><rect x="108.75" y="803.95" width="10.30" height="4.90" rx="0.8" fill="url(#pB)" stroke="#000" stroke-width="1.7"/><text x="124.20" y="810.20" font-family="Liberation Serif" font-size="11.5" text-anchor="start" fill="#222" >Exo-CM/Antibody</text><text transform="translate(14.90,791.55) rotate(-90)" font-family="Liberation Serif" font-size="11.45" text-anchor="middle" fill="#222">Cell numbers</text><text x="235.60" y="751.30" font-family="Liberation Sans" font-size="14.3" text-anchor="start" fill="#000" >k</text><line x1="286.70" y1="749.90" x2="286.70" y2="838.60" stroke="#8c8c8c" stroke-width="1.1"/><line x1="286.20" y1="838.60" x2="346.70" y2="838.60" stroke="#222" stroke-width="1.2"/><line x1="284.90" y1="749.90" x2="286.70" y2="749.90" stroke="#333" stroke-width="1.1"/><text x="283.70" y="753.80" font-family="Liberation Serif" font-size="11.5" text-anchor="end" fill="#222" >0.025</text><line x1="284.90" y1="768.10" x2="286.70" y2="768.10" stroke="#333" stroke-width="1.1"/><text x="283.70" y="772.00" font-family="Liberation Serif" font-size="11.5" text-anchor="end" fill="#222" >0.020</text><line x1="284.90" y1="785.50" x2="286.70" y2="785.50" stroke="#333" stroke-width="1.1"/><text x="283.70" y="789.40" font-family="Liberation Serif" font-size="11.5" text-anchor="end" fill="#222" >0.015</text><line x1="284.90" y1="803.30" x2="286.70" y2="803.30" stroke="#333" stroke-width="1.1"/><text x="283.70" y="807.20" font-family="Liberation Serif" font-size="11.5" text-anchor="end" fill="#222" >0.010</text><line x1="284.90" y1="821.20" x2="286.70" y2="821.20" stroke="#333" stroke-width="1.1"/><text x="283.70" y="825.10" font-family="Liberation Serif" font-size="11.5" text-anchor="end" fill="#222" >0.005</text><line x1="284.90" y1="838.60" x2="286.70" y2="838.60" stroke="#333" stroke-width="1.1"/><text x="283.70" y="842.50" font-family="Liberation Serif" font-size="11.5" text-anchor="end" fill="#222" >0.000</text><line x1="316.40" y1="838.60" x2="316.40" y2="841.10" stroke="#333" stroke-width="1"/><rect x="289.00" y="834.10" width="8.80" height="4.50" fill="#fff" stroke="#000" stroke-width="1.2"/><line x1="293.40" y1="833.00" x2="293.40" y2="833.50" stroke="#333" stroke-width="1"/><line x1="290.65" y1="833.00" x2="296.15" y2="833.00" stroke="#111" stroke-width="1.5"/><rect x="304.10" y="815.30" width="10.00" height="23.30" fill="#000"/><line x1="309.10" y1="811.50" x2="309.10" y2="815.30" stroke="#333" stroke-width="1"/><line x1="306.35" y1="811.50" x2="311.85" y2="811.50" stroke="#111" stroke-width="1.5"/><rect x="319.80" y="770.90" width="9.00" height="67.70" fill="#747474" stroke="#262626" stroke-width="1"/><line x1="328.80" y1="770.40" x2="328.80" y2="838.60" stroke="#111" stroke-width="1" stroke-dasharray="1.2 0.6"/><line x1="319.30" y1="771.10" x2="329.30" y2="771.10" stroke="#111" stroke-width="1.4"/><line x1="324.30" y1="764.20" x2="324.30" y2="770.40" stroke="#333" stroke-width="1"/><line x1="321.55" y1="764.20" x2="327.05" y2="764.20" stroke="#111" stroke-width="1.5"/><rect x="334.70" y="800.40" width="9.00" height="38.20" fill="url(#pX)" stroke="#262626" stroke-width="1"/><line x1="334.20" y1="800.60" x2="344.20" y2="800.60" stroke="#111" stroke-width="1.4"/><line x1="339.20" y1="795.50" x2="339.20" y2="799.90" stroke="#333" stroke-width="1"/><line x1="336.45" y1="795.50" x2="341.95" y2="795.50" stroke="#111" stroke-width="1.5"/><path d="M293.90 809.50V806.90H309.30V809.50" fill="none" stroke="#1e1e1e" stroke-width="1.45" stroke-linejoin="round"/><path d="M307.70 760.70V758.10H323.60V760.70" fill="none" stroke="#1e1e1e" stroke-width="1.45" stroke-linejoin="round"/><path d="M324.60 760.70V758.10H340.20V760.70" fill="none" stroke="#1e1e1e" stroke-width="1.45" stroke-linejoin="round"/><text x="300.90" y="807.80" font-family="Liberation Serif" font-size="11.8" text-anchor="middle" fill="#333" >*</text><text x="315.60" y="759.10" font-family="Liberation Serif" font-size="11.8" text-anchor="middle" fill="#333" >**</text><text x="332.40" y="759.10" font-family="Liberation Serif" font-size="11.8" text-anchor="middle" fill="#333" >*</text><rect x="347.55" y="758.15" width="10.30" height="4.40" rx="0.8" fill="#fff" stroke="#000" stroke-width="1.7"/><text x="363.00" y="763.40" font-family="Liberation Serif" font-size="11.5" text-anchor="start" fill="#222" >Ctrl</text><rect x="347.55" y="773.05" width="10.30" height="4.40" rx="0.8" fill="#000" stroke="#000" stroke-width="1.7"/><text x="363.00" y="779.20" font-family="Liberation Serif" font-size="11.5" text-anchor="start" fill="#222" >CM</text><rect x="347.55" y="788.75" width="10.30" height="4.40" rx="0.8" fill="url(#pC)" stroke="#000" stroke-width="1.7"/><text x="363.00" y="793.70" font-family="Liberation Serif" font-size="11.5" text-anchor="start" fill="#222" >Exo-CM</text><rect x="347.55" y="804.55" width="10.30" height="4.40" rx="0.8" fill="url(#pB)" stroke="#000" stroke-width="1.7"/><text x="363.00" y="810.20" font-family="Liberation Serif" font-size="11.5" text-anchor="start" fill="#222" >Exo-CM/Antibody</text><text transform="translate(250.10,799.00) rotate(-90)" font-family="Liberation Serif" font-size="11.8" text-anchor="middle" fill="#222">CD163 expression</text><text x="464.00" y="751.60" font-family="Liberation Sans" font-size="14.3" text-anchor="start" fill="#000" >l</text><line x1="519.60" y1="749.60" x2="519.60" y2="838.90" stroke="#8c8c8c" stroke-width="1.1"/><line x1="519.10" y1="838.90" x2="581.70" y2="838.90" stroke="#222" stroke-width="1.2"/><line x1="517.80" y1="749.60" x2="519.60" y2="749.60" stroke="#333" stroke-width="1.1"/><text x="516.80" y="753.50" font-family="Liberation Serif" font-size="11.5" text-anchor="end" fill="#222" >0.015</text><line x1="517.80" y1="779.90" x2="519.60" y2="779.90" stroke="#333" stroke-width="1.1"/><text x="516.80" y="783.80" font-family="Liberation Serif" font-size="11.5" text-anchor="end" fill="#222" >0.010</text><line x1="517.80" y1="809.50" x2="519.60" y2="809.50" stroke="#333" stroke-width="1.1"/><text x="516.80" y="813.40" font-family="Liberation Serif" font-size="11.5" text-anchor="end" fill="#222" >0.005</text><line x1="517.80" y1="838.90" x2="519.60" y2="838.90" stroke="#333" stroke-width="1.1"/><text x="516.80" y="842.80" font-family="Liberation Serif" font-size="11.5" text-anchor="end" fill="#222" >0.000</text><line x1="550.40" y1="838.90" x2="550.40" y2="841.40" stroke="#333" stroke-width="1"/><rect x="523.00" y="835.70" width="9.00" height="3.20" fill="#fff" stroke="#000" stroke-width="1.2"/><line x1="527.50" y1="834.50" x2="527.50" y2="835.10" stroke="#333" stroke-width="1"/><line x1="524.75" y1="834.50" x2="530.25" y2="834.50" stroke="#111" stroke-width="1.5"/><rect x="538.10" y="819.10" width="10.20" height="19.80" fill="#000"/><line x1="543.20" y1="815.60" x2="543.20" y2="819.10" stroke="#333" stroke-width="1"/><line x1="540.45" y1="815.60" x2="545.95" y2="815.60" stroke="#111" stroke-width="1.5"/><rect x="554.00" y="781.90" width="9.20" height="57.00" fill="#747474" stroke="#262626" stroke-width="1"/><line x1="563.20" y1="781.40" x2="563.20" y2="838.90" stroke="#111" stroke-width="1" stroke-dasharray="1.2 0.6"/><line x1="553.50" y1="782.10" x2="563.70" y2="782.10" stroke="#111" stroke-width="1.4"/><line x1="558.60" y1="779.60" x2="558.60" y2="781.40" stroke="#333" stroke-width="1"/><line x1="555.85" y1="779.60" x2="561.35" y2="779.60" stroke="#111" stroke-width="1.5"/><rect x="569.10" y="807.90" width="9.20" height="31.00" fill="url(#pX)" stroke="#262626" stroke-width="1"/><line x1="568.60" y1="808.10" x2="578.80" y2="808.10" stroke="#111" stroke-width="1.4"/><line x1="573.70" y1="804.50" x2="573.70" y2="807.40" stroke="#333" stroke-width="1"/><line x1="570.95" y1="804.50" x2="576.45" y2="804.50" stroke="#111" stroke-width="1.5"/><path d="M527.30 814.10V811.50H543.20V814.10" fill="none" stroke="#1e1e1e" stroke-width="1.45" stroke-linejoin="round"/><path d="M542.20 776.30V773.70H557.60V776.30" fill="none" stroke="#1e1e1e" stroke-width="1.45" stroke-linejoin="round"/><path d="M559.10 776.30V773.70H574.70V776.30" fill="none" stroke="#1e1e1e" stroke-width="1.45" stroke-linejoin="round"/><text x="536.00" y="812.20" font-family="Liberation Serif" font-size="11.8" text-anchor="middle" fill="#333" >**</text><text x="550.00" y="774.50" font-family="Liberation Serif" font-size="11.8" text-anchor="middle" fill="#333" >***</text><text x="566.80" y="774.50" font-family="Liberation Serif" font-size="11.8" text-anchor="middle" fill="#333" >**</text><rect x="581.95" y="758.35" width="9.90" height="4.30" rx="0.8" fill="#fff" stroke="#000" stroke-width="1.7"/><text x="597.20" y="764.00" font-family="Liberation Serif" font-size="11.5" text-anchor="start" fill="#222" >Ctrl</text><rect x="581.95" y="773.15" width="9.90" height="4.20" rx="0.8" fill="#000" stroke="#000" stroke-width="1.7"/><text x="597.20" y="779.00" font-family="Liberation Serif" font-size="11.5" text-anchor="start" fill="#222" >CM</text><rect x="581.95" y="788.45" width="9.90" height="4.20" rx="0.8" fill="url(#pC)" stroke="#000" stroke-width="1.7"/><text x="597.20" y="793.50" font-family="Liberation Serif" font-size="11.5" text-anchor="start" fill="#222" >Exo-CM</text><rect x="581.95" y="803.95" width="9.90" height="4.40" rx="0.8" fill="url(#pB)" stroke="#000" stroke-width="1.7"/><text x="597.20" y="810.00" font-family="Liberation Serif" font-size="11.5" text-anchor="start" fill="#222" >Exo-CM/Antibody</text><text transform="translate(486.60,794.00) rotate(-90)" font-family="Liberation Serif" font-size="11.8" text-anchor="middle" fill="#222">IL-10 expression</text><text x="3.60" y="871.90" font-family="Liberation Sans" font-size="14.3" text-anchor="start" fill="#000" >m</text><line x1="48.40" y1="881.00" x2="48.40" y2="969.70" stroke="#8c8c8c" stroke-width="1.1"/><line x1="47.90" y1="969.70" x2="107.20" y2="969.70" stroke="#222" stroke-width="1.2"/><line x1="46.60" y1="881.00" x2="48.40" y2="881.00" stroke="#333" stroke-width="1.1"/><text x="45.70" y="884.90" font-family="Liberation Serif" font-size="11.5" text-anchor="end" fill="#222" >0.004</text><line x1="46.60" y1="903.30" x2="48.40" y2="903.30" stroke="#333" stroke-width="1.1"/><text x="45.70" y="907.20" font-family="Liberation Serif" font-size="11.5" text-anchor="end" fill="#222" >0.003</text><line x1="46.60" y1="925.10" x2="48.40" y2="925.10" stroke="#333" stroke-width="1.1"/><text x="45.70" y="929.00" font-family="Liberation Serif" font-size="11.5" text-anchor="end" fill="#222" >0.002</text><line x1="46.60" y1="947.40" x2="48.40" y2="947.40" stroke="#333" stroke-width="1.1"/><text x="45.70" y="951.30" font-family="Liberation Serif" font-size="11.5" text-anchor="end" fill="#222" >0.001</text><line x1="46.60" y1="969.70" x2="48.40" y2="969.70" stroke="#333" stroke-width="1.1"/><text x="45.70" y="973.60" font-family="Liberation Serif" font-size="11.5" text-anchor="end" fill="#222" >0.000</text><line x1="77.80" y1="969.70" x2="77.80" y2="972.20" stroke="#333" stroke-width="1"/><rect x="51.70" y="904.90" width="8.80" height="64.80" fill="#fff" stroke="#000" stroke-width="1.2"/><line x1="56.10" y1="896.30" x2="56.10" y2="904.30" stroke="#333" stroke-width="1"/><line x1="53.35" y1="896.30" x2="58.85" y2="896.30" stroke="#111" stroke-width="1.5"/><rect x="65.70" y="943.80" width="10.00" height="25.90" fill="#000"/><line x1="70.70" y1="936.40" x2="70.70" y2="943.80" stroke="#333" stroke-width="1"/><line x1="67.95" y1="936.40" x2="73.45" y2="936.40" stroke="#111" stroke-width="1.5"/><rect x="80.50" y="964.50" width="9.00" height="5.20" fill="#747474" stroke="#262626" stroke-width="1"/><line x1="89.50" y1="964.00" x2="89.50" y2="969.70" stroke="#111" stroke-width="1" stroke-dasharray="1.2 0.6"/><line x1="80.00" y1="964.70" x2="90.00" y2="964.70" stroke="#111" stroke-width="1.4"/><line x1="85.00" y1="963.50" x2="85.00" y2="964.00" stroke="#333" stroke-width="1"/><line x1="82.25" y1="963.50" x2="87.75" y2="963.50" stroke="#111" stroke-width="1.5"/><rect x="95.40" y="950.70" width="9.00" height="19.00" fill="url(#pX)" stroke="#262626" stroke-width="1"/><line x1="94.90" y1="950.90" x2="104.90" y2="950.90" stroke="#111" stroke-width="1.4"/><line x1="99.90" y1="945.30" x2="99.90" y2="950.20" stroke="#333" stroke-width="1"/><line x1="97.15" y1="945.30" x2="102.65" y2="945.30" stroke="#111" stroke-width="1.5"/><path d="M55.90 894.30V891.70H70.60V894.30" fill="none" stroke="#1e1e1e" stroke-width="1.45" stroke-linejoin="round"/><path d="M70.50 934.80V932.20H83.60V934.80" fill="none" stroke="#1e1e1e" stroke-width="1.45" stroke-linejoin="round"/><path d="M86.50 934.80V932.20H99.80V934.80" fill="none" stroke="#1e1e1e" stroke-width="1.45" stroke-linejoin="round"/><text x="63.70" y="892.70" font-family="Liberation Serif" font-size="11.8" text-anchor="middle" fill="#333" >*</text><text x="77.70" y="934.20" font-family="Liberation Serif" font-size="11.8" text-anchor="middle" fill="#333" >*</text><text x="93.60" y="934.20" font-family="Liberation Serif" font-size="11.8" text-anchor="middle" fill="#333" >*</text><rect x="108.75" y="895.75" width="10.20" height="4.10" rx="0.8" fill="#fff" stroke="#000" stroke-width="1.7"/><text x="124.20" y="901.00" font-family="Liberation Serif" font-size="11.5" text-anchor="start" fill="#222" >Ctrl</text><rect x="108.75" y="910.65" width="10.20" height="4.10" rx="0.8" fill="#000" stroke="#000" stroke-width="1.7"/><text x="124.20" y="916.80" font-family="Liberation Serif" font-size="11.5" text-anchor="start" fill="#222" >CM</text><rect x="108.75" y="926.05" width="10.20" height="4.30" rx="0.8" fill="url(#pC)" stroke="#000" stroke-width="1.7"/><text x="124.20" y="931.70" font-family="Liberation Serif" font-size="11.5" text-anchor="start" fill="#222" >Exo-CM</text><rect x="108.75" y="941.25" width="10.20" height="4.80" rx="0.8" fill="url(#pB)" stroke="#000" stroke-width="1.7"/><text x="124.20" y="947.40" font-family="Liberation Serif" font-size="11.5" text-anchor="start" fill="#222" >Exo-CM/Antibody</text><text transform="translate(15.40,926.65) rotate(-90)" font-family="Liberation Serif" font-size="11.7" text-anchor="middle" fill="#222">TNF-&#945; expression</text><text x="233.00" y="871.00" font-family="Liberation Sans" font-size="14.3" text-anchor="start" fill="#000" >n</text><line x1="286.70" y1="881.00" x2="286.70" y2="970.50" stroke="#8c8c8c" stroke-width="1.1"/><line x1="286.20" y1="970.50" x2="347.70" y2="970.50" stroke="#222" stroke-width="1.2"/><line x1="284.90" y1="881.00" x2="286.70" y2="881.00" stroke="#333" stroke-width="1.1"/><text x="284.00" y="884.90" font-family="Liberation Serif" font-size="11.5" text-anchor="end" fill="#222" >250</text><line x1="284.90" y1="898.80" x2="286.70" y2="898.80" stroke="#333" stroke-width="1.1"/><text x="284.00" y="902.70" font-family="Liberation Serif" font-size="11.5" text-anchor="end" fill="#222" >200</text><line x1="284.90" y1="916.90" x2="286.70" y2="916.90" stroke="#333" stroke-width="1.1"/><text x="284.00" y="920.80" font-family="Liberation Serif" font-size="11.5" text-anchor="end" fill="#222" >150</text><line x1="284.90" y1="934.60" x2="286.70" y2="934.60" stroke="#333" stroke-width="1.1"/><text x="284.00" y="938.50" font-family="Liberation Serif" font-size="11.5" text-anchor="end" fill="#222" >100</text><line x1="284.90" y1="952.50" x2="286.70" y2="952.50" stroke="#333" stroke-width="1.1"/><text x="284.00" y="956.40" font-family="Liberation Serif" font-size="11.5" text-anchor="end" fill="#222" >50</text><line x1="284.90" y1="970.50" x2="286.70" y2="970.50" stroke="#333" stroke-width="1.1"/><text x="284.00" y="974.40" font-family="Liberation Serif" font-size="11.5" text-anchor="end" fill="#222" >0</text><line x1="317.20" y1="970.50" x2="317.20" y2="973.00" stroke="#333" stroke-width="1"/><rect x="289.60" y="961.10" width="9.10" height="9.40" fill="#fff" stroke="#000" stroke-width="1.2"/><line x1="294.15" y1="958.00" x2="294.15" y2="960.50" stroke="#333" stroke-width="1"/><line x1="291.40" y1="958.00" x2="296.90" y2="958.00" stroke="#111" stroke-width="1.5"/><rect x="304.30" y="943.50" width="10.30" height="27.00" fill="#000"/><line x1="309.45" y1="938.90" x2="309.45" y2="943.50" stroke="#333" stroke-width="1"/><line x1="306.70" y1="938.90" x2="312.20" y2="938.90" stroke="#111" stroke-width="1.5"/><rect x="319.80" y="902.40" width="9.30" height="68.10" fill="#747474" stroke="#262626" stroke-width="1"/><line x1="329.10" y1="901.90" x2="329.10" y2="970.50" stroke="#111" stroke-width="1" stroke-dasharray="1.2 0.6"/><line x1="319.30" y1="902.60" x2="329.60" y2="902.60" stroke="#111" stroke-width="1.4"/><line x1="324.45" y1="894.00" x2="324.45" y2="901.90" stroke="#333" stroke-width="1"/><line x1="321.70" y1="894.00" x2="327.20" y2="894.00" stroke="#111" stroke-width="1.5"/><rect x="334.90" y="931.70" width="9.30" height="38.80" fill="url(#pX)" stroke="#262626" stroke-width="1"/><line x1="334.40" y1="931.90" x2="344.70" y2="931.90" stroke="#111" stroke-width="1.4"/><line x1="339.55" y1="926.60" x2="339.55" y2="931.20" stroke="#333" stroke-width="1"/><line x1="336.80" y1="926.60" x2="342.30" y2="926.60" stroke="#111" stroke-width="1.5"/><path d="M294.20 935.10V932.50H309.60V935.10" fill="none" stroke="#1e1e1e" stroke-width="1.45" stroke-linejoin="round"/><path d="M309.80 889.70V887.10H323.80V889.70" fill="none" stroke="#1e1e1e" stroke-width="1.45" stroke-linejoin="round"/><path d="M325.20 889.70V887.10H339.70V889.70" fill="none" stroke="#1e1e1e" stroke-width="1.45" stroke-linejoin="round"/><text x="301.50" y="933.00" font-family="Liberation Serif" font-size="11.8" text-anchor="middle" fill="#333" >*</text><text x="316.00" y="889.10" font-family="Liberation Serif" font-size="11.8" text-anchor="middle" fill="#333" >*</text><text x="332.20" y="889.10" font-family="Liberation Serif" font-size="11.8" text-anchor="middle" fill="#333" >*</text><rect x="348.95" y="895.75" width="10.10" height="4.10" rx="0.8" fill="#fff" stroke="#000" stroke-width="1.7"/><text x="364.40" y="901.00" font-family="Liberation Serif" font-size="11.5" text-anchor="start" fill="#222" >Ctrl</text><rect x="348.95" y="910.65" width="10.10" height="4.10" rx="0.8" fill="#000" stroke="#000" stroke-width="1.7"/><text x="364.40" y="916.80" font-family="Liberation Serif" font-size="11.5" text-anchor="start" fill="#222" >CM</text><rect x="348.95" y="926.05" width="10.10" height="4.30" rx="0.8" fill="url(#pC)" stroke="#000" stroke-width="1.7"/><text x="364.40" y="931.70" font-family="Liberation Serif" font-size="11.5" text-anchor="start" fill="#222" >Exo-CM</text><rect x="348.95" y="941.25" width="10.10" height="4.80" rx="0.8" fill="url(#pB)" stroke="#000" stroke-width="1.7"/><text x="364.40" y="947.40" font-family="Liberation Serif" font-size="11.5" text-anchor="start" fill="#222" >Exo-CM/Antibody</text><text transform="translate(254.60,924.00) rotate(-90)" font-family="Liberation Serif" font-size="11.8" text-anchor="middle" fill="#222">IL-10 (pg/ml)</text><text x="464.30" y="870.80" font-family="Liberation Sans" font-size="14.3" text-anchor="start" fill="#000" >o</text><line x1="518.40" y1="881.00" x2="518.40" y2="969.70" stroke="#8c8c8c" stroke-width="1.1"/><line x1="517.90" y1="969.70" x2="580.80" y2="969.70" stroke="#222" stroke-width="1.2"/><line x1="516.60" y1="881.00" x2="518.40" y2="881.00" stroke="#333" stroke-width="1.1"/><text x="515.80" y="884.90" font-family="Liberation Serif" font-size="11.5" text-anchor="end" fill="#222" >1000</text><line x1="516.60" y1="898.40" x2="518.40" y2="898.40" stroke="#333" stroke-width="1.1"/><text x="515.80" y="902.30" font-family="Liberation Serif" font-size="11.5" text-anchor="end" fill="#222" >800</text><line x1="516.60" y1="916.30" x2="518.40" y2="916.30" stroke="#333" stroke-width="1.1"/><text x="515.80" y="920.20" font-family="Liberation Serif" font-size="11.5" text-anchor="end" fill="#222" >600</text><line x1="516.60" y1="934.40" x2="518.40" y2="934.40" stroke="#333" stroke-width="1.1"/><text x="515.80" y="938.30" font-family="Liberation Serif" font-size="11.5" text-anchor="end" fill="#222" >400</text><line x1="516.60" y1="952.00" x2="518.40" y2="952.00" stroke="#333" stroke-width="1.1"/><text x="515.80" y="955.90" font-family="Liberation Serif" font-size="11.5" text-anchor="end" fill="#222" >200</text><line x1="516.60" y1="969.70" x2="518.40" y2="969.70" stroke="#333" stroke-width="1.1"/><text x="515.80" y="973.60" font-family="Liberation Serif" font-size="11.5" text-anchor="end" fill="#222" >0</text><line x1="549.80" y1="969.70" x2="549.80" y2="972.20" stroke="#333" stroke-width="1"/><rect x="521.80" y="897.70" width="9.20" height="72.00" fill="#fff" stroke="#000" stroke-width="1.2"/><line x1="526.40" y1="892.50" x2="526.40" y2="897.10" stroke="#333" stroke-width="1"/><line x1="523.65" y1="892.50" x2="529.15" y2="892.50" stroke="#111" stroke-width="1.5"/><rect x="537.10" y="939.20" width="10.40" height="30.50" fill="#000"/><line x1="542.30" y1="936.40" x2="542.30" y2="939.20" stroke="#333" stroke-width="1"/><line x1="539.55" y1="936.40" x2="545.05" y2="936.40" stroke="#111" stroke-width="1.5"/><rect x="552.70" y="957.80" width="9.40" height="11.90" fill="#747474" stroke="#262626" stroke-width="1"/><line x1="562.10" y1="957.30" x2="562.10" y2="969.70" stroke="#111" stroke-width="1" stroke-dasharray="1.2 0.6"/><line x1="552.20" y1="958.00" x2="562.60" y2="958.00" stroke="#111" stroke-width="1.4"/><line x1="557.40" y1="955.60" x2="557.40" y2="957.30" stroke="#333" stroke-width="1"/><line x1="554.65" y1="955.60" x2="560.15" y2="955.60" stroke="#111" stroke-width="1.5"/><rect x="568.70" y="937.60" width="9.40" height="32.10" fill="url(#pX)" stroke="#262626" stroke-width="1"/><line x1="568.20" y1="937.80" x2="578.60" y2="937.80" stroke="#111" stroke-width="1.4"/><line x1="573.40" y1="932.00" x2="573.40" y2="937.10" stroke="#333" stroke-width="1"/><line x1="570.65" y1="932.00" x2="576.15" y2="932.00" stroke="#111" stroke-width="1.5"/><path d="M526.40 889.10V886.50H542.50V889.10" fill="none" stroke="#1e1e1e" stroke-width="1.45" stroke-linejoin="round"/><path d="M542.30 928.40V925.80H556.30V928.40" fill="none" stroke="#1e1e1e" stroke-width="1.45" stroke-linejoin="round"/><path d="M559.20 928.40V925.80H573.60V928.40" fill="none" stroke="#1e1e1e" stroke-width="1.45" stroke-linejoin="round"/><text x="534.30" y="888.30" font-family="Liberation Serif" font-size="11.8" text-anchor="middle" fill="#333" >**</text><text x="549.00" y="927.10" font-family="Liberation Serif" font-size="11.8" text-anchor="middle" fill="#333" >**</text><text x="567.40" y="927.10" font-family="Liberation Serif" font-size="11.8" text-anchor="middle" fill="#333" >*</text><rect x="581.95" y="895.35" width="9.90" height="4.40" rx="0.8" fill="#fff" stroke="#000" stroke-width="1.7"/><text x="597.20" y="901.20" font-family="Liberation Serif" font-size="11.5" text-anchor="start" fill="#222" >Ctrl</text><rect x="581.95" y="910.55" width="9.90" height="3.90" rx="0.8" fill="#000" stroke="#000" stroke-width="1.7"/><text x="597.20" y="916.10" font-family="Liberation Serif" font-size="11.5" text-anchor="start" fill="#222" >CM</text><rect x="581.95" y="925.85" width="9.90" height="4.40" rx="0.8" fill="url(#pC)" stroke="#000" stroke-width="1.7"/><text x="597.20" y="931.40" font-family="Liberation Serif" font-size="11.5" text-anchor="start" fill="#222" >Exo-CM</text><rect x="581.95" y="941.55" width="9.90" height="4.20" rx="0.8" fill="url(#pB)" stroke="#000" stroke-width="1.7"/><text x="597.20" y="947.10" font-family="Liberation Serif" font-size="11.5" text-anchor="start" fill="#222" >Exo-CM/Antibody</text><text transform="translate(488.10,923.00) rotate(-90)" font-family="Liberation Serif" font-size="11.8" text-anchor="middle" fill="#222">TNF-&#945; (pg/ml)</text><text x="6.30" y="592.10" font-family="Liberation Sans" font-size="14.3" text-anchor="start" fill="#000" >i</text><rect x="7.40" y="601.50" width="155.40" height="116.00" fill="#e8f4f2"/><g transform="translate(7.40,601.50)" clip-path="url(#c20)"><clipPath id="c20"><rect width="155.40" height="116.00"/></clipPath><g transform="scale(.5)"><path d="M281 159l0 -1M104 99l1 0M173 100l0 -2M222 42l0 0M123 59l1 0M16 31l0 0M95 109l1 0M273 131l0 -1M104 88l1 -2M175 21l0 -2M243 126l2 -1M192 118l1 -1M143 213l1 -2M175 194l1 -1M67 144l1 0M74 9l1 -2M286 73l0 -2M112 46l1 -1M46 153l0 0M144 52l1 0M176 160l0 -2M98 204l2 0M42 112l0 -1M244 30l1 0M145 43l1 0M235 208l1 -2M263 140l1 -1M303 2l2 -1M302 213l0 0M93 132l2 -1M11 193l1 -1M269 8l0 0M36 63l2 0M233 16l0 -1M262 98l1 -1M25 220l1 0M33 84l2 0M145 230l2 -1M52 20l1 -2M195 160l1 -2M223 66l1 0M163 164l1 -2M2 140l2 -1M221 2l1 0M83 98l1 -1M171 70l1 0M140 186l1 -1M38 176l1 -1M234 177l0 -1M148 52l1 -1M283 181l1 -1M30 167l1 -1M277 172l1 -1M244 134l0 -1M71 25l0 -2M74 181l1 -1M61 117l0 -2M279 47l0 -1M4 17l1 -2M191 37l1 -1M60 22l0 0M3 55l0 -1M291 10l1 -1M266 37l1 -1M118 57l0 0M196 124l1 -1M42 29l2 -1M144 193l1 -1M4 229l2 0M103 218l2 -1M149 87l2 0M61 130l0 -1M253 151l2 -1M19 73l2 -2M99 147l1 0M19 10l0 -2M241 94l1 -2M244 182l2 -1M37 94l1 -1M101 144l0 0M4 14l0 -2M267 5l1 -1M191 15l1 -2M192 71l1 -2M270 127l1 0M115 172l0 -1M114 205l0 0M89 94l1 -2M203 9l1 -2M274 72l1 -1M239 103l1 -1M230 44l1 -1M16 118l1 -1M295 144l1 -1M67 69l0 0M267 190l0 0M232 46l1 0M296 56l1 0M196 94l1 0M222 5l2 -1M166 42l0 -1M140 88l1 -1M60 83l2 -1M51 188l1 -1M48 73l1 0M48 150l1 -1M122 23l0 -1M291 178l1 -1M93 179l0 0M9 143l0 -1M94 68l1 0M26 20l1 0M237 98l1 -2M126 157l1 -1M46 214l2 -2M238 29l1 0M242 225l0 -1M277 18l1 -1M56 27l0 -1M113 161l0 0M61 156l2 -1M159 56l1 -1M277 129l1 -1M229 39l1 0M224 83l1 -1M69 63l1 -2M231 96l1 0M77 167l1 -2M90 150l1 0M195 98l1 -2M35 123l1 0M173 208l0 0M131 27l0 -1M255 128l1 -1M20 70l1 -1M277 65l0 -1M279 170l2 0M213 162l0 0M92 18l0 0M12 47l1 0M123 32l1 -1M137 160l2 1M102 198l1 -2M171 207l1 0M62 161l1 0M26 11l1 -1M258 14l0 -1M131 11l1 -1M221 122l1 -1M38 31l1 -2M62 176l0 -1M207 210l1 -1M108 84l0 -2M274 147l1 0M155 106l1 -1M99 177l2 0M179 132l2 -1M290 123l2 -1M157 223l0 -1M98 50l1 -1M174 229l1 -1M221 77l1 0M178 170l1 0M159 173l1 -2M144 80l1 -1M292 61l0 -2M213 154l1 1M117 213l2 -1M214 137l0 -1M231 222l1 0M57 175l1 -1M102 164l0 0M104 36l2 1M249 215l2 1M94 59l2 -1M31 77l1 -2M6 21l0 0M231 212l2 -1M265 2l0 0M290 134l1 -2M296 137l1 -1M195 53l1 -1M179 38l1 0M268 116l1 -2M2 112l1 -1M180 187l0 -1M221 72l0 -2M51 20l1 -1M85 110l1 -1M148 197l1 0M258 154l1 -2M151 25l1 0M121 36l2 -2M138 220l1 -1M21 77l0 -2M227 228l0 -1M71 212l1 -1M25 159l1 -2M233 119l0 -2M82 134l0 -2M91 10l1 -1M234 40l1 -1M74 189l2 -1M281 227l0 -1M302 184l1 -2M234 59l1 -2M244 81l2 -1M93 166l0 0M68 26l2 -1M284 120l1 -1M63 149l0 -1M237 14l1 -1M15 109l1 -2M74 214l1 -2M35 48l1 -1M152 205l0 0M244 96l0 0M59 184l0 -1M279 191l0 0M2 178l0 0M275 97l1 0M184 219l2 -1M282 198l1 -2M21 45l2 -1M219 57l-1 -2M296 151l1 -1M206 37l0 0M80 101l1 -2M116 217l0 -1M102 137l2 -1M196 13l1 0M213 48l1 -2M306 143l1 -1M228 180l1 -1M71 16l0 -2M219 143l0 0M112 210l1 -2M209 216l0 -1M262 13l1 -1M271 87l1 0M83 46l0 0M216 215l0 0M91 31l1 0M84 56l0 0M192 212l1 0M264 93l2 -1M101 76l2 -1M1 228l1 -1M193 202l1 -1M169 83l2 0M50 125l0 -1M210 55l1 -2" stroke="#8a86aa" stroke-opacity="0.5" stroke-width="2.00" stroke-linecap="round" fill="none"/><path d="M271 133l0 -4M32 74l0 -1M25 133l1 -1M201 139l2 -1M180 80l-1 -2M136 230l3 -1M98 169l2 -2M17 155l2 0M29 60l1 -1M14 6l1 0M164 31l1 -1M121 51l0 -2M201 104l1 -2M126 197l1 -2M31 64l3 -1M123 194l2 -1M218 123l3 0M233 143l2 -2M112 66l0 -3M271 74l2 -3M37 56l0 -1M46 53l1 -2M121 124l1 -2M237 19l0 -1M205 198l3 -1M174 148l1 -2M234 173l1 -1M206 20l1 1M24 9l0 -3M203 31l1 -2M299 106l2 -1M90 44l2 -2M239 148l3 -1M270 48l0 -2M113 57l2 -2M40 15l1 0M138 217l2 -2M219 131l2 -3M301 27l1 -2M227 118l1 -1M279 178l0 -2M240 41l1 -2M235 90l1 -2M89 197l2 -2M33 44l0 -1M109 154l1 0M307 147l1 -1M157 110l2 -3M108 34l3 -1M94 108l1 0M223 103l1 -2M134 164l0 -1M288 122l0 -1M98 24l1 -1M77 86l1 0M269 211l1 -1M227 123l0 -1M56 8l1 0M160 53l1 -1M249 181l2 0M63 50l2 -1M181 119l1 -1M121 7l0 -3M304 223l1 -1M192 3l2 0M231 19l1 0M214 10l3 0M66 77l1 -1M34 58l-1 -3M99 16l0 -1M262 78l2 -2M130 12l2 -2M23 147l2 -3M4 152l1 -1M150 144l1 -2M175 58l1 -1M148 129l2 -2M56 147l0 -1M191 147l2 -2M212 134l1 -1M148 148l3 -2M25 184l1 -1M266 129l1 -1M114 133l0 -3M68 193l1 -1M177 230l1 -2M271 67l1 -2M210 223l1 0M93 36l3 -2M227 31l2 -3M224 183l3 -1M34 13l2 -3M89 120l1 -1M16 82l0 -1M79 223l0 -2M260 227l2 -1M143 69l1 0M181 217l1 -1M205 182l2 -3M221 175l0 -2M156 6l2 -2M137 116l2 0M182 3l3 -2M109 31l3 1M7 146l2 0M41 141l0 -3M171 225l3 -1M251 18l1 -1M101 151l2 0M227 22l1 -1M174 146l1 -1M243 106l0 -2M165 195l3 -1M293 15l2 -1M304 99l3 -1M191 202l3 -2M19 179l1 -2M160 54l3 -1M49 49l2 0M205 3l0 -2M155 97l0 -1M37 217l1 -2M80 33l1 -3M293 130l0 -3M124 116l1 -2M37 198l1 -1M124 186l1 -1M212 52l1 -1M13 172l3 -1M185 114l1 -1M252 180l0 -1M192 25l1 -1M102 219l3 0M185 168l3 -1M36 87l1 -2M48 150l1 -3M254 108l2 -1M146 151l0 -1M151 101l2 -2M85 139l2 -3M280 157l1 -3M195 145l1 -2M218 104l1 -1M235 128l2 -2M193 11l2 -2M307 146l1 -1M293 60l3 -2M4 68l1 -1M197 131l3 -1M259 9l0 -2M59 111l1 -1M289 193l1 -2M215 170l1 -1M178 190l1 -1M68 205l3 -1M231 158l1 -1M21 69l1 -1M142 223l0 -1M257 5l1 -1M26 73l1 -1M185 133l1 -2M37 195l2 -2M77 119l2 -1M201 193l3 0M5 153l2 -3M166 218l3 -2M66 125l1 -1M265 32l-1 -1M71 166l3 -2M216 75l2 -1M123 197l3 -2M242 42l1 -2M110 92l1 -1M245 152l1 -2M303 97l1 0M135 214l2 -1M14 61l2 -2M196 181l1 -3M126 38l1 -1M29 73l0 -1M145 99l2 -1M133 63l1 -2M299 196l1 -3M5 55l0 -2M203 203l0 -3M300 154l2 -1M68 167l2 -1M27 58l2 -2M154 37l-2 -3M108 181l1 -3M14 74l1 -1M200 6l2 -2M38 185l1 -1M189 204l1 -2M108 221l1 -1M33 6l0 -1M128 121l0 -2M198 70l1 -2M15 151l2 -1M290 40l-1 -3M108 52l2 -3M2 154l1 0M96 182l2 -1M210 195l0 -1M217 109l2 0M209 62l1 -1M73 163l2 0M169 100l2 -1M147 130l2 -1M302 199l2 0M79 64l2 -2M16 177l2 -1M265 138l2 -2M98 208l2 -1M82 137l1 0M9 75l2 -2M162 114l2 -3M263 175l1 -2M294 210l1 0M48 150l0 -2M31 8l0 -1M224 129l3 -2M120 13l1 -2M219 151l3 -2M23 68l1 -1M45 99l1 -1M138 21l2 -2M143 15l2 -2M1 121l1 -3M210 168l2 -1M52 170l2 -2M32 186l2 -2M278 170l1 1M117 162l0 -2M164 114l2 -2M285 228l-1 -3M90 217l1 -1M290 138l1 -3M299 134l3 -1M90 34l2 0M3 196l3 -1M287 57l1 -2M302 55l1 -1M193 154l1 0M210 83l1 -1M266 131l2 0M309 141l0 -1M21 13l3 -2M154 13l1 -2M19 54l1 0M28 168l1 -1M252 221l0 -3M26 15l1 -1M92 218l2 0M123 203l2 -1M182 45l2 -2M90 148l0 -1M168 123l-1 -1M237 173l1 -2M150 113l2 -2M48 3l2 -2M81 142l1 -1M34 209l0 -1M216 40l1 -1M151 90l3 -1M69 202l1 -2M112 215l1 -2M298 48l3 -1M127 188l3 0M196 56l1 -1M12 151l3 0M236 89l0 -4M284 14l2 0M139 211l1 -3M128 94l-1 -3M88 115l1 -3M41 22l1 -3M108 188l1 -1M56 22l2 -1M277 52l1 -2M177 100l2 0M204 13l2 -1M116 186l1 -1M182 41l0 -3M238 153l1 0M22 193l0 -2M184 86l2 -2M100 78l0 -1M251 135l3 0M242 87l3 -1M108 45l1 -1M239 169l0 -1M42 141l0 -1M132 95l2 -3M112 128l1 -2M224 202l3 -1M252 223l0 -3M295 6l3 -1M172 153l1 -1M4 176l3 0M38 187l1 -2M202 90l0 -2M307 202l1 0M117 68l2 -1M34 132l2 0M225 49l1 0M118 111l1 -1M296 56l3 -1M117 126l3 0M62 109l1 -3M29 159l1 -1M67 154l2 -2M104 25l1 -1M171 178l2 -2M278 148l2 -2M187 199l0 -2M216 146l1 -3M173 24l1 -3M76 108l0 -1M86 3l1 -3M229 196l2 1M233 225l1 0M55 21l1 -2M83 133l0 -1M19 55l-1 -2M72 194l1 0M105 175l0 -1M271 53l2 -1M220 159l0 -1M35 11l1 -2M233 231l1 -1M251 186l1 -1M113 128l2 -2M34 162l2 -3M281 77l1 -1M197 141l1 -1M236 230l1 -2M300 46l2 0M202 126l2 0M128 40l2 -1M55 93l2 -2M104 229l3 -1M65 223l2 -2M44 209l0 -1M128 137l1 -1M217 195l1 -1M286 46l1 -2M225 119l2 -2M107 102l1 -2M73 205l-1 -2M266 77l1 -1M56 80l1 -1M64 91l1 -1M246 95l2 -3M107 136l3 -1M77 76l1 -2M53 125l1 0M304 131l3 -1M230 133l1 -1M232 56l2 0M264 133l0 -2M38 12l3 -1M164 221l0 -1M5 102l3 -1M212 55l1 -1M121 66l1 -1M27 15l1 -2M118 196l1 -3M218 224l1 -2M288 134l1 -1M102 209l3 -1M189 64l1 -2M57 186l2 0M17 47l3 0M196 208l1 -1M181 167l2 -3M102 146l3 1M146 215l3 -2M282 159l2 -1M250 113l1 -3M262 53l0 -2M49 91l2 -3M184 96l1 -1M237 29l1 -2M191 51l3 -1M27 114l1 -1M191 97l0 -2M208 23l2 0M50 64l1 -2M88 70l1 -1M230 115l3 -1M78 59l1 -1M142 154l1 -1M306 221l0 -1M63 60l1 -1M159 199l1 -2M176 71l2 -3M129 212l3 -3M150 88l3 -1M20 30l3 -1M152 212l1 -1M171 102l3 -2M273 202l2 -1M256 59l1 -2M121 166l0 -3M307 114l2 0M154 93l0 -1M205 185l1 -1M235 154l0 -2M45 70l2 -1M220 204l2 -1M65 124l3 0M297 36l1 -2M69 209l0 -1M120 45l1 -1M132 229l2 -1M255 214l2 -2M66 218l2 -1M166 189l0 -1M37 178l1 -2M116 167l0 -3M280 193l0 -2M285 209l1 -3M172 14l1 0M260 32l0 -2M131 98l3 0M302 147l2 -3M223 214l2 -1M104 210l3 -2M6 190l1 -2M22 71l1 -3M136 66l1 -3M135 83l2 -1M50 53l1 -3M144 140l1 -1M126 194l1 -2M116 5l0 -1M35 35l2 -2M40 166l1 -1M13 23l1 0M144 42l3 -2M175 23l3 -2M145 75l1 -1M84 12l1 -2M10 142l2 -2M180 113l1 -2M161 54l1 -3M143 126l3 -1M36 191l2 -2M211 231l1 -1M167 222l2 -1M279 56l-1 -2M291 10l2 -1M48 204l1 -2M226 135l3 -2M165 163l1 -2M25 72l0 -3M139 108l1 -2M43 132l1 -3M47 99l-2 -3M77 65l2 -1M215 88l1 -2M97 153l1 0M173 93l1 -1M9 14l1 -1M68 41l2 -3M22 136l2 0M173 63l2 -1M222 155l1 0M4 27l1 -2M144 21l1 -2M279 48l1 -2M143 32l2 -2M51 100l1 -1M208 226l2 -1M53 215l2 -1M21 71l1 -2M267 16l1 -3M100 214l3 0M124 58l2 -1M74 217l1 -1M104 22l1 -3M147 230l2 -1M282 30l1 -1M152 105l3 -2M182 122l0 -1M292 229l1 -2M83 22l-1 -3M266 168l1 -2M288 41l2 -2M104 198l1 -1M258 168l1 -3M255 94l2 -1M45 80l3 -1M307 94l1 -1M24 71l1 0M297 136l0 -2M147 70l3 -1M255 96l3 1M217 119l3 -1M266 153l-2 -2M112 219l2 -2M66 228l2 -2M305 185l1 -2M22 88l2 -1M9 98l0 -1M258 208l2 -1M4 144l3 -1M191 113l2 -1M248 118l2 -2M161 183l1 -2M188 117l1 -1M247 214l3 1M248 147l0 -1M196 6l0 -2M68 230l2 -1M104 166l1 -1M10 124l1 -1M276 188l1 -1M73 105l0 -3M87 39l1 -1M122 222l-1 -3M69 131l1 0M222 119l1 -1M222 170l0 -2M122 20l2 -3M240 95l0 -2M187 57l1 -3M15 148l2 -2M74 13l1 -1M295 203l1 -3M48 223l1 -1M289 115l1 -2M259 153l2 -2M39 184l2 -2M157 163l2 -3M157 139l1 -1M246 16l0 -1M54 198l1 -1M16 92l2 -1M189 10l0 -3M235 99l-1 -2M78 199l1 -1M83 89l2 -1M230 144l1 -1M231 162l0 -3M129 46l1 -1M171 82l1 -1M257 194l1 -1M283 186l1 -2M114 207l1 -2M15 69l1 -1M145 227l0 -3M2 94l0 -2M287 165l1 -1M73 79l3 -1M201 213l2 -1M199 67l2 -1M166 69l0 -3M46 25l3 -1M121 32l3 -1M17 158l2 -1M216 109l2 -2M287 138l1 -2M101 137l-1 -3M240 48l2 0M261 231l1 -1M14 152l1 0M267 108l3 -2M76 148l2 0M5 154l1 0M33 107l2 -3M11 89l1 -2M20 198l0 -3M11 31l3 2M81 153l1 -3M134 122l0 -3M103 149l3 -1M260 163l1 -1M65 20l1 -3M167 80l2 -3M81 103l1 -3M13 223l3 -1M205 163l1 -2M105 145l2 -1M87 43l2 -3M135 24l1 -1M184 2l1 -1M292 89l1 0M95 90l1 -1M230 5l1 -1M12 226l1 -2M164 90l2 -2M150 216l1 -1M155 166l2 -1M247 173l2 -2M64 172l-1 -3M44 219l1 -1M262 67l2 -3M187 192l1 -2M99 161l1 0M85 202l3 -1M19 45l3 -2M178 184l2 -2M137 122l1 -1M212 7l2 -2M16 7l2 -1M126 74l2 -2M142 83l1 -1M138 195l0 -3M224 165l3 0M153 154l2 -2M93 188l1 -3M186 160l2 -3M97 224l3 0M77 11l0 -1M55 68l2 -2M55 55l1 -1M203 38l2 0M184 21l1 -2M91 211l0 -2M171 194l2 -2M69 16l1 0M77 148l0 -2M275 47l1 -2M188 147l2 -2M167 222l0 -1M188 193l0 -1M277 217l1 -1M159 172l0 -1M23 60l0 -1M162 183l3 -2M193 186l0 -1M218 53l1 -2M11 180l1 0M89 10l1 0M287 8l1 -2M16 105l2 -2M230 31l3 -1M255 96l2 -1M181 10l1 0M1 143l2 -1M118 14l1 -1M70 76l2 -1M299 142l2 -1M108 219l1 -3M2 221l0 -3M240 223l1 -2M167 28l2 -2M132 230l2 -1M167 219l0 -2M101 137l-1 -2M42 157l1 -2M124 215l1 -3M83 71l2 -2M73 82l2 -2M148 49l2 -3M152 113l2 -1M12 148l1 -1M29 56l1 -3M190 78l0 -1M157 22l1 -2M180 143l0 -1M294 146l0 -1M54 41l2 -2M152 21l3 -1M52 168l0 -3M189 123l1 -2M97 225l2 -2M215 29l2 -1M21 159l2 -1M304 87l1 -3M230 50l1 0M162 221l0 -1M127 178l-1 -3M272 165l3 -1M263 197l1 -2M240 136l1 -1M115 12l1 -2M196 15l2 -3M217 135l3 -1M84 174l2 -3M241 150l1 -1M11 119l3 -2M213 11l0 -1M141 154l0 -1M35 161l1 -1M262 127l0 -1M307 213l2 -2M285 3l1 0M247 200l2 -2M75 61l2 -2M210 230l1 -2M249 122l2 0M285 19l1 -2M24 6l2 -2M28 180l1 -3M68 47l2 -2M135 153l2 -3M52 187l3 -1M304 94l0 -2M273 77l3 -1M134 21l-1 -3M299 139l1 -3M191 84l-1 -2M299 83l1 -1M293 215l1 0M269 208l1 -1M96 194l1 -1M13 146l1 0M26 106l2 -1M55 203l1 -1M30 101l2 -1M49 37l1 -2M24 127l3 -1M6 63l2 -1M106 187l0 -4M239 62l1 -1M65 15l1 0M296 13l1 -2M205 134l1 -2M155 147l2 -2M267 122l-1 -3M181 222l1 -1M77 93l2 -3M168 107l-1 -3M228 211l1 -1M210 39l2 -2M185 150l1 -1M34 183l2 -2M65 98l3 -1M36 91l2 -1M175 160l1 -1M157 163l1 -1M44 117l1 -3M279 9l3 -1M73 196l1 -1M4 150l2 -1M241 105l1 -3M27 114l0 -1M223 136l1 0M159 161l1 -1M9 98l0 -1M213 61l0 -1M235 230l0 -1M253 52l3 -1M262 84l0 -1M173 125l0 -3M120 134l2 -2M150 114l1 0M241 172l0 -1M40 190l2 -2M263 127l2 -2M249 215l0 -1M93 135l1 -1M166 6l3 -1M304 109l1 -1M176 14l1 -1M307 23l1 -2M309 141l1 -1M183 208l1 -3M183 24l1 -2M183 191l3 -2M157 169l2 -2M269 4l-1 -3M233 21l1 -1M190 109l1 0M206 133l0 -2M91 38l2 -2M114 186l1 -1M301 213l1 -1M235 174l3 -2M98 174l2 -1M65 190l1 -1M85 104l2 -1M64 211l1 -1M78 121l1 -1M120 133l2 -2M76 146l1 -2M268 156l1 -1M161 149l2 -2M38 85l2 -2M268 105l0 -3M196 175l2 -1M132 15l0 -1M85 219l1 -2M284 8l1 -2M218 164l0 -2M112 125l-1 -2M178 31l1 -2M83 15l1 -3M254 155l0 -1M257 102l3 -1M241 7l0 -1M285 8l3 -1M244 132l1 -1M266 191l2 -1M191 110l1 -3M110 72l0 -1M82 160l3 -1M241 165l1 -1M86 94l2 -3M76 88l2 -2M64 180l2 -1M223 29l1 -2M274 230l1 -1M128 160l1 0M172 187l2 -3M216 221l1 -1M151 137l2 -2M210 53l1 -1M96 205l1 0M135 38l2 -2M42 186l1 0M245 155l1 -3M38 45l0 -3M263 20l2 -1M199 198l2 -2M261 29l1 -3M269 34l2 -3M266 162l2 -3M30 53l1 0M192 59l2 -1M196 23l1 -1M261 146l2 -1M240 129l1 -3M24 216l1 0M184 122l3 -1M102 122l1 -1M133 190l1 -1M88 94l3 0M72 79l1 -1M135 66l1 -3M296 100l2 -2M97 159l2 -2M70 144l1 -1M8 230l1 -2M250 115l1 0M76 190l2 -1M85 11l1 -3M295 52l3 -1M90 110l2 -2M219 164l0 -2M259 31l2 -3M82 20l3 -1M28 191l2 -3M30 123l2 -3M33 103l1 -1M237 229l2 0M33 13l1 -1M208 174l0 -1M141 26l1 -1M158 216l2 -1M277 41l2 -1M47 27l1 -2M93 77l2 -2M255 92l2 -2M128 207l2 -2M238 57l1 -1M214 170l1 -1M133 209l1 -1M21 138l3 0M182 100l1 -1M201 65l1 -1M58 31l0 -2M268 200l2 -2M200 72l1 -1M11 163l1 -3M141 16l3 -2M34 76l1 -1M157 197l1 -1M35 137l1 -1M75 73l1 -3M161 39l3 -1M95 159l0 -2M97 38l1 -2M65 215l1 -2M150 92l1 -2M225 132l3 -1M250 56l2 -1M26 181l1 -3M284 92l3 -2M289 107l2 -2M241 194l3 -1M123 204l2 -1M146 196l0 -1M44 112l1 -2M50 66l2 -2M290 50l1 0M76 122l1 -2M123 8l2 -1M96 6l2 -1M189 20l2 -1M234 178l1 -1M208 149l2 -1M52 118l1 -2M51 141l2 -2M198 189l2 -1M275 196l1 1M228 31l1 -3M72 13l2 -3M65 105l0 -1M67 72l3 0M10 72l0 -1M46 115l1 0M93 177l0 -2M292 94l1 -3M43 102l2 0M152 167l1 -3M295 205l3 -2M159 36l1 -1M16 82l1 -1M44 221l0 -1M44 15l2 0M2 219l2 0M5 135l2 -2M99 148l3 -2M178 72l1 -2M237 87l2 -1M9 109l2 -2M272 9l1 -1M218 52l2 -1M19 205l1 -1M264 105l1 -1M97 59l0 -1M153 36l1 -2M106 110l2 -2M170 152l3 -1M213 99l1 -1M2 84l1 -2M252 176l1 -2M34 123l1 -2M73 152l3 -1M52 163l2 -1M83 161l1 0" stroke="#35304e" stroke-opacity="0.8" stroke-width="2.40" stroke-linecap="round" fill="none"/><path d="M215 38l1 -3M267 51l2 -3M289 15l0 -3M141 72l1 -1M78 104l1 -1M300 76l1 -2M85 50l2 -1M56 222l2 -2M284 43l0 -3M9 13l1 0M153 166l1 -2M256 35l1 -1M45 34l0 -4M12 186l1 -1M288 18l1 -3M69 68l0 -4M305 100l3 -2M82 49l1 -1M221 187l1 -2M288 17l2 -2M276 161l2 -3M48 64l0 -2M86 15l1 -1M137 28l0 -1M170 34l0 -2M130 38l3 -1M209 141l2 -1M305 96l1 -4M159 185l3 -2M277 176l1 -1M44 60l1 -2M224 107l1 -3M48 224l1 -1M116 147l3 -2M35 80l2 -3M180 168l0 -2M95 92l2 -1M296 164l0 -4M14 142l2 -4M148 141l1 -3M59 204l0 -2M147 90l0 -2M156 66l0 -2M172 83l2 -1M157 47l2 -2M33 165l0 -1M76 175l1 -1M85 205l1 -1M155 5l3 -3M278 197l2 -3M299 40l2 -1M93 53l1 -1M290 157l1 0M30 165l1 -1M181 179l3 -3M41 113l3 -2M80 195l2 -1M137 101l1 -1M48 95l0 -2" stroke="#5a3ec0" stroke-opacity="0.85" stroke-width="3.40" stroke-linecap="round" fill="none"/></g></g><rect x="6.25" y="600.35" width="157.70" height="118.30" fill="none" stroke="#000" stroke-width="2.3"/><text x="86.20" y="594.00" font-family="Liberation Serif" font-size="11.7" text-anchor="middle" fill="#222" >Ctrl</text><rect x="180.60" y="601.50" width="155.20" height="116.00" fill="#e8f4f2"/><g transform="translate(180.60,601.50)" clip-path="url(#c21)"><clipPath id="c21"><rect width="155.20" height="116.00"/></clipPath><g transform="scale(.5)"><path d="M227 28l1 0M113 105l1 0M268 92l1 0M20 153l2 -1M251 227l2 0M117 172l1 0M177 212l1 -1M23 101l2 0M89 148l2 0M301 91l2 0M286 121l1 0M217 189l2 -1M179 11l1 -1M155 163l2 -1M263 31l1 -1M107 49l1 0M58 143l2 1M61 156l2 0M297 197l2 0M204 189l2 -1M97 195l2 -1M247 98l1 -1M235 19l2 1M99 43l2 -1M269 139l2 1M149 177l1 0M192 125l2 0M77 35l1 0M294 25l2 -1M139 19l0 0M142 50l2 1M60 125l2 0M195 96l2 0M42 14l1 0M289 102l0 0M119 31l1 0M78 80l1 0M212 14l1 0M237 76l1 0M63 117l2 0M113 194l1 0M46 60l2 0M299 76l1 0M237 197l0 0M153 121l1 0M260 160l1 -1M209 187l1 0M41 156l2 -1M84 224l2 0M142 41l2 -1M89 177l2 -1M50 118l1 0M128 145l2 0M115 195l1 0M186 220l1 0M29 132l1 0M91 164l1 -1M150 96l1 0M149 78l1 -1M210 137l1 0M113 192l1 0M248 15l2 0M110 182l1 0M77 95l1 -1M153 97l1 0M176 25l2 1M99 38l2 0M142 184l1 -1M40 220l2 0M19 12l2 0M155 27l2 0M126 82l1 0M173 118l2 0M295 123l2 0M209 123l1 0M125 62l0 0M245 4l1 0M250 22l1 0M68 72l1 0M302 145l2 0M117 72l1 0M128 79l1 -1M259 94l0 0M208 209l2 1M86 196l1 0M110 107l2 0M2 25l1 0M237 2l0 0M162 192l1 -1M53 3l1 0M265 173l1 -1M135 185l2 0M283 226l2 0M137 68l2 0M308 160l2 0M107 24l2 0M242 185l1 0M51 209l2 0M227 136l1 0M200 52l2 0M91 68l2 -1M121 132l1 0M167 53l2 -1M157 162l2 0M265 183l2 0M20 3l1 -1M276 48l2 1M10 45l2 0M172 174l2 0M292 4l1 -1M279 94l1 0M42 37l0 -1M162 113l1 -1M133 186l1 0M265 185l2 0M252 190l1 0M208 8l1 0M12 16l0 0M294 20l2 0M171 72l1 0M189 177l1 0M46 37l2 0M109 30l2 0M240 138l2 0M87 103l2 1M228 193l1 0M124 21l1 0M261 117l1 0M189 120l2 0M274 52l2 0M207 203l2 0M34 27l2 1M160 155l2 0M278 203l1 0M293 24l2 0M201 151l2 0M269 24l2 0M180 131l1 0M149 59l1 0M235 106l1 0M9 144l0 0M281 13l1 0M300 171l1 0M303 57l2 0M26 86l2 0M15 163l2 -1M51 58l2 0M145 89l1 0M79 82l1 0M152 66l0 0M34 159l1 0M243 200l2 1M298 107l1 0M209 94l2 -1M188 213l2 0M243 15l1 0M211 56l2 -1M240 182l2 0M8 21l1 0M184 54l1 0M161 178l2 0M292 151l2 0M227 184l0 0M259 81l2 -1M300 230l2 0M208 28l2 0M290 133l2 0M134 132l0 0M25 194l2 0M207 172l1 -1M9 205l2 -1M121 179l0 0M14 170l0 0M30 14l2 0M177 72l0 0M56 97l1 0M35 140l0 0M272 104l1 0M200 230l2 0M18 167l1 -1M37 194l2 0M223 129l1 -1M10 84l0 0M36 24l0 0M51 93l2 0M275 180l2 -1M38 228l2 -1M139 213l1 -1M197 30l1 0M23 143l1 0M97 18l1 0M32 171l1 -1M115 54l1 0M300 192l2 1M115 70l2 1M204 212l1 0M160 69l1 1M47 208l2 -1M178 28l2 0M229 12l1 0M189 229l2 0M64 28l1 0M40 121l1 -1M14 123l2 -1M51 156l1 0M67 170l2 -1M70 61l1 0M187 185l0 0M154 143l1 0M124 205l2 0M92 219l1 0M83 166l2 0M141 209l1 0M24 117l2 0M309 90l1 -1M241 153l2 0M43 71l2 0M152 17l1 0M305 69l1 0M23 15l1 0M162 63l2 0M50 99l1 0M296 88l2 -1M18 221l1 0M174 192l1 0M42 40l1 0M47 43l2 0M34 175l2 -1M98 170l1 0M209 62l2 -1M285 85l2 0M207 144l2 0M100 24l1 -1M308 70l2 0M292 203l1 0M274 82l1 0M10 198l1 0M129 220l2 0M228 2l2 -1M25 142l2 0M177 123l1 0M213 125l1 0M206 214l1 0M279 229l0 0M13 184l2 0M73 35l2 1M265 210l1 0M183 119l2 1M193 141l1 0M49 206l2 -1M134 58l1 0M135 20l1 -1M263 182l1 0M293 127l2 0M134 129l1 0M166 207l1 0M132 11l2 1M9 9l2 1M244 22l1 0M138 198l0 0M100 145l1 0M117 107l0 0M132 199l2 0M106 154l1 0M63 123l1 0M204 16l1 0M263 85l2 0M221 186l0 0M134 177l2 0M30 118l1 0M268 86l1 0M18 8l1 -1M201 155l1 0M196 165l2 0M240 170l1 0M99 111l1 0M162 157l1 -1M171 109l1 0M227 168l1 -1M63 56l1 -1M152 31l2 0M303 75l2 -1M91 19l2 0M5 53l0 0M10 132l1 0M165 119l2 -1M218 80l0 0M156 14l1 0M30 161l1 0M98 83l1 -1M182 128l1 0M275 56l2 -1M160 154l2 0M100 50l1 0M285 33l2 -1M22 199l2 -1M260 56l2 0M92 207l1 1M169 136l2 -1M84 217l1 -1M234 220l0 0M49 85l1 0M34 161l1 0" stroke="#8a86aa" stroke-opacity="0.5" stroke-width="2.00" stroke-linecap="round" fill="none"/><path d="M214 147l3 0M21 184l1 0M114 36l3 0M171 80l1 0M65 225l3 -1M99 227l2 -1M103 177l1 0M50 9l1 0M51 172l2 -1M174 102l1 -1M265 153l2 0M47 169l2 -1M149 221l1 -1M280 111l1 0M119 29l2 0M212 174l1 1M58 149l1 0M123 206l3 0M231 176l2 1M188 173l3 1M152 133l2 0M160 68l1 0M272 16l1 0M183 94l2 0M203 9l2 0M140 147l2 0M155 71l3 -1M50 47l1 0M211 86l1 0M300 209l3 0M49 91l3 -1M31 226l2 -1M114 17l1 -2M46 226l1 0M178 191l3 1M166 114l1 0M112 82l2 0M124 8l1 0M131 75l3 0M196 149l2 0M22 129l2 -1M188 175l3 0M274 48l3 0M26 94l2 -2M41 6l1 0M288 121l1 0M132 149l3 0M152 62l1 0M182 186l3 -1M175 104l2 0M204 170l3 -1M232 58l3 -1M192 150l3 -1M256 14l2 0M151 125l1 0M44 93l3 -1M265 208l3 -1M107 36l3 -1M63 2l2 1M200 146l3 0M68 132l3 0M206 193l2 0M101 184l2 0M72 87l3 0M147 129l2 0M105 155l2 0M87 138l2 -1M277 196l3 -1M303 39l1 -1M247 142l3 1M206 68l1 0M237 11l2 0M138 165l3 0M259 227l2 0M172 197l1 0M96 59l3 -1M232 169l1 -1M26 224l3 0M282 39l3 0M10 72l2 1M137 133l2 0M233 43l1 1M128 73l2 0M166 12l1 0M204 110l2 0M231 124l3 -1M164 210l1 0M131 124l3 -1M91 225l2 -1M172 225l2 -1M277 14l2 -1M18 158l1 -1M239 40l3 1M144 10l2 0M139 94l3 0M35 78l3 1M247 111l2 0M78 83l1 -1M72 218l3 1M181 181l3 -2M102 53l1 0M289 47l3 -2M234 34l3 -1M153 97l1 0M256 212l1 0M6 208l3 -2M198 20l2 0M229 79l1 0M220 147l1 1M22 42l3 0M148 148l2 0M201 66l2 0M80 126l2 0M48 224l1 0M308 126l2 -1M39 208l3 0M102 107l4 0M69 151l1 0M267 18l1 -1M281 201l1 0M190 52l2 -1M54 176l3 -1M213 168l2 -2M49 47l3 1M126 8l2 0M83 57l2 0M195 230l1 0M81 130l3 0M304 30l2 1M109 165l3 0M134 201l3 -1M138 24l3 1M138 28l1 0M112 101l2 0M185 111l1 0M135 178l3 0M72 221l2 1M94 28l2 -1M46 61l3 -1M158 231l3 -1M141 211l4 1M250 46l3 -1M233 28l1 0M50 106l3 -1M12 10l3 -1M278 64l1 0M283 105l1 1M3 188l2 -1M124 97l2 -2M222 8l2 -1M233 84l1 0M72 126l3 -1M187 34l1 -1M287 208l2 -1M269 207l2 1M104 37l1 1M74 67l3 -1M28 228l3 0M257 12l2 -1M276 162l2 1M88 42l2 0M147 190l3 0M4 223l3 0M238 36l2 0M283 73l2 1M298 218l3 0M221 22l2 0M262 35l2 -1M10 171l3 0M245 103l3 0M242 212l2 0M167 190l1 0M208 213l3 0M89 135l2 0M230 153l2 -1M46 103l3 2M285 41l1 0M172 58l3 -1M83 212l2 -1M296 153l3 -1M91 60l2 0M216 204l2 0M106 62l2 1M229 121l3 2M105 183l2 0M97 20l2 -2M99 190l4 -1M222 176l2 -1M95 4l3 0M141 122l3 -1M31 118l2 0M37 52l2 -1M114 27l3 0M89 153l1 -1M276 106l2 -1M146 91l3 0M268 93l2 -2M85 137l2 -3M225 64l2 0M278 154l2 0M16 104l1 0M208 101l2 0M138 129l3 1M33 211l2 0M300 181l2 0M115 205l2 -2M37 23l1 -1M60 10l3 -1M296 103l1 0M115 201l2 1M188 193l3 1M164 39l1 -1M69 186l2 0M176 113l3 1M226 119l1 -1M113 125l3 0M77 67l2 -1M237 85l3 -1M73 192l2 0M55 90l1 0M250 142l3 -1M259 3l2 0M68 209l3 -1M281 77l2 -1M44 179l3 2M146 38l3 -1M212 21l3 -2M183 24l1 -1M18 213l1 0M99 100l2 0M289 44l3 0M276 165l2 1M66 57l3 1M107 68l2 0M108 58l3 1M305 71l2 -2M177 142l2 0M177 118l2 0M290 195l2 0M238 212l2 0M116 148l1 0M242 159l2 0M18 16l2 1M42 140l1 -1M188 129l1 0M153 11l2 0M49 149l2 -1M257 129l2 -1M26 183l1 0M257 143l2 1M140 228l3 0M64 227l1 0M54 66l3 0M142 47l1 0M231 57l3 -1M189 77l2 0M238 94l2 -2M192 8l1 0M157 201l3 0M7 10l3 1M245 102l1 0M63 173l1 0M132 68l1 0M110 155l2 0M272 95l3 1M267 207l2 -1M31 178l3 -1M196 160l2 -1M52 19l2 -1M138 54l3 0M130 132l2 0M75 48l3 0M167 189l2 -1M117 229l2 -2M65 18l2 1M221 67l1 0M33 200l3 1M111 160l2 -1M136 115l2 0M195 6l1 0M11 149l2 -1M203 128l3 -1M276 91l2 0M62 197l1 0M205 151l1 0M9 101l3 -1M78 71l3 0M250 184l3 -1M219 128l3 0M35 9l2 0M218 66l2 0M25 123l2 1M151 214l2 -1M226 102l1 -1M17 134l1 0M94 28l2 1M157 120l3 -1M111 97l1 0M264 61l1 0M76 210l1 0M288 13l2 0M202 2l1 0M68 206l2 -1M33 97l2 0M33 202l3 0M65 178l3 0M276 87l3 2M231 149l2 0M254 176l3 -1M174 62l3 0M62 155l4 0M25 14l3 -1M122 7l1 0M100 227l3 0M263 216l1 -1M149 230l2 -1M182 186l2 0M306 230l2 0M22 49l1 0M227 6l2 0M258 206l2 -1M291 49l1 1M147 62l1 -1M124 119l2 0M77 71l2 0M222 109l2 1M38 66l3 -1M89 30l2 0M266 181l2 -1M135 53l3 0M77 147l1 0M117 136l1 0M131 207l3 0M116 223l3 0M156 37l1 0M235 183l4 0M141 167l1 0M238 107l2 0M140 224l2 0M191 228l2 2M85 124l2 -2M100 188l1 0M45 135l1 0M207 188l1 0M65 12l2 1M284 61l2 0M191 90l2 0M203 229l2 0M115 10l2 0M19 171l2 -1M29 146l3 0M87 176l2 0M116 67l2 0M120 81l1 0M46 102l1 -1M111 92l2 -1M213 169l3 -1M243 227l2 0M138 204l1 0M36 42l3 0M40 149l1 0M105 66l1 0M95 58l2 -2M36 134l3 0M84 156l2 -1M131 152l2 0M295 115l2 0M118 101l3 0M185 112l2 -1M249 34l3 0M169 155l2 -1M88 9l3 -1M236 177l2 0M147 110l3 1M176 198l2 -2M263 83l1 -1M85 100l3 0M115 59l3 0M244 163l1 0M81 197l3 -1M108 93l2 0M73 3l2 0M242 47l2 1M297 35l3 1M299 191l3 -1M132 60l1 -1M100 150l2 0M26 228l3 -1M113 162l3 0M81 208l3 0M290 227l3 -1M25 185l2 0M162 217l2 -1M113 183l1 0M262 63l2 0M245 76l3 0M125 144l3 -1M276 64l2 0M133 26l2 -2M91 166l2 0M47 66l1 0M181 160l1 1M232 32l2 0M305 35l1 0M54 8l3 0M238 54l2 0M286 136l2 1M4 4l1 1M265 201l1 0M55 188l1 -1M24 166l2 0M283 10l1 0M245 152l2 1M27 209l3 -1M281 3l3 -1M21 212l2 0M156 222l2 -1M118 122l3 -1M232 195l3 1M151 149l2 -1M207 56l3 0M270 202l2 -1M256 190l2 0M12 76l2 1M263 91l1 0M190 198l3 0M2 182l3 -1M193 13l2 -1M247 204l2 0M221 24l2 0M60 63l2 0M52 202l3 1M105 51l1 0M57 104l1 0M87 37l2 -1M62 230l1 0M152 44l3 0M110 208l2 0M36 2l2 -1M156 17l2 1M227 163l3 1M4 60l2 1M237 82l1 0M97 24l1 0M221 83l3 0M200 15l2 0M65 55l3 0M194 112l2 0M51 108l2 -1M15 68l1 0M154 4l2 -1M172 120l3 -1M257 22l2 -1M110 160l1 0M173 3l3 1M141 183l1 0M187 198l3 -1M155 158l3 0M181 211l2 0M112 159l3 -1M220 37l3 1M56 33l2 0M74 22l2 0M238 25l1 0M248 70l3 -1M182 188l2 0M250 81l2 -1M158 16l2 1M41 104l1 0M110 14l3 -1M128 191l3 -1M262 139l2 0M243 196l1 -1M173 127l1 0M8 115l3 -1M288 17l3 -1M67 87l3 0M195 132l1 0M214 28l2 0M29 136l3 -1M193 117l3 1M188 23l3 -1M106 222l2 -1M49 13l3 0M219 223l1 0M77 50l2 -1M85 171l2 -1M46 145l2 -1M99 113l1 0M96 65l3 0M97 94l3 1M56 33l3 1M217 89l2 0M191 178l1 -1M81 88l2 1M53 33l2 0M60 144l1 0M74 110l1 -1M89 116l3 -1M136 130l1 0M35 103l3 -1M183 34l1 0M260 212l2 0M65 185l3 -1M128 76l3 -2M257 187l3 1M11 211l2 -2M62 205l3 1M277 4l1 0M284 189l2 0M4 155l3 0M5 132l3 -1M90 143l2 0M90 220l3 0M166 22l2 -1M147 197l3 0M86 43l3 -1M4 181l1 0M281 3l2 0M236 109l2 0M276 36l1 0M112 58l2 -1M91 206l2 -1M137 155l2 -1M171 144l4 1M113 138l3 0M159 48l1 0M140 50l1 0M118 90l2 0M86 156l3 0M237 79l3 0M108 225l2 -1M6 89l3 0M209 40l2 -1M279 98l1 0M272 137l2 0M105 37l3 -1M201 80l3 0M117 187l2 -1M137 225l2 0M290 36l2 1M49 213l2 0M21 153l1 -1M95 73l3 0M280 134l3 1M59 67l2 0M106 149l1 0M300 37l2 0M215 39l2 0M118 11l1 0M47 108l2 -3M129 207l1 0M185 129l3 0M300 29l2 -1M41 115l1 -1M79 223l2 0M268 195l3 0M241 125l1 0M102 20l1 0M48 56l3 -1M104 118l2 0M72 33l2 0M230 104l3 -1M207 227l2 0M302 97l2 1M5 54l1 0M108 70l3 0M125 191l1 0M141 20l3 -1M23 81l3 -1M102 70l3 -1M293 39l2 1M119 15l3 0M230 223l3 -1M118 83l3 0M257 177l1 -2M52 227l1 -1M18 140l2 0M76 22l1 0M178 51l1 0M304 147l2 0M45 212l2 1M113 217l1 0M172 149l2 0M47 224l1 0M99 31l3 0M26 204l2 0M216 2l1 0M219 79l2 0M142 87l3 0M252 122l2 0M289 165l3 0M235 46l3 0M294 208l2 -1M86 76l3 0M264 37l2 0M73 61l2 -1M95 201l3 0M116 166l3 -2M169 46l1 -1M87 148l3 0M122 111l2 -1M135 145l1 -1M207 137l2 -1M104 170l2 0M252 27l3 0M11 58l2 0M27 112l4 0M129 45l2 -1M229 57l1 0M94 224l3 -1M307 161l1 0M67 120l2 -2M111 47l2 -1M169 57l2 -1M292 199l2 0M131 203l2 1M2 81l3 0M20 68l2 -2M151 118l1 0M294 33l3 -1M131 90l2 0M236 52l1 0M303 96l1 0M89 70l3 0M136 59l2 0M64 40l3 -1M285 112l2 -1M148 118l3 0M278 72l2 0M287 127l1 0M235 177l1 0M15 215l3 0M209 44l2 -1M119 161l2 1M254 192l3 -1M287 120l3 -1M212 152l2 -1M132 106l2 -1M13 179l2 0M76 49l3 0M162 97l1 0M133 44l3 0M218 78l3 -1M53 8l1 0M265 192l3 -1M206 133l1 0M32 115l1 0M213 223l1 -1M222 157l1 0M306 28l2 0M43 196l2 0M11 181l1 0M2 200l1 0M279 37l3 0M7 48l3 -1M159 144l1 0M254 198l2 -1M243 70l2 0M114 20l2 0M49 53l3 1M156 230l1 0M5 77l1 0M77 10l2 -1M297 101l3 -1M237 135l3 0M66 91l3 -2M289 188l3 0M229 100l2 0M262 198l2 0M233 53l3 0M61 88l3 0M118 139l2 0M12 210l2 -1M154 185l3 -1M257 72l1 -1M62 132l1 0M308 70l1 -1M241 44l1 0M133 154l1 0M305 86l1 0M131 93l3 0M295 205l2 0M92 194l3 -1M190 165l2 0M84 127l2 -1M48 18l1 0M123 219l3 -1M204 1l1 -1M182 105l3 0M170 153l3 0M285 124l3 -2M308 198l2 -1M141 204l3 0M169 201l3 -1M195 10l1 0M216 46l3 0M284 152l1 -1M249 228l1 0M74 124l3 0M138 42l4 0M291 129l2 0M208 75l3 1M41 61l4 0M245 111l2 0M88 156l3 0M91 86l1 0M30 97l1 0M100 122l2 1M106 126l2 0M259 132l2 -1M37 112l3 0M108 114l3 -1M178 59l2 0M187 100l2 -1M131 30l3 -1M222 121l2 0M182 49l3 0M30 157l2 -1M35 72l2 -1M153 154l1 0M95 131l1 0M63 149l3 0M123 10l3 1M153 55l3 0M42 171l1 1M291 220l3 -1M105 96l3 -1M128 193l2 -1M240 10l3 0M105 85l2 -2M118 50l2 0M245 54l2 0M179 59l3 2M172 212l3 -1M192 20l2 0M157 119l2 -1M121 21l1 0M24 152l3 -1M21 228l3 -1M71 138l3 -1M212 152l1 0M184 174l1 0M57 74l2 0M77 48l1 1M118 55l3 -1M224 61l3 0M98 104l3 -1M89 77l2 -2M196 2l3 -2M298 175l1 -1M297 215l1 0M127 73l1 0M300 158l3 -1M31 16l1 -1M144 210l2 0M199 192l2 0M140 108l2 -1M280 7l2 1M68 54l3 -1M234 62l3 -1M58 103l2 -1M146 65l3 0M187 40l3 0M2 107l2 0M59 88l2 -1M113 78l3 -1M158 14l2 0M53 191l2 -1M206 91l2 -1M159 49l1 1M135 149l3 -1M176 144l2 0M190 28l2 -2M141 229l2 1M289 127l1 0M230 85l3 0M274 134l3 1M263 33l1 0M272 125l3 1M232 61l3 -1M214 102l2 -2M241 109l2 0M304 7l3 -1M133 117l3 1M71 119l2 0M254 35l3 0M10 204l3 -1M127 101l1 -1M92 142l1 -1M93 43l1 0M132 15l2 0M175 151l2 0M105 149l1 1M55 142l3 -1M302 221l1 0M109 89l1 0M210 218l3 -2M171 25l3 0M223 225l3 0M33 41l3 0M100 14l2 0M83 75l3 1M212 226l1 -1M162 213l2 0M59 27l3 -2M181 154l1 0M224 127l2 0M19 35l3 -1M259 48l3 -1M141 155l2 0M143 129l2 0M59 203l2 -2M200 102l1 -1M291 143l4 0M225 223l1 0M164 55l1 0M251 1l2 -1M234 165l3 -2M12 61l1 0M159 109l3 -1M35 215l1 0M77 178l3 -1M59 193l1 0M244 81l1 -1M32 85l2 1M285 217l2 0M122 161l1 0M58 124l3 -1M50 200l3 0M274 10l2 0M19 207l2 0M287 192l1 0M168 33l2 2M261 32l1 0M58 174l1 -1M60 33l2 0M113 95l3 0M257 208l3 -1M145 172l2 0M55 99l2 2M306 210l2 -1M72 88l1 -1M173 21l3 0M101 172l1 0M47 2l2 -1M29 48l2 0M159 120l3 -1M290 187l3 1M97 37l1 1M40 46l2 1M27 172l2 1M93 149l3 -1M29 24l1 0M178 7l3 0M40 158l1 0M118 163l2 0M237 213l3 0M161 19l3 0M80 76l2 -1M14 198l3 0M28 54l1 0M135 130l4 -1M121 154l2 0M235 185l1 0M244 175l3 -2M106 7l2 -1M235 110l1 0M198 28l3 0M104 67l2 0M35 182l1 0M279 142l3 -2M168 37l3 1M124 208l2 0M23 152l2 -1M78 98l1 -1M99 210l3 0M49 62l3 0M7 132l3 0M132 12l1 -1M154 114l2 0M14 161l2 0M298 130l3 1M140 16l3 0M164 206l3 -2M154 16l1 -1M55 14l3 0M87 117l3 1M246 166l1 -1M299 55l3 -1M40 212l2 0M298 76l3 0M245 106l3 -1M199 61l3 -1M195 51l3 0M249 105l2 -2M266 228l4 0M246 21l3 -1M120 15l1 0M134 5l2 0M266 181l2 0M101 96l3 0M152 78l1 -1M37 62l1 -1M113 117l2 0M186 221l2 0M164 177l3 0M95 46l2 0M172 130l2 0M303 125l3 -1M69 207l2 -1M130 135l1 0M172 86l3 -2M19 132l1 0M28 115l3 0M147 207l1 0M205 206l1 -1M70 68l2 0M44 95l3 0M24 94l3 1M134 138l3 0M26 36l1 0M279 150l2 0M194 182l2 1M122 87l3 0M107 179l2 -1M45 27l2 1M253 109l1 0M61 85l2 0M52 199l3 0M86 179l3 0M309 179l2 -2M76 161l1 0M300 178l3 -2M15 114l1 0M185 184l3 -1M11 131l3 -1M138 114l2 -1M150 78l2 0M277 130l3 0M12 218l2 -1M48 164l2 -1M25 16l1 0M152 100l2 1M155 121l2 0M289 139l3 0M250 226l2 -1M309 149l3 0M154 85l3 1M119 76l3 0M50 221l2 -1M27 125l3 -1M66 3l2 -1M173 39l3 0M50 42l2 1M46 141l2 0M177 191l3 -1M222 224l2 0M110 90l2 -1M116 201l2 0M230 37l2 -1M240 83l3 0M77 80l1 0M19 37l2 -1M34 56l1 -1M202 138l2 -2M169 101l4 0M259 129l4 0M63 103l1 -1M247 192l3 -1M129 211l3 0M2 22l1 -1M227 57l3 -1M4 62l3 -1M14 149l2 0M94 215l2 0M148 158l1 0M275 40l2 0M182 169l1 0M30 217l1 0M290 33l2 0M16 10l3 -1M116 138l3 0M145 201l2 1M249 95l2 0M127 103l2 0M138 93l3 -1M258 43l3 0M126 214l3 -1M65 170l2 0M294 81l2 -1M155 229l3 0M163 66l3 1M55 46l1 -1M198 163l3 0M93 163l3 -2M30 190l1 0M235 189l1 0M71 86l2 0M10 132l3 0M170 44l2 0M304 55l2 0M152 52l1 0M41 140l2 1M104 158l3 -1M249 214l3 -1M58 144l1 0M152 56l3 0M179 81l2 -1M59 221l2 -1M205 129l2 0M186 188l2 0M67 209l3 -1M226 142l2 0M288 62l2 1M200 186l3 1M145 136l3 0M124 221l1 -1M118 203l1 -1M171 44l2 -1M182 156l2 -1M304 155l2 1M152 197l1 -1M243 57l3 -1M249 23l2 1M267 129l2 -1M125 56l3 0M210 101l3 0M212 161l2 0M251 13l3 -1M294 110l1 0M246 188l3 -1M270 32l2 -1M240 203l1 1M294 81l3 0M239 53l2 -1M83 229l2 0M17 133l2 0M74 76l2 1M161 77l1 0M42 119l2 1M69 73l2 -1M158 22l1 0M215 52l2 1M9 119l1 0M187 218l2 0M55 188l3 0M211 98l3 -1M211 87l3 0M167 97l1 -1M7 47l2 0M249 176l3 1M118 81l1 0M44 37l3 0M64 57l1 0M288 10l1 0M115 81l2 -2M18 192l3 -1M100 222l3 -1M142 148l1 0M280 204l1 -1M64 138l3 -1M163 161l2 0M285 115l2 0M202 89l3 0M190 39l3 -1M154 198l2 -1M175 136l2 0M151 171l1 -1M262 171l1 0M32 121l2 -1M40 167l3 1M273 95l2 1M209 189l1 0M190 148l2 0M95 70l1 0M49 139l1 0M45 50l2 -2M22 153l4 0M241 120l2 0M201 177l1 0M158 31l1 0M127 206l3 0M90 218l3 -1M35 47l3 0M186 125l2 0M217 99l3 0M135 100l2 0M152 100l2 -2M211 157l1 0M240 76l1 0M34 45l1 0M200 125l3 0M71 95l3 1M112 100l1 0M120 92l3 1M221 144l3 0M247 174l1 0M158 195l2 0M218 214l3 -1M294 198l2 0M68 199l2 0M105 224l2 0M30 216l2 -1M40 71l3 -1M269 181l2 0M271 35l2 -1M181 199l2 -1M96 15l3 0M7 165l3 -1M69 6l1 0M77 158l3 0M2 95l3 1M242 216l3 -2M25 156l2 0M290 113l2 -1M51 207l1 -1M122 113l3 -1M28 14l3 0M172 39l2 1M275 192l3 -2M270 99l1 -1M150 85l2 0M255 208l3 1M59 14l1 0M2 173l3 -1M130 174l1 0M127 70l3 -2M56 44l3 1M175 46l1 0M186 167l2 0M23 133l2 1M240 133l3 0M253 65l1 -1M278 91l2 0M262 133l1 0M98 46l3 -1" stroke="#35304e" stroke-opacity="0.8" stroke-width="2.40" stroke-linecap="round" fill="none"/><path d="M229 203l2 -1M78 106l1 -1M182 183l3 -1M172 178l4 0M204 90l2 0M284 99l2 0M81 161l2 0M242 69l3 -1M115 120l2 0M50 143l1 0M171 172l2 -1M243 68l3 0M223 46l3 -1M164 53l4 -1M69 98l1 0M178 200l1 0M166 175l1 1M182 78l2 0M227 83l2 1M250 207l2 0M284 114l3 -1M109 25l4 1M244 61l3 0M126 126l4 0M253 54l3 -3M48 76l2 -3M234 78l2 0M103 62l2 0M177 135l2 -1M214 101l3 -1M61 25l2 -1M281 3l2 -1M78 90l3 0M102 46l3 0M154 141l3 0M291 44l4 1M280 187l2 0M51 104l3 -2M66 183l2 -1M282 212l2 0M41 26l3 -1M233 69l4 -2M93 49l2 -1M100 135l2 0M120 77l2 -1M34 125l2 0M81 139l2 0M82 70l4 -1M46 133l4 1M239 206l4 -1M11 20l3 -1M74 221l2 0M223 52l3 -1M283 135l3 0M67 144l3 1M41 132l4 -1M241 48l3 -1M66 89l1 -1M68 87l1 0M79 5l3 0M147 160l1 0M75 86l3 0M189 114l4 0M104 7l1 -1M35 24l1 -1M122 169l3 -1M180 70l2 0M91 113l2 0M230 222l1 0M271 106l3 -1M183 177l3 2M94 65l3 0M101 148l4 1M32 136l4 -1M178 165l3 0M201 208l3 0M111 36l1 0M246 57l2 0M66 130l4 0M273 128l1 0M85 226l2 0M150 157l1 0M94 220l3 -1M287 125l2 -1M125 155l3 -2M97 41l2 0M48 187l2 -1M242 216l3 1M275 211l2 0M256 112l2 0M111 108l3 -1M78 136l4 -2M296 127l1 -1M188 86l2 -1M157 162l2 1M202 36l2 0M124 188l2 -1M90 78l3 1M187 158l3 -1M92 49l3 0M272 17l2 -1M149 7l2 -1M85 10l1 -2M12 5l4 1M223 103l3 0M216 23l3 -3M85 129l4 0M93 161l2 0M171 111l4 -1M24 47l4 0M88 150l2 1M207 145l3 -1M62 122l4 0M257 101l1 -1M303 134l2 1M59 9l4 -1M98 12l1 0M150 188l1 0M50 220l3 1M119 184l2 -1M183 2l1 -1M117 197l1 -1M138 77l1 0M157 59l1 0M246 103l2 0M106 121l2 0M20 28l2 0M291 15l4 -2M103 93l1 0M153 156l4 0M267 122l3 -1M170 202l4 0M105 217l3 2M8 11l3 1M94 99l2 -1M242 218l2 1M142 160l4 0M196 61l4 1M133 16l3 3M97 57l3 -1M161 174l4 -1M4 211l1 0M265 48l4 0M38 133l3 0M45 222l3 -2M82 151l1 -1M252 27l2 0M101 111l4 -1M108 144l3 -2M26 111l4 -1M60 61l3 0M166 199l2 -1M180 173l4 -1M70 198l2 1M107 133l2 -1M12 175l2 -1M110 200l1 0" stroke="#5a3ec0" stroke-opacity="0.85" stroke-width="3.40" stroke-linecap="round" fill="none"/></g></g><rect x="179.45" y="600.35" width="157.50" height="118.30" fill="none" stroke="#000" stroke-width="2.3"/><text x="258.90" y="594.00" font-family="Liberation Serif" font-size="11.7" text-anchor="middle" fill="#222" >CM</text><rect x="353.70" y="601.50" width="155.20" height="116.00" fill="#e8f4f2"/><g transform="translate(353.70,601.50)" clip-path="url(#c22)"><clipPath id="c22"><rect width="155.20" height="116.00"/></clipPath><g transform="scale(.5)"><path d="M297 33l1 0M107 206l1 0M187 216l2 1M297 72l2 0M110 100l2 -1M243 190l0 0M301 218l2 -1M173 191l2 0M110 185l2 0M22 71l1 0M66 36l2 0M84 17l2 -1M236 173l2 1M116 210l2 0M278 205l2 1M165 21l1 0M88 96l2 0M55 117l1 0M207 207l1 0M145 196l1 0M266 195l2 1M40 198l2 1M80 164l1 -1M5 163l1 0M170 192l2 0M137 82l2 -1M288 159l2 0M134 34l1 0M305 7l1 0M261 191l1 -1M27 145l2 1M141 12l1 0M155 154l1 1M60 77l2 1M26 23l2 0M277 13l1 0M282 171l1 0M270 54l1 0M283 10l1 0M217 212l1 0M299 205l1 0M225 188l2 0M239 27l2 -1M211 39l2 0M255 47l2 0M108 206l2 -1M77 9l1 0M144 137l2 -1M243 59l0 0M111 38l1 0M278 39l0 0M26 73l2 -1M178 173l2 -1M182 59l1 0M133 84l2 0M116 23l2 1M168 90l2 0M265 152l2 0M34 67l2 -1M128 164l2 1M304 162l1 0M166 178l1 0M103 204l1 0M249 89l2 1M110 61l1 0M210 3l1 0M295 26l2 0M281 183l1 -1M188 73l2 0M107 79l2 0M10 48l2 0M295 222l2 1M190 51l2 0M111 10l1 0M293 52l2 -1M121 174l2 -1M35 63l0 0M31 151l1 0M206 58l2 0M305 169l2 0M47 174l1 0M163 163l2 0M61 104l1 0M246 144l2 -1M185 78l2 0M192 194l0 0M67 39l1 -1M58 52l1 0M167 170l2 1M204 90l2 0M87 214l2 0M244 191l1 0M59 54l2 0M194 67l1 0M263 128l1 0M225 192l1 -1M73 81l1 0M277 154l1 0M106 119l2 1M167 169l1 0M202 109l1 0M142 23l1 0M239 178l2 0M235 198l1 0M45 177l1 0M31 64l2 1M233 188l2 0M203 30l1 0M54 37l1 0M304 78l2 0M202 213l1 0M29 193l2 -1M181 36l1 0M22 227l2 1M268 99l2 0M67 228l2 0M136 27l2 1M234 64l1 0M282 198l1 0M150 10l2 0M257 218l1 0M36 122l1 0M247 143l2 0M254 181l2 0M189 15l0 0M210 104l1 0M49 53l2 0M308 210l2 1M27 179l2 1M169 79l2 0M21 48l2 0M94 29l1 0M123 14l1 0M51 121l1 0M242 94l2 0M63 110l2 0M230 39l1 0M113 3l1 0M52 122l1 0M129 65l2 0M284 99l1 0M247 209l1 0M299 40l2 -1M146 163l2 1M168 202l1 0M4 97l2 -1M55 58l0 0M290 85l1 0M283 146l1 0M146 89l2 0M249 57l2 0M7 162l1 0M305 107l1 0M36 59l1 0M51 171l1 0M306 58l2 -1M267 186l2 -1M7 87l2 0M183 68l1 0M200 73l2 0M93 44l2 -1M266 7l2 1M42 33l2 0M258 191l2 0M6 70l2 0M298 199l1 1M271 26l2 0M184 123l2 0M240 150l1 0M30 57l1 0M264 198l2 0M81 197l1 0M123 125l1 0M216 122l2 0M292 40l2 1M130 8l2 -1M107 22l1 -1M244 218l1 0M142 188l0 0M184 47l2 1M192 59l1 0M306 152l1 0M288 33l2 1M180 226l2 0M162 55l1 0M6 199l1 0M275 10l1 0M243 83l1 0M277 44l1 0M302 183l2 1M213 154l2 1M246 222l2 0M194 23l2 0M43 197l1 0M198 62l1 0M37 211l2 -1M284 135l1 0M277 4l1 0M305 122l1 0M102 72l2 0M90 223l2 0M193 89l1 0M121 99l1 0M2 197l1 -1M6 73l1 0M141 224l2 0M96 12l2 0M132 186l2 0M265 35l1 1M252 196l1 1M268 19l1 0M131 52l1 0M289 81l1 1M244 127l1 0M271 77l2 0M258 200l2 0M135 31l2 0M257 156l2 0M4 107l2 0M81 96l0 0M258 188l1 0M280 160l2 0M16 37l1 0M273 89l2 0M50 155l1 0M127 209l2 1M286 115l2 -1M180 68l1 0M15 44l1 0M162 2l1 0M19 127l1 -1M120 180l2 0M100 63l1 0M82 84l1 -1M224 189l2 0M186 202l2 1M277 231l2 0M299 72l1 0M105 67l2 -1M230 229l2 0M69 122l2 0M184 99l1 0M242 207l1 0M83 56l1 1M125 42l2 1M41 180l1 0M117 153l1 0M5 55l1 0M92 180l1 0M22 53l1 0M45 179l1 0M161 25l0 0M79 76l1 0M197 61l2 0M130 44l1 0M185 160l1 0M275 92l2 0M57 8l1 0M302 205l2 0M172 8l1 0M230 178l1 0M76 120l2 0M20 188l1 0M269 116l2 0M7 213l2 0M148 147l1 0M138 78l2 0M152 103l1 0M24 12l1 0M244 191l2 -1M8 6l2 0M161 91l1 0M226 106l1 0M30 156l0 0M192 89l2 0M248 136l1 0M281 108l2 -1M302 207l1 0M304 55l1 -1M240 193l2 1M115 96l0 0M165 212l1 0M234 19l1 0M212 28l2 0M138 157l1 0M193 127l1 0M208 186l1 0M250 124l1 0M240 99l1 1M253 107l1 0M305 199l2 0M281 158l1 0M263 47l0 0M74 64l1 0M203 202l2 0M46 116l1 0M260 136l1 0" stroke="#8a86aa" stroke-opacity="0.5" stroke-width="2.00" stroke-linecap="round" fill="none"/><path d="M183 72l2 0M291 180l3 0M287 117l3 0M284 71l2 0M30 208l2 0M63 161l3 -1M286 107l2 -2M231 110l2 -1M106 40l2 0M56 64l1 1M107 170l1 0M10 47l3 1M306 196l1 0M249 207l3 0M254 226l3 0M268 139l1 0M157 218l3 0M7 73l2 0M54 111l3 0M309 190l3 0M157 16l3 -1M196 11l3 0M67 110l1 0M124 129l3 0M40 171l2 1M241 29l1 0M201 61l3 1M38 16l3 0M194 78l1 0M287 119l2 1M265 90l3 0M199 10l3 1M196 71l2 -1M251 122l1 0M266 192l1 0M149 100l1 1M38 68l2 0M151 136l3 0M244 113l1 0M249 88l3 0M29 69l3 0M113 28l3 1M73 100l3 -1M242 20l2 0M213 217l2 -2M185 138l3 -1M6 153l3 0M11 159l3 -1M15 21l4 0M268 72l4 0M306 190l2 -1M224 53l1 -1M172 82l2 0M84 72l3 -1M287 154l2 -1M232 123l3 0M66 8l1 0M278 97l2 0M137 130l1 0M117 93l3 -1M155 162l2 1M57 154l3 0M283 226l1 0M69 114l2 -1M37 162l2 0M213 76l3 -1M260 199l2 -1M246 10l2 0M154 48l1 0M289 204l2 1M16 4l3 -1M143 165l1 0M306 103l2 1M82 170l1 0M43 44l1 0M17 47l3 -1M225 180l2 -1M292 57l1 -1M37 130l2 1M39 122l1 0M157 114l2 0M148 57l1 0M35 183l3 -1M155 18l1 -1M197 121l3 1M95 130l2 0M243 204l3 0M292 27l3 0M200 152l2 0M244 55l2 1M224 2l2 -2M9 129l1 1M215 112l3 0M45 175l3 0M102 65l2 0M228 204l1 0M6 115l2 0M273 116l2 0M275 137l2 -1M82 71l3 0M278 33l2 -1M96 9l1 0M260 129l2 -1M276 25l1 0M75 113l3 -1M300 107l3 1M201 124l3 -1M16 162l1 0M297 174l2 0M87 189l3 0M102 215l2 -1M227 129l3 -2M5 90l2 2M25 164l3 -1M141 107l2 0M211 198l2 1M301 67l1 0M47 151l1 -1M111 169l3 -1M169 208l2 0M174 179l1 0M200 166l3 0M215 158l3 -1M60 10l3 1M74 145l3 1M85 45l2 0M216 210l3 1M26 74l1 1M189 39l2 1M198 196l3 -1M114 128l1 0M251 52l2 1M5 201l2 1M190 62l1 0M189 221l3 -1M262 3l3 1M201 62l1 0M185 22l3 0M288 130l3 0M255 174l3 1M149 219l2 0M184 177l1 0M144 218l3 1M142 109l3 -1M10 220l1 1M56 94l2 0M42 4l2 0M71 223l3 -1M130 108l1 0M45 172l2 0M13 229l2 1M207 55l2 0M180 161l1 0M212 172l2 1M36 224l3 0M57 71l2 1M33 8l3 1M201 72l1 1M207 149l1 0M189 28l3 0M124 181l3 0M279 91l2 0M33 44l1 0M161 40l2 0M31 171l3 1M42 54l3 -1M256 61l1 0M91 61l2 0M121 94l2 0M118 93l2 0M206 128l3 0M247 119l2 0M232 87l2 -1M104 40l3 1M156 81l2 2M131 89l2 -1M171 45l1 0M3 177l3 -1M30 69l3 0M73 210l1 0M155 136l3 0M101 83l2 1M162 200l1 0M108 113l1 0M86 67l2 0M256 214l3 1M277 215l2 0M171 65l3 0M137 206l1 0M156 69l1 0M154 200l1 0M56 66l3 -2M280 96l2 1M158 138l2 1M268 166l1 0M297 123l2 0M7 118l3 0M39 79l2 -1M6 214l3 1M94 210l3 2M188 30l3 1M127 5l2 0M305 20l3 0M277 103l2 1M134 23l4 0M243 97l2 0M38 198l3 0M198 92l3 1M300 123l2 0M51 99l2 -1M222 48l2 0M27 13l2 -1M165 123l2 0M289 98l3 0M176 222l2 0M201 21l2 0M274 196l2 -1M272 207l3 -1M33 38l1 0M160 22l2 1M48 61l3 -1M48 67l1 0M292 69l2 0M179 142l2 1M116 7l1 -1M265 216l2 -1M192 77l2 0M275 122l2 1M52 159l1 0M246 101l3 -1M254 57l3 0M220 150l2 0M294 35l2 0M118 147l2 -1M243 142l3 -1M195 199l3 0M28 96l1 0M262 223l3 2M285 206l2 0M33 130l2 0M264 137l2 -1M43 60l2 0M185 90l1 1M68 230l1 0M179 137l1 -1M11 203l3 0M50 160l1 0M256 143l1 0M10 189l3 1M226 11l2 1M228 60l2 -1M90 230l2 0M176 215l2 -1M298 165l2 0M2 207l2 0M106 111l3 1M218 208l1 0M180 104l3 2M101 181l3 1M189 37l3 -1M79 57l2 0M79 103l1 0M266 28l3 -1M283 146l2 0M274 191l3 1M110 197l3 0M135 90l2 0M79 93l2 1M186 192l3 1M128 44l3 -1M118 62l2 0M282 76l1 0M48 43l2 1M227 156l3 1M249 53l3 1M36 35l2 0M37 10l2 1M255 171l2 0M143 10l3 0M85 73l1 0M245 196l2 0M231 104l3 1M12 132l1 0M210 116l1 1M270 185l1 0M308 157l3 0M296 215l1 0M270 148l3 -1M224 184l3 1M11 132l1 0M306 166l2 1M194 26l3 -1M144 182l1 1M74 67l3 -1M144 167l2 0M50 28l1 0M172 134l1 0M208 224l2 0M253 100l1 0M88 8l3 -1M307 120l3 -1M115 98l3 0M62 123l3 0M226 106l2 0M291 53l3 1M154 197l1 0M56 113l3 -1M63 137l3 0M130 29l1 1M16 173l2 0M299 214l1 0M102 18l2 0M279 66l3 0M280 148l3 -1M100 103l1 0M64 166l1 1M70 135l3 -1M203 173l1 0M173 26l3 -1M149 124l1 0M59 205l3 -1M73 19l1 0M200 138l3 0M250 28l2 -1M28 191l4 1M46 168l3 1M60 229l1 0M169 187l2 1M168 214l2 1M209 73l1 0M148 99l1 0M47 85l2 0M132 190l1 0M105 58l3 -1M282 204l1 -1M237 134l3 1M51 208l2 0M235 40l1 0M227 13l2 0M100 57l2 0M8 194l2 1M241 194l2 1M211 221l3 -1M180 177l3 1M307 11l2 0M22 15l1 0M292 203l2 0M149 36l1 0M120 142l3 0M55 113l2 2M91 159l1 0M154 50l1 0M182 174l2 0M71 207l3 0M80 67l3 1M116 172l1 0M306 146l2 1M58 165l1 0M72 165l1 0M191 208l3 -1M9 157l2 0M240 214l1 1M41 35l2 -1M260 2l1 1M224 4l1 0M136 51l2 0M299 15l2 0M87 13l1 0M200 88l1 0M193 71l4 0M144 58l1 0M162 214l1 0M260 20l2 0M138 134l2 0M235 216l3 0M296 134l1 0M26 81l1 0M23 28l1 1M308 189l2 0M281 113l3 0M234 20l3 0M289 13l2 1M66 19l1 0M305 175l3 0M309 217l2 0M75 189l1 0M278 84l2 0M62 38l1 0M308 176l2 1M90 163l2 1M256 91l1 0M102 67l3 -1M256 214l4 0M196 47l3 0M104 84l1 0M12 188l2 0M70 100l2 -1M294 207l3 0M118 160l1 0M271 146l2 1M51 195l2 0M144 74l3 0M277 121l1 0M270 14l2 -1M184 156l2 -1M267 177l3 1M33 101l1 0M4 134l2 0M77 114l2 0M294 214l3 1M196 142l1 0M139 67l2 0M246 140l1 0M93 49l1 0M157 111l3 1M234 169l3 0M33 212l1 0M172 198l1 -1M41 87l1 0M209 134l2 0M210 208l1 -1M119 198l1 0M157 93l3 1M30 8l2 0M89 15l2 1M18 62l2 0M246 140l2 0M34 206l2 0M81 198l3 0M207 117l2 0M123 56l2 0M79 197l2 0M189 118l3 0M83 190l1 0M243 2l3 -1M100 176l2 -1M4 40l1 0M278 54l1 0M3 50l2 1M7 42l3 -2M199 27l2 1M63 130l2 0M124 186l1 0M178 50l1 0M170 49l1 0M88 4l2 0M173 73l2 0M27 95l3 -1M164 21l2 0M51 3l2 2M15 99l2 -1M99 42l3 -1M175 22l2 0M256 110l2 1M211 16l1 0M149 35l2 0M12 196l3 0M130 108l3 -1M18 2l3 1M16 157l3 -1M291 223l2 -1M75 139l3 0M89 176l1 -1M41 170l3 1M18 152l1 0M234 145l2 0M237 85l3 -1M164 70l3 0M250 146l2 1M125 69l3 0M143 115l3 1M91 65l1 0M189 90l1 0M76 215l1 0M298 123l2 -1M208 172l2 0M274 135l1 0M120 210l2 -1M115 42l2 0M135 118l1 0M253 117l3 0M247 150l2 2M14 141l2 0M181 108l1 1M304 62l3 0M80 102l3 1M115 202l1 -1M164 185l3 -2M121 19l3 0M109 61l2 0M166 58l3 1M62 60l2 0M220 165l3 1M69 230l2 0M3 46l3 2M16 31l2 0M53 223l2 -1M85 142l2 -1M56 111l2 0M239 115l2 -1M180 208l2 1M209 135l1 0M122 62l2 0M11 4l1 0M307 143l2 -1M232 225l3 -1M226 44l1 0M210 206l3 0M266 26l1 0M147 186l2 1M47 39l2 0M295 19l1 0M184 110l2 0M2 229l3 -1M58 180l2 0M21 185l2 0M4 58l1 0M106 88l1 0M309 20l4 0M248 94l1 -1M233 43l1 0M213 16l1 0M67 99l3 0M50 80l3 -1M94 156l2 0M289 157l2 0M191 107l1 0M20 193l2 0M259 225l2 1M170 47l2 1M288 120l3 0M200 24l2 0M86 135l2 0M239 170l2 0M9 138l2 0M185 200l3 1M60 31l3 -1M150 41l1 0M261 53l2 0M54 58l3 0M138 211l3 1M108 100l1 0M72 98l2 -1M171 124l1 0M275 137l3 1M136 217l1 0M63 166l2 0M101 138l3 -1M174 99l2 -1M119 157l2 0M67 188l2 0M165 12l2 0M262 68l3 0M52 1l3 -1M173 48l3 -1M42 26l2 -1M291 81l2 -1M177 45l2 0M95 183l3 1M201 168l3 1M224 170l3 0M189 204l3 1M107 200l3 0M12 44l3 -1M278 165l2 0M201 27l3 1M208 105l2 -1M296 112l1 0M124 164l1 0M243 199l1 0M114 125l2 0M36 122l3 -1M166 57l1 0M7 225l3 -1M129 132l2 1M145 75l1 -1M241 81l3 -1M222 172l3 0M13 143l2 1M213 56l2 0M18 28l3 1M124 110l3 -1M81 152l1 0M254 197l3 1M194 5l2 0M132 118l3 0M220 152l2 1M36 225l1 -2M232 45l3 -1M195 26l2 -1M307 69l3 -1M18 55l3 0M119 99l3 1M123 42l2 1M122 91l3 -1M9 111l1 1M222 62l1 0M227 36l1 0M130 107l2 0M241 26l1 0M237 72l2 1M277 84l2 0M269 207l2 1M212 148l3 0M290 201l3 1M237 172l2 0M242 37l1 0M42 131l1 0M288 14l3 0M93 230l3 0M245 159l2 0M283 193l1 0M182 99l3 1M252 212l3 0M174 198l3 1M215 53l3 -1M66 97l2 -1M106 230l1 0M132 37l3 1M222 140l3 2M254 161l3 0M281 101l2 0M272 214l2 0M260 40l3 0M247 15l1 0M238 125l3 -2M241 71l2 0M147 149l2 -1M268 116l1 0M81 213l3 1M39 125l3 2M14 228l1 0M243 137l2 0M124 148l1 0M16 39l3 -1M72 205l1 0M128 53l3 0M300 217l2 -1M75 180l2 -1M113 189l2 1M40 121l2 0M210 212l1 0M75 149l3 0M308 164l2 1M5 121l2 -1M275 68l3 0M102 224l2 0M72 28l2 0M272 198l3 -1M63 41l2 0M201 192l2 1M251 143l1 0M234 100l2 0M55 160l1 0M174 147l2 0M43 134l1 0M29 105l3 1M37 90l1 0M282 19l2 -1M96 92l3 0M62 181l1 0M83 182l1 0M159 229l2 0M281 90l1 0M231 43l3 -1M190 46l2 -1M292 160l3 -1M158 3l3 1M124 228l3 0M112 67l2 0M126 104l2 1M273 210l3 -1M195 44l2 -1M264 88l2 0M286 93l3 -1M215 165l1 -1M276 73l2 -1M193 66l3 -1M283 153l3 -1M27 12l2 -1M307 159l2 -1M74 109l2 0M203 223l3 1M138 7l2 0M41 153l2 0M296 55l2 0M292 48l2 -1M189 185l2 1M126 117l2 0M13 133l2 1M41 51l1 -1M263 164l1 0M211 196l1 0M210 119l2 -1M20 58l1 0M298 42l2 0M236 214l3 -1M304 140l3 1M262 116l3 1M17 67l3 0M99 176l3 0M237 196l3 1M258 105l1 1M59 192l3 0M100 32l1 0M141 12l2 2M50 144l3 0M276 155l1 0M222 17l1 0M205 74l3 0M120 66l2 1M228 58l1 0M301 192l2 1M206 84l1 0M34 22l2 0M72 202l2 0M218 34l3 0M178 169l1 -1M47 209l2 0M262 202l1 0M18 40l4 0M75 188l1 0M66 21l3 1M134 20l3 1M237 159l1 0M63 33l2 0M276 123l2 1M72 85l3 0M289 130l2 -1M91 135l3 0M45 147l2 0M154 73l3 0M187 158l2 1M168 165l3 -1M60 168l2 0M84 7l3 2M304 135l2 1M217 228l3 0M236 199l3 0M30 25l2 -1M237 95l1 0M246 204l2 0M206 54l3 0M28 41l2 -1M192 119l1 0M282 65l3 0M20 162l1 0M245 109l2 0M250 223l2 -1M232 130l2 2M39 178l2 0M156 203l3 0M69 87l2 -1M78 53l3 1M154 222l1 -1M50 80l2 -1M3 60l1 0M36 116l3 -1M166 47l1 0M78 105l2 0M281 167l1 0M187 169l4 0M151 214l1 0M18 226l3 0M266 110l1 2M54 214l2 1M260 61l1 0M229 182l3 1M135 83l3 1M171 215l3 0M178 148l3 0M237 50l2 -1M227 37l1 0M30 228l2 -1M139 199l2 0M132 96l2 0M286 150l3 -1M289 179l1 0M158 198l3 0M219 97l1 1M104 129l3 -1M56 192l3 0M267 160l3 1M39 37l1 0M102 28l3 -1M67 121l3 0M249 124l1 0M293 161l3 -1M144 192l1 1M303 173l2 0M108 223l2 0M156 177l2 0M157 18l3 1M113 99l3 -1M197 30l2 -1M71 32l3 -1M304 192l2 0M243 128l3 0M197 12l1 0M136 80l1 -1M281 197l1 0M175 27l1 0M156 153l1 0M300 118l3 0M271 28l1 0M105 78l1 0M163 59l1 0M219 189l1 0M116 45l3 1M289 196l1 0M304 110l2 1M235 219l1 0M97 11l1 -1M173 179l2 1M74 135l2 -1M169 83l1 0M130 32l3 -1M90 49l1 0M41 42l1 -1M172 67l2 0M82 188l1 0M240 195l2 0M195 37l1 0M120 161l3 0M97 221l2 -1M9 77l1 0M121 41l2 -2M65 179l2 0M204 125l3 0M247 106l2 0M23 101l2 1M95 63l3 1M273 182l2 0M212 193l1 0M199 128l2 0M91 40l3 0M43 219l2 -1M59 109l3 0M280 67l2 0M164 213l2 1M71 85l1 0M204 116l3 -1M265 9l1 0M5 135l3 0M212 150l2 0M57 11l2 -1M90 207l2 -1M246 158l2 -1M157 202l3 0M206 164l3 0M95 31l3 0M213 144l2 0M214 175l2 0M153 19l2 0M184 165l2 1M198 209l3 1M7 168l2 0M48 50l2 0M136 9l3 1M260 119l1 0M184 170l2 0M6 109l2 0M109 231l1 0M143 88l2 0M137 68l2 0M290 76l2 0M199 130l1 0M210 27l3 1M100 218l3 1M194 54l2 1M135 198l3 1M192 141l1 0M220 163l1 0M206 115l2 1M120 17l3 0M284 184l3 1M99 61l3 0M239 76l3 -1M73 39l3 0M299 146l2 0M79 73l2 1M216 160l2 0M12 137l1 0M145 101l1 -1M150 129l1 0M267 73l4 1M18 57l1 0M191 93l3 0M195 229l1 0M228 176l2 0M224 168l3 0M77 91l2 1M190 96l3 0M79 122l3 1M217 62l3 -1M169 195l2 0M192 16l1 0M2 137l3 -1M232 25l3 0M125 92l1 0M84 151l1 -1M124 85l3 0M216 27l3 0M74 145l1 -1M286 91l3 0M285 178l3 1M161 191l3 0M263 166l1 0M18 49l3 0M246 18l2 0M219 29l2 0M220 31l3 -1M86 112l1 0M159 14l3 0M285 177l3 -1M44 71l1 0M299 221l2 0M33 127l1 0M18 142l3 1M80 214l1 -1M162 35l2 0M63 83l3 -1M107 150l3 -2M226 22l2 1M283 223l2 0M288 26l1 0M148 225l2 0M227 181l2 0M197 184l1 0M37 111l2 0M296 89l1 0M24 83l1 0M302 86l3 1M54 96l2 0M165 164l2 -1M107 37l1 0M135 14l2 1M95 189l2 -1M277 107l1 0M99 208l1 0M252 154l2 0M180 75l1 1M214 65l3 1M2 47l1 0M22 79l2 0M188 193l3 1M25 195l2 0M162 112l3 -1M259 12l1 0M153 58l1 0M145 62l3 0M258 115l2 0M295 45l3 0M104 88l1 -1M189 34l3 -1M50 194l3 0M66 49l3 1M12 192l3 -1M36 144l3 -1M104 69l2 0M113 123l3 -1M118 177l1 0M234 30l2 -1M240 151l3 -1M64 176l1 1M238 118l1 0M79 114l1 0M148 93l3 -1M124 43l2 0M184 71l1 0M155 36l3 -2M166 174l1 0M102 39l2 -2M60 19l3 0M24 166l2 0M232 104l2 0M290 156l1 0M247 22l3 -1M53 198l1 0M166 214l3 -1M163 145l2 1M135 134l1 0M243 192l1 0M43 50l2 1M245 77l2 -1M210 145l2 0M214 137l1 1M209 188l1 0M111 214l2 0M39 106l1 1M276 100l2 1M132 85l2 1M107 154l2 0M245 83l1 0M42 228l1 0M58 211l2 1M261 23l2 -1M134 162l2 1M78 173l3 0M4 209l2 -1M74 209l3 0M134 46l2 0M4 19l3 -2M93 167l3 0M82 105l1 0M172 27l1 -1M301 66l3 -1M308 183l2 -1M213 19l3 0M165 156l2 0M57 181l2 1M306 112l2 -1M284 120l2 0M147 143l1 0M213 106l3 -1M193 80l2 0M217 135l2 0M16 51l3 1M79 161l1 0M116 84l3 1M212 97l2 0M307 195l3 -1M132 76l3 0M190 201l3 0M59 169l1 0M252 80l2 0M272 55l2 0M270 125l2 0M61 49l3 0M19 132l2 0M185 173l2 -2M16 72l2 2M7 167l2 0M257 97l1 0M33 8l2 0M211 30l2 0M183 186l2 -1M57 69l2 -2M93 139l2 0M153 102l3 1M40 198l3 1M274 110l3 0M253 123l2 -1M6 44l3 1M22 73l3 0M286 94l2 2M207 64l2 0M38 95l2 0M115 164l2 0M20 19l2 0M112 106l3 0M78 206l3 1M259 199l2 0M289 186l2 0M165 75l1 0M140 132l2 -1M266 226l1 0M53 170l2 0M67 212l1 0M267 72l3 2M186 173l2 0M180 19l1 0M51 26l3 -1M67 31l3 0M270 65l2 0M95 153l2 0M191 112l2 -1M115 177l2 -1M58 18l3 0M210 58l2 1M279 93l1 0M17 218l3 0M91 217l3 0M164 217l3 1M187 43l3 0M98 113l1 0M184 227l1 1M140 202l2 0M89 31l2 2M133 179l2 1M256 131l3 -1M203 137l1 0M13 205l2 0M149 42l3 -1M306 224l3 0M97 190l1 0M236 64l2 2M48 16l1 0M140 135l3 -1M160 186l2 1M130 77l1 0M147 131l1 0M115 66l1 -1M294 46l2 0M15 103l1 -1M181 195l3 2M98 82l1 1M241 190l3 0M232 80l2 -2M261 120l3 0M296 47l1 0M149 100l2 -2M73 113l1 0" stroke="#35304e" stroke-opacity="0.8" stroke-width="2.40" stroke-linecap="round" fill="none"/><path d="M44 191l1 0M135 156l4 -1M102 83l3 0M13 224l2 0M223 108l2 1M49 206l3 0M187 10l3 1M106 200l2 0M159 44l3 -2M236 90l1 0M73 120l3 0M250 191l2 0M202 75l1 0M273 223l4 1M160 50l2 0M112 66l1 -1M286 136l3 1M212 133l3 1M49 218l1 0M55 20l2 1M140 162l2 0M13 80l4 -1M285 105l3 2M141 38l2 0M25 109l2 1M87 208l4 1M71 82l3 0M100 10l3 0M73 129l1 -1M214 118l2 -1M155 202l4 0M16 42l3 1M41 182l3 -1M162 138l1 0M132 143l3 0M249 207l3 -1M190 96l1 0M222 90l4 1M116 84l3 0M247 180l1 0M21 56l2 -2M3 157l1 1M101 56l2 0M166 193l3 1M286 7l3 0M288 52l2 1M166 103l3 -1M98 14l3 0M204 207l3 -1M202 126l4 0M185 27l1 0M118 62l2 1M196 41l1 0M191 90l3 0M288 205l2 0M117 9l2 -1M218 45l2 -1M308 177l1 0M279 3l2 0M135 224l1 0M154 96l2 -1M127 32l2 0M307 230l2 0M48 100l4 -1M152 38l2 0M122 131l3 1M188 120l3 -1M132 133l2 0M183 151l1 -1M26 99l2 -1M275 74l1 0M166 13l2 0M29 131l4 2M169 138l2 1M130 184l3 1M246 17l4 -1M117 194l2 0M25 90l2 0M281 81l1 0M71 158l4 0M145 13l3 -1M188 30l2 0M41 206l2 0M11 202l1 0M158 116l4 -1M123 181l4 1M208 111l3 -1M227 96l4 0M212 100l3 0M50 199l4 0M61 112l3 -1M239 26l2 0M141 105l4 1M65 78l1 0M247 86l3 2M13 204l2 0M150 26l3 1M197 58l3 2M101 87l2 1M265 147l3 -2M94 28l2 1M134 154l4 -1M157 36l3 0M227 98l3 -1M306 68l4 -2M20 140l3 -3M131 43l3 1M160 13l3 -1M223 103l2 0M5 18l4 -1M119 111l2 0M141 70l3 0M224 136l1 0M82 181l3 0M42 57l1 0M285 33l3 0M99 63l1 -1M241 64l2 0M121 113l3 -2M112 155l4 -1M222 102l4 0M225 160l3 0M23 33l2 0M15 50l3 0M150 140l3 1M158 39l3 0M28 143l3 1M34 199l2 -1M291 107l3 0M89 186l3 0M132 23l3 0M149 198l2 -1M52 56l2 0M283 80l4 -1M29 15l2 0M62 89l2 0M119 154l1 1M69 3l3 1M227 170l4 -1M162 193l1 0M110 1l3 0M107 19l3 1M64 105l1 0M202 192l2 -1M192 19l4 -1M150 66l3 0M14 200l4 -2M248 68l3 0M255 64l2 -1M148 188l2 1M257 191l4 0M33 157l2 1M100 215l4 -2M105 18l4 -1M65 78l2 0M41 127l1 1M224 137l2 0M162 172l4 2M27 56l2 -1M128 108l2 0M157 104l3 0M263 6l3 1M296 133l2 0M226 56l3 1M32 123l2 0M302 188l2 0M130 159l3 0M88 27l2 -2M45 173l2 0M280 5l4 0M74 204l3 0M136 50l1 1M259 177l1 0M252 172l1 0M60 29l2 0M170 173l4 0M186 170l2 1M85 4l2 0M74 66l3 -1M238 220l4 1M130 151l1 0M52 150l4 0M7 53l3 1M127 20l1 0M100 35l3 0M53 215l1 1M148 212l3 1M296 132l2 0M126 2l3 2M64 226l2 0M84 80l4 -1M68 175l3 1M4 183l3 -2M279 59l4 0M215 108l2 0M99 30l2 -1M178 39l2 0M307 65l3 0M124 174l1 -1M175 31l4 1M98 147l2 0M118 15l4 -2M56 183l1 1M250 54l4 2M148 98l2 0M100 52l3 0M156 41l3 0M57 72l4 -1M194 186l2 0M214 15l4 -2M82 224l2 -1M209 167l2 -1M130 86l2 0M131 153l2 0M97 216l2 0M276 60l1 0M132 205l3 -1M40 9l1 -1M192 208l4 -1M269 94l2 0M185 221l2 0M196 55l3 1M142 48l3 0M269 192l2 0M175 185l2 1M254 140l4 1M243 83l2 0M146 96l2 -1M268 228l1 0M305 214l3 2M208 178l3 -1M160 181l3 0M139 202l2 -1M123 144l3 1M223 173l3 -1M262 228l2 0M110 87l3 1M136 143l3 0M274 125l1 0M79 32l2 1M50 192l2 2M31 229l2 1M134 195l1 1M161 24l2 -1M266 187l4 0M219 9l2 0M99 4l4 1M256 150l3 -1M83 212l1 0M254 9l1 0M255 224l1 0M121 110l1 0M294 93l4 -2M294 23l3 -1M198 215l3 0M38 33l2 0M49 126l4 1M14 37l4 1M67 214l4 1M125 164l3 0M27 40l3 0M7 151l2 1M309 144l2 0M266 5l2 -1M123 199l2 2M49 85l1 1M184 117l4 0M23 111l2 1M115 55l2 0M232 95l2 0M252 223l4 -1M42 59l2 0M228 176l3 0M54 14l2 1M96 46l4 0M138 2l1 0M292 225l2 3M294 8l3 1M306 6l1 0M71 210l3 -2M209 218l3 2M143 108l2 0M91 208l4 0M151 97l1 0M32 172l2 1M93 111l3 1M172 223l4 0M301 174l3 1M84 36l4 1M23 185l1 -1M99 64l4 1M119 136l2 1M52 157l2 0M262 132l1 -1M186 183l4 -1M78 220l1 0M120 203l3 0M16 62l4 0M164 83l3 1M145 20l4 1M210 26l2 0M62 99l4 1M2 4l4 2M52 117l1 0M235 99l3 0M256 130l1 -1M118 61l3 1M3 128l4 0M167 138l3 1M215 160l4 0M71 113l1 0M26 73l1 0M139 101l2 1M201 16l3 1M33 167l1 0M230 156l2 0M224 149l4 -1M169 203l4 0M266 124l4 0M297 130l2 0M274 66l3 -1M269 125l3 0M232 77l3 -1M114 54l1 0M6 199l4 0M126 19l2 -2M121 168l3 1M142 212l4 -2M283 184l2 -1M173 137l2 0M122 54l3 0M144 140l1 0M215 129l3 -2M301 136l3 -1M71 13l3 0M309 59l4 0M219 109l4 0M78 24l3 1M218 83l2 0M276 73l1 1M72 5l3 1M194 3l3 0M280 222l3 0M43 179l4 -1M34 155l4 0M98 148l2 0M54 51l3 0M38 113l3 -1M106 222l4 0M267 167l3 0M110 214l1 0M138 185l4 0M53 210l4 -2M155 28l4 0M245 173l1 0M44 101l3 0M285 57l2 0M148 50l2 0M137 28l4 -1M246 106l2 0M71 200l1 0M301 185l2 1M207 6l2 0M268 70l4 0M180 50l2 1M286 75l3 -1M83 74l2 0M130 193l3 2M101 170l4 0M154 74l3 1M56 8l1 1M218 93l4 0M39 43l1 0M306 168l2 1M281 91l4 1M290 81l3 0M174 65l2 0M293 133l4 0M303 174l2 -1M64 87l4 0M56 205l4 1M60 111l1 0M43 89l1 0M39 114l1 0M134 120l4 1M105 134l3 1M178 155l3 1M123 160l4 0M40 105l1 0M58 19l3 0M189 100l3 0M102 173l2 1M27 215l1 0M75 118l3 0M99 184l2 0M191 17l1 0M134 71l2 1M135 35l2 0M126 114l3 0M189 20l2 1M67 200l4 0M98 195l2 1M22 108l2 0M46 190l2 0M53 150l1 0M203 213l3 1M110 213l1 1M234 56l2 0M280 14l4 0M156 108l3 1M113 52l1 1M204 128l1 0M52 12l2 0M176 125l3 0M75 228l3 -1M277 60l2 0M239 25l1 0M293 226l1 0M271 106l3 -1M308 224l4 -1M218 13l2 0M187 53l2 0M8 191l2 -1M62 55l3 0M11 191l4 -1M124 86l4 2M37 52l2 0M157 133l3 1M121 226l1 0M167 6l3 0M128 176l3 -1M222 8l2 2M16 108l3 0M258 221l4 2M185 63l2 0M213 154l4 0M237 142l2 0M148 196l2 0M117 34l3 -1M279 121l2 0M32 204l4 0M96 195l3 0M100 13l2 0M267 27l4 0M105 133l4 0M2 76l4 1M219 164l2 0M31 136l2 -1M135 129l1 0M271 113l1 0M66 215l2 -1M220 157l3 1M196 150l3 -2M303 18l1 1M122 173l2 0M1 147l4 0M183 75l4 0M240 50l3 -1M231 171l4 -2M149 154l3 1M207 156l1 0M309 54l4 -1M214 134l1 0M232 191l2 0M136 43l1 0M302 6l2 0M117 42l3 1M295 15l3 1M43 74l3 -1M240 44l1 0M240 54l1 0M270 82l3 -1M93 89l2 -1M176 117l4 0M16 130l2 0M275 212l2 0M88 198l2 -1M192 44l2 1M78 124l2 -1M209 32l1 0M238 214l1 0M1 5l2 0M63 183l1 0M21 198l2 -1M281 179l1 0M201 210l2 0M85 4l1 0M266 127l2 0M2 86l3 0M151 90l2 0M255 102l4 0M97 146l3 0M81 75l1 0M210 86l4 0M4 173l2 1M126 208l4 -1M153 181l3 0M185 149l4 0M289 205l1 0M5 110l3 -1M71 82l2 0M175 116l2 0M277 109l4 0M308 20l4 0M78 132l3 1M156 153l2 -2M168 195l2 0M257 212l3 0M286 29l3 -2M298 141l2 0M143 119l2 1M299 65l2 0M48 157l4 -1M146 20l3 0M18 130l3 -2M123 47l3 0M244 181l2 -1M222 182l4 1M202 93l2 0M101 12l3 1M33 176l3 1M260 17l3 0M180 128l4 0M54 92l3 -1M207 68l3 1M255 192l4 1M156 178l3 0M193 57l4 -1M235 22l3 -1M42 231l3 0M299 200l3 0M48 124l3 -1M256 102l2 0M235 208l4 -2M231 229l4 -1M123 51l4 1M27 211l3 0" stroke="#5a3ec0" stroke-opacity="0.85" stroke-width="3.40" stroke-linecap="round" fill="none"/></g></g><rect x="352.55" y="600.35" width="157.50" height="118.30" fill="none" stroke="#000" stroke-width="2.3"/><text x="436.00" y="594.00" font-family="Liberation Serif" font-size="11.7" text-anchor="middle" fill="#222" >Exo-CM</text><rect x="527.60" y="601.50" width="155.90" height="116.00" fill="#e8f4f2"/><g transform="translate(527.60,601.50)" clip-path="url(#c23)"><clipPath id="c23"><rect width="155.90" height="116.00"/></clipPath><g transform="scale(.5)"><path d="M33 182l1 -1M170 213l1 0M251 220l-1 -2M253 59l1 0M107 207l0 -2M241 129l0 -1M174 194l0 -1M93 209l-1 -2M138 199l1 0M306 147l1 -1M102 31l0 -1M295 155l2 1M110 135l1 0M185 216l1 -1M187 191l2 0M112 48l2 0M31 57l1 0M77 9l2 0M117 170l2 0M309 136l0 -1M300 201l1 0M181 8l0 -1M263 163l1 -2M124 133l1 0M281 171l0 -1M59 186l1 -1M143 149l1 -1M78 77l0 -1M244 138l0 -1M194 5l2 -1M121 211l0 -1M195 18l2 -1M204 195l2 1M19 3l1 -1M114 226l2 0M169 77l2 0M141 10l2 0M73 5l0 0M45 206l2 1M47 73l-1 -2M253 36l2 -2M159 126l1 -1M296 4l1 -1M281 177l1 -1M232 109l1 -1M254 68l1 -1M145 125l2 -2M104 162l1 -1M251 18l-1 -1M94 229l1 -1M56 53l2 1M130 87l1 -2M183 71l0 0M158 12l2 0M213 21l0 -1M149 4l1 0M130 86l1 -1M225 20l1 -1M84 29l1 -1M83 43l1 -1M137 174l2 0M98 103l2 0M141 160l1 0M273 211l1 -1M219 33l1 0M68 82l0 -1M190 191l2 -1M254 2l1 0M221 134l0 -1M69 136l1 -2M237 79l-1 -1M275 115l0 -2M43 24l1 0M93 39l-1 -1M73 200l1 0M273 175l1 -1M210 176l1 0M275 86l1 -1M76 113l1 -2M225 68l0 -1M215 86l1 0M65 101l1 1M194 13l2 0M141 188l2 -1M33 112l1 -1M263 164l1 -1M263 12l1 -2M309 57l2 -1M141 115l0 -1M288 172l1 -1M173 206l2 -1M88 7l1 0M249 60l1 0M15 116l1 2M173 6l-1 0M253 167l-1 0M99 18l1 0M195 97l0 -1M29 163l0 0M307 213l0 0M52 91l0 0M52 142l2 0M289 34l1 1M82 122l1 0M294 137l1 -1M31 61l2 -1M175 200l0 -1M275 78l0 -2M247 63l1 0M102 118l1 -2M112 186l2 0M270 225l2 -1M183 200l0 2M303 113l1 0M121 12l1 -2M242 50l2 0M91 33l0 -1M15 63l1 -1M44 66l0 -1M296 88l1 -1M213 41l1 2M158 97l-2 -1M21 159l2 0M284 191l1 0M82 122l1 0M123 80l1 -2M245 50l1 0M211 34l1 -1M125 3l2 0M207 159l1 0M217 140l0 -1M272 38l-1 -1M120 188l1 -1M28 204l-2 -1M83 88l1 -2M182 164l2 0M289 133l1 0M20 196l1 -1M21 184l1 1M144 215l0 -1M295 67l2 -1M169 178l0 -2M113 38l1 0M10 123l2 -2M135 116l0 -1M158 143l2 0M237 62l0 0M100 25l1 -1M268 70l2 0M111 203l1 0M265 53l0 -2M283 55l1 0M2 100l2 -2M192 57l1 -1M178 98l1 0M66 221l2 0M77 28l1 0M152 65l2 0M65 56l1 0M266 99l-1 -2M73 135l0 0M233 46l2 0M157 213l1 -1M177 122l1 -1M95 92l2 -1M95 104l-1 -1M182 60l2 1M83 144l1 0M40 176l1 -1M36 35l2 0M57 98l1 0M302 14l-2 0M112 22l1 -1M126 160l1 0M95 85l0 -2M3 76l0 -1M1 11l-2 -1M125 58l1 -2M265 42l1 0M220 140l1 0M19 156l0 0M12 229l2 -1M238 130l2 0M149 215l1 -1M213 165l1 -1M230 213l0 -1M198 158l-1 -1M89 65l0 -1M24 24l1 -1M19 143l2 0M221 189l1 0M298 108l1 -1M191 85l0 -1M146 121l0 -1M249 23l2 0M241 162l0 -1M206 135l0 0M228 149l1 0M155 165l1 0M11 134l1 1M44 151l1 0M310 61l0 -1M248 106l1 -1M248 36l0 -1M181 217l1 -1M169 192l1 -1M106 58l2 0M280 64l1 -1M73 209l-1 0M239 194l1 1M64 93l1 0M41 110l2 -1M52 146l1 -1M264 149l2 -1M121 154l1 -1M119 210l2 1M37 185l1 -1M241 156l2 0M75 196l2 -1M49 118l1 0M30 27l0 -2M174 119l1 -1M26 159l0 0M9 22l1 -1M109 150l1 0M68 19l0 0M59 184l2 0M97 86l2 0M60 225l1 0M122 183l0 -1M303 26l1 0M154 21l2 1M265 123l1 -1M225 75l2 -2M283 67l2 -1M299 28l2 0M206 228l0 0M16 216l2 -1M242 21l1 -1M22 194l0 -1M194 195l2 0M148 161l2 0M184 74l1 0M234 217l0 -2M45 71l1 -1M229 90l0 0M168 166l1 1M67 17l1 -2M39 155l2 0M159 41l2 -1M67 18l2 1M293 16l0 0M303 138l0 -2M120 132l0 -1M280 111l1 -1M6 23l-1 -2M102 72l1 0M48 29l0 -1M90 23l1 -1M34 196l1 2M73 224l1 0M45 222l0 0M249 179l1 -1M7 155l2 -1M12 76l0 0M175 38l1 0M147 158l-1 -2M67 58l1 -1M73 28l2 0M306 56l1 -1M167 86l1 0M267 138l0 -2M75 153l1 0M139 180l2 -1M91 13l1 0M71 137l1 -1M279 191l0 -2M206 17l1 0M175 121l1 -2M220 193l0 0M37 74l0 -1M272 185l1 -1M15 54l1 0M184 124l-1 -1M213 16l1 -1M200 77l1 0M28 126l1 1M278 221l-1 -1M214 41l2 0M295 88l-1 -2M14 90l2 0M41 193l1 -2M83 43l0 -1M199 155l-1 -1M161 9l2 -2M223 70l1 -1M171 181l2 0M168 64l1 1M131 196l2 0M138 226l2 -1M232 11l1 -2M13 71l0 -1M273 31l0 -2M144 179l1 -1M58 49l0 0M121 33l1 -1M106 95l0 -1M58 83l1 1M122 157l1 1M286 97l1 -2M227 208l-1 -1M215 74l1 -1M269 28l1 -1M101 197l1 -2M79 126l2 0M236 71l1 -1M182 84l1 -1M146 105l0 -1M114 180l0 -1M284 40l2 0M119 181l1 -1M286 34l1 0M71 3l0 -1M89 195l1 0M40 192l0 -2M32 155l1 -2M50 80l2 -1M173 229l1 0M178 45l2 -1M287 25l1 -1M131 230l1 -1M21 133l0 -1M201 45l1 0M252 110l1 0M72 177l1 -1M2 199l0 -1M166 129l0 -2M3 190l1 0M144 170l1 0M273 205l1 0M19 195l1 -1M153 107l1 -1M33 117l1 -1M212 216l0 -1M306 209l0 0M10 205l2 -1M93 105l0 -2" stroke="#8a86aa" stroke-opacity="0.5" stroke-width="2.00" stroke-linecap="round" fill="none"/><path d="M41 45l2 -1M8 20l2 -2M18 182l0 -3M303 84l1 -2M27 110l1 -2M200 42l3 -2M31 9l3 -1M103 86l1 -3M130 5l3 -2M118 45l1 1M259 148l2 0M175 126l-1 -2M63 158l2 1M150 160l2 0M210 140l1 -1M94 223l2 -1M261 21l3 -1M91 18l1 1M146 165l0 -3M133 73l1 -3M203 173l3 -1M306 228l2 -2M123 168l1 -1M127 14l1 -3M77 73l1 -1M256 134l0 -3M286 228l1 0M231 164l1 1M188 15l2 -1M148 34l2 -1M234 141l2 0M89 114l1 -1M300 5l3 0M197 119l-3 -2M202 203l2 2M55 50l1 0M237 132l3 1M266 19l2 -1M304 142l0 -3M230 35l2 -2M289 62l2 -2M105 21l0 -3M7 199l1 -1M195 224l-2 -3M45 69l0 -3M194 219l0 -2M151 81l2 -1M264 64l1 0M276 57l2 -2M80 215l3 -1M228 173l2 -2M183 197l1 -1M19 27l2 -3M111 23l2 -2M229 144l0 -3M233 65l2 -2M227 212l1 0M60 9l0 -1M92 47l1 1M284 10l3 0M230 6l2 -1M196 19l3 -1M266 123l3 -1M208 2l3 -2M291 60l3 -2M227 6l1 -1M143 213l3 0M236 199l1 -1M177 106l1 -1M52 8l2 -1M61 122l3 1M98 113l3 0M135 133l0 -1M237 161l2 0M251 163l1 1M184 84l1 -1M36 55l3 0M113 224l0 -3M213 82l2 -2M65 134l2 0M246 194l1 -1M117 102l0 -1M164 103l0 -3M156 93l2 0M17 11l2 -1M63 54l-1 -1M194 95l2 0M74 153l2 -2M265 75l3 -1M203 177l2 0M238 9l2 -1M115 145l0 -2M117 229l1 -2M151 140l0 -3M216 175l1 -2M124 170l3 -2M140 102l2 -1M16 55l2 -1M179 13l2 2M20 30l1 -2M252 198l1 -3M235 74l0 -1M194 188l2 0M51 90l-1 -3M46 87l1 -1M148 106l0 -2M138 215l1 -1M223 27l1 0M187 37l2 -3M105 153l3 0M239 34l1 -1M254 41l3 -1M269 59l-1 -3M154 205l1 -3M46 192l0 -1M168 18l2 -3M53 132l1 0M12 175l2 0M85 111l1 -2M196 82l-1 -1M241 153l3 -2M220 115l1 1M40 78l2 -3M224 175l0 -2M223 138l1 -2M302 93l-1 -3M204 221l0 -2M29 186l1 -3M277 200l0 -2M20 130l2 -1M239 190l-2 0M302 197l2 2M124 96l-1 -3M231 193l0 -1M310 94l1 -2M189 41l0 -1M287 53l1 -3M95 52l2 0M44 62l3 -2M78 119l2 -2M207 56l0 -2M130 17l2 -3M307 117l2 -1M52 191l2 -2M262 58l-2 -3M241 79l2 -1M164 109l2 -1M27 120l0 -1M211 28l1 -2M20 183l1 -1M52 139l-1 -1M157 105l1 0M89 64l1 -2M162 124l2 -3M41 118l1 -1M219 62l2 1M309 206l1 1M14 104l-1 -2M258 85l1 -1M267 47l0 -1M111 13l0 -3M261 56l0 -2M271 106l1 -1M149 82l2 -2M285 111l2 0M275 225l0 -3M258 94l3 -1M169 229l0 -2M25 62l2 -1M133 13l-3 -1M267 15l2 0M103 141l-3 -1M51 118l3 0M134 191l1 -1M54 195l2 -2M136 83l3 -2M276 160l1 -1M173 77l-1 -2M204 202l3 1M36 162l2 -1M246 119l1 1M186 6l2 0M206 86l0 -2M174 163l1 0M105 143l-1 -2M245 152l2 -1M219 153l1 -1M301 157l2 -1M163 9l1 0M5 56l0 -1M127 153l2 -1M7 40l3 -2M228 186l3 -1M133 158l0 -1M295 156l0 -2M29 194l1 -1M216 95l2 0M171 40l2 -1M220 77l2 -2M87 172l2 -1M127 205l3 0M209 153l3 -1M256 213l2 -1M14 8l2 -1M301 164l1 -1M23 153l1 -2M191 22l0 -2M202 22l3 -2M228 17l0 -1M249 131l2 -2M62 230l3 -2M246 170l2 -1M176 197l1 -3M44 58l2 -1M35 41l3 0M46 125l2 -1M19 228l1 -1M122 182l3 -1M192 8l2 -1M24 14l1 -1M299 182l2 -2M5 158l3 -2M109 58l3 -1M197 75l1 -1M27 225l2 1M20 14l0 2M305 115l3 -2M127 173l3 -1M27 201l0 -2M39 201l0 -1M157 64l1 0M295 205l0 -4M202 180l3 -2M223 157l2 -1M27 167l1 -3M47 228l2 0M168 215l2 0M247 147l1 -3M46 39l1 -3M178 7l0 -1M262 188l0 -2M108 179l1 -2M63 224l2 -1M47 36l2 -1M68 25l1 0M284 153l0 -1M27 3l2 -2M177 71l3 -1M55 6l2 -3M222 58l2 3M33 225l3 2M192 87l0 -2M174 116l2 -2M122 58l2 1M19 161l1 -2M131 147l2 2M263 220l2 -1M232 101l1 -1M251 44l3 -1M243 114l2 0M301 50l1 0M22 22l0 -2M96 16l0 -2M293 185l3 -1M224 51l1 -2M158 196l1 -1M257 62l2 -1M288 176l1 -1M51 151l2 -1M140 48l0 -2M28 120l0 -2M203 149l2 -1M26 15l1 -1M153 57l1 1M135 18l1 2M292 173l2 3M195 214l1 -1M301 43l2 -1M192 12l2 2M8 169l1 -3M252 109l2 1M234 110l2 -2M210 135l1 -1M303 117l1 0M295 10l2 0M155 200l3 1M99 192l1 -1M213 20l0 -1M93 159l1 -1M130 62l3 -1M117 13l2 0M81 96l2 -2M95 106l3 -2M88 230l0 1M302 144l3 1M51 117l3 1M19 68l3 -1M258 192l2 -2M117 127l1 -3M81 169l1 -1M130 162l0 -2M94 13l2 2M35 78l3 -1M158 185l2 -1M140 59l1 -1M127 154l1 0M129 199l2 -1M252 219l0 -1M75 28l1 0M219 98l1 1M29 9l0 -3M300 215l1 0M57 168l2 -2M272 79l3 0M268 218l1 -2M205 55l2 -2M6 182l0 -3M295 42l1 -1M274 149l0 -2M212 22l0 -3M111 79l1 0M301 98l3 -1M201 88l2 3M101 196l1 -1M130 107l1 0M183 164l-1 -3M113 24l3 0M128 209l3 -1M215 153l1 -1M102 183l3 -1M297 53l0 -3M113 210l1 -1M287 172l1 -1M141 194l0 -4M4 170l1 -2M51 16l1 -2M195 46l1 0M7 184l1 -1M227 114l1 -2M97 214l2 -3M80 205l1 1M98 142l3 -1M165 179l3 0M135 129l2 -2M260 120l2 -3M115 82l2 -1M31 160l1 0M89 63l3 -2M170 121l3 -1M249 6l0 -2M19 177l1 -3M195 36l2 -1M242 35l0 1M195 157l1 -2M274 67l1 -1M151 13l0 -3M47 16l1 0M207 57l3 -2M243 112l2 -2M125 205l2 1M45 94l1 -2M87 226l3 0M169 138l3 1M138 223l1 -1M105 104l2 -2M70 7l-1 -1M153 100l2 -1M252 106l1 -1M277 119l2 0M144 32l2 -2M285 139l3 -1M290 38l2 -1M206 24l3 0M295 158l2 -1M299 105l1 -1M238 48l0 -3M195 83l2 -3M50 174l1 -1M269 175l3 -2M6 167l1 -2M302 213l1 0M69 79l3 0M50 115l2 0M78 136l1 3M97 34l0 -3M64 136l1 -1M283 101l1 -2M121 88l-1 -2M52 56l-3 -2M299 41l1 2M228 103l3 0M299 107l1 -1M130 228l1 0M22 177l3 -2M75 51l2 -1M186 20l1 -2M181 105l1 -2M153 145l2 0M120 64l0 -2M217 153l3 1M201 210l-1 -3M236 163l1 2M10 19l0 -2M255 92l-1 -1M4 21l2 0M257 122l2 -2M148 87l-1 -3M53 175l2 0M122 93l1 -1M210 157l3 -1M79 148l1 -3M92 150l1 -1M25 116l1 -2M160 194l1 1M202 163l2 -1M162 99l-1 -2M278 151l1 1M302 43l1 1M306 216l1 -1M202 214l3 -1M177 19l0 -2M180 32l-1 -1M184 206l-1 -1M117 215l3 -1M112 4l1 -1M160 12l0 -1M147 34l1 1M219 44l2 -2M187 122l0 -3M91 230l1 -2M74 224l3 1M56 148l2 -1M101 136l1 -3M266 230l2 2M136 189l3 0M87 61l-1 -2M291 165l1 -2M277 216l1 -2M140 192l1 -1M265 132l1 -1M62 93l3 0M200 60l2 -1M25 38l2 1M47 142l1 -1M194 59l2 -3M163 127l3 0M292 41l-1 -4M126 110l2 -1M134 107l2 1M5 112l2 -1M163 145l0 -2M169 220l2 -3M35 207l0 -2M188 33l0 -1M137 120l2 0M104 119l-1 -2M160 95l1 0M276 182l2 -1M281 73l1 -1M240 118l1 0M43 210l3 -1M154 26l1 -3M146 203l1 -1M236 152l1 0M112 101l1 -2M230 15l1 -1M13 62l0 -1M186 42l0 -1M11 36l0 -1M204 143l-1 -3M40 56l1 -2M208 211l0 -1M113 40l3 1M195 62l1 -2M282 112l1 -2M35 189l0 -1M291 209l1 0M53 188l1 -2M47 188l2 -1M111 177l0 -4M287 26l1 -2M274 217l2 -1M104 183l3 0M107 41l2 -2M253 102l3 1M208 231l3 0M119 87l3 1M245 119l1 -1M160 83l4 0M193 215l3 0M211 157l2 -1M193 215l1 -1M200 91l1 0M34 46l-1 -2M68 217l0 -1M273 189l3 -1M133 188l2 -2M291 59l1 0M41 188l1 -1M254 165l0 -3M285 214l2 -1M265 36l1 0M211 94l2 -2M20 212l-1 -2M3 155l0 -1M157 116l2 0M58 100l1 -1M81 69l1 0M143 29l1 -2M238 8l3 -2M171 161l0 -4M213 49l3 -1M4 12l1 0M289 194l3 -2M195 210l1 -1M33 78l1 -1M182 201l3 -1M215 110l0 3M283 224l0 -4M10 93l0 -1M169 128l2 -3M233 135l-1 -3M240 143l2 1M67 221l2 -1M297 102l0 -3M244 92l1 0M7 63l1 -1M38 166l3 -1M34 95l2 -3M61 164l-1 -4M97 112l2 -3M77 190l0 -1M239 134l3 1M294 119l3 -1M146 30l2 2M252 73l3 1M128 85l-1 -2M188 102l1 0M152 85l1 0M108 150l1 0M240 94l2 -1M250 180l1 -1M74 204l1 -1M180 91l1 -1M199 151l3 -1M168 209l1 -3M272 81l0 -1M275 3l1 -1M227 128l-1 -3M60 163l0 2M304 171l3 1M87 215l0 -1M150 33l1 -3M153 8l1 -1M245 33l3 -1M233 112l1 0M180 143l2 0M222 55l2 2M205 150l2 -2M231 57l2 -2M304 12l1 1M7 92l0 -3M134 168l1 -1M270 158l3 0M121 46l1 -1M200 72l0 -2M47 211l3 0M291 203l-1 -2M70 125l2 -2M94 37l0 1M155 99l2 0M219 15l1 0M125 116l0 -2M217 173l2 -1M69 222l-1 -3M221 114l2 -1M273 216l-2 -2M50 41l1 -3M185 8l-2 -2M227 42l0 -2M151 16l2 1M202 43l1 2M271 202l0 -1M52 101l0 -2M8 33l0 -1M93 171l1 -2M285 179l1 1M175 41l2 -2M300 147l1 0M289 174l0 -2M235 210l2 -2M280 120l2 -2M154 219l-1 -1M3 11l1 0M167 183l-1 -2M104 202l2 2M183 9l1 -1M261 211l2 -1M19 62l0 -2M86 200l-2 -3M109 130l2 0M135 13l1 1M311 121l3 0M13 3l1 -2M177 39l-2 -2M168 31l1 -2M6 179l1 -1M13 61l-1 -3M232 128l1 -1M255 229l3 -1M163 66l2 -2M47 148l-2 -1M62 115l1 -2M113 146l3 0M215 93l0 2M183 20l0 -1M98 75l3 0M177 159l1 -3M125 188l0 1M74 143l1 -2M64 229l2 -1M164 145l1 -1M111 147l1 -1M5 201l1 -1M136 231l1 -1M271 195l2 0M95 104l2 -1M291 39l1 0M173 91l-1 -1M137 92l3 1M171 130l1 -1M247 93l2 0M247 147l3 -2M156 60l0 -1M297 171l2 1M248 185l-1 -2M277 196l3 -1M154 182l-2 -1M62 225l2 -1M150 106l1 0M142 14l2 1M309 203l1 -2M308 17l3 0M129 153l1 -2M167 88l0 -1M171 92l1 0M281 181l-2 -3M74 150l-1 -2M259 219l1 -1M124 7l1 -1M245 61l2 -2M91 145l0 -2M304 204l2 -2M170 11l0 -2M248 140l2 -1M282 61l1 0M274 96l1 3M85 74l0 -1M255 106l1 -2M227 97l1 -2M206 219l0 -2M125 59l0 -3M227 28l1 -2M44 171l-1 -2M28 42l2 -2M219 35l1 -3M162 229l1 -1M253 57l1 -2M6 212l3 1M24 119l1 -1M292 78l1 -2M185 148l2 1M190 2l0 -3M234 137l3 -2M293 213l3 0M305 121l-1 -1M183 11l0 -1M276 158l-2 -2M276 213l2 -1M190 205l0 -2M294 4l1 0M222 124l1 -1M48 89l1 0M76 185l0 -1M51 38l-1 -2M60 87l2 -1M128 19l2 1M66 215l1 -1M164 71l1 -1M151 75l2 -1M207 216l1 1M158 135l1 0M197 17l2 0M206 75l1 0M279 57l1 -1M22 199l-1 -1M181 93l3 1M273 213l2 1M52 136l1 -3M195 142l0 -1M71 204l2 1M264 3l-1 -1M250 120l1 -1M157 203l3 0M88 139l1 0M63 144l3 -1M243 133l0 -2M255 149l0 -2M254 189l0 -3M183 147l0 -3M37 169l1 -1M292 137l2 -1M115 116l2 1M72 161l1 0M259 225l2 -1M163 230l1 2M198 156l1 -2M161 147l0 -1M107 172l1 -1M101 189l3 0M97 7l2 0M261 181l0 -2M276 29l3 0M67 222l1 0M107 181l3 -2M145 161l0 -3M221 222l0 -2M224 168l0 -2M205 13l3 0M156 68l1 -2M34 48l2 -2M125 142l2 1M115 24l1 2M133 52l1 -1M280 125l1 -1M7 22l0 -2M111 132l1 0M102 197l-1 -1M196 167l0 -3M5 13l1 -2M243 213l3 1M263 87l3 -2M10 224l2 -1M249 122l1 -1M236 196l1 2M296 205l3 1M6 117l1 0M285 223l2 -2M226 81l3 -1M187 9l2 2M20 25l2 0M66 48l-3 -2M33 59l1 -2M246 193l2 -3M122 148l2 -1M168 25l2 -1M138 66l3 0M2 150l3 1M265 53l0 -2M299 227l1 1M5 204l2 1M204 109l0 -3M213 5l3 -1M91 170l-1 -3M282 31l1 -3M256 79l3 1M296 222l1 0M122 142l0 -1M246 3l2 -1M213 115l1 -1M181 78l1 0M130 207l2 -3M270 3l3 -2M1 204l1 0M100 91l2 1M204 180l3 0M137 53l3 2M93 47l1 -2M84 126l2 2M212 78l3 -1M141 90l1 -1M160 207l1 -1M28 210l1 0M40 19l1 -2M242 24l2 -2M153 25l1 -1M50 37l2 0M160 221l3 -1M255 100l1 -2M27 99l1 -1M144 60l1 1M109 39l3 -1M193 95l1 -3M59 203l2 0M271 84l0 -3M176 165l0 -1M115 108l1 -1M257 190l1 2M75 112l0 -1M150 113l1 0M71 89l-1 -2M237 104l1 1M55 39l1 0M17 110l2 -2M157 158l1 -2M98 197l1 0M284 127l-2 -2M136 12l-1 -1M206 26l-1 -3M138 17l2 -2M221 157l0 -3M283 53l0 1M200 159l1 -3M120 145l1 -1M122 217l3 -1M235 160l3 -1M127 57l1 0M2 94l1 -2M15 107l1 -2M300 29l1 0M190 29l3 0M305 205l1 -3M54 152l2 0M102 205l1 2M28 126l0 -1M97 190l0 -2M224 204l0 -3M67 109l1 -1M69 122l1 -2M61 9l0 -1M46 39l1 1M111 87l0 -1M45 20l1 0M269 37l1 -1M161 49l2 1M269 187l1 -2M123 69l3 0M46 65l1 -1M5 53l1 -2M74 43l-1 -3M110 95l2 -2M292 85l1 -3M103 136l2 2M140 114l2 0M275 53l-1 -2M172 188l2 1M38 136l3 -1M121 231l1 -3M113 140l1 -1M97 77l2 -1M85 136l1 2M255 36l0 -2M293 144l-1 -3M118 38l0 -2M225 78l1 -3M139 7l2 -1M159 217l3 0M164 95l1 0M34 130l1 -1M174 219l2 -2M109 10l1 0M29 12l3 1M155 205l1 -3M81 66l3 -2M180 53l3 -1M68 136l1 3M233 57l2 -2M139 194l3 2M282 88l2 -3M83 12l0 -3M189 29l2 -1M99 2l1 0M259 160l1 0M280 3l3 0M12 134l1 -2M102 102l2 2M191 224l-1 2M225 187l1 -1M310 156l1 -1M233 117l2 -1M170 9l2 -2M138 183l2 2M85 212l-1 -3M253 188l1 -2M8 48l1 0M119 207l2 1M57 220l3 1M102 15l0 -2M262 202l1 -2M158 88l2 -2M225 227l2 0M29 20l1 0M153 87l2 -1M217 51l2 0M92 230l0 -3M107 229l0 -2M188 128l1 -1M280 196l3 1M76 65l1 -1M6 136l3 -1M132 114l-1 -1M19 179l0 -3M179 105l2 -1M304 199l3 -2M105 147l1 -1M156 212l0 -1M11 4l2 -3M216 57l1 -3M225 197l1 -3M253 23l1 -2M234 212l1 0M35 59l1 -1M24 128l-1 -3M247 227l0 -1M92 204l1 3M167 116l3 0M102 94l1 0M253 204l1 -1M27 43l-1 -2M225 5l0 -3M190 184l1 -1M59 126l1 0M47 132l1 1M214 146l1 -1M227 53l3 0M126 154l0 -2M304 147l3 1M151 47l2 -2M86 86l-1 -2M171 198l1 -2M108 28l2 0M28 56l0 -2M301 135l2 0M263 132l3 -2M248 85l3 -1M239 125l2 3M154 135l0 -1M147 211l2 -2M8 129l0 -1M70 215l-1 -3M191 140l2 -3M37 32l1 0M179 179l0 2M172 27l2 0M263 111l0 -2M42 72l2 -1M198 222l1 -2M194 169l2 -1M22 116l1 -1M65 57l3 1M66 25l-1 -2M127 148l2 -2M197 36l0 -1M1 178l1 -2M73 26l2 -2M259 140l0 -1M273 101l1 -3M58 72l1 -1M234 56l0 -1M122 45l2 0M96 20l2 -1M187 103l1 -1M245 196l3 1M243 226l2 0M201 193l1 -2M82 45l1 -2M205 49l3 0M128 118l1 0M309 49l3 -2M288 179l1 -3M229 37l0 -3M68 9l2 -3M293 77l1 -3M118 107l1 -2M218 98l0 -1M49 82l1 0M86 138l3 -1M301 107l2 -1M214 165l1 -1M245 64l3 -1M219 68l1 -1M100 203l2 3M61 19l1 -3M90 106l3 -2M42 58l0 -1M80 139l3 0M17 181l2 0M158 110l2 1M274 11l1 -2M115 213l0 -2M83 55l3 -1M89 24l1 -3M190 37l0 -1M111 148l0 -2M219 107l0 -1M238 111l0 -2M297 29l-1 -2M192 60l1 -2M278 98l1 -1M40 225l2 -3M111 220l3 0M244 94l0 -3M163 80l1 -3M291 73l1 -2M42 27l1 0M53 189l2 -2M257 176l1 0M271 164l1 0M308 160l1 -3M54 56l2 -1M260 54l0 -2M217 83l-3 -2M59 5l3 -1M257 8l0 -2M93 184l1 -2M306 216l0 -1M44 176l2 -2M23 134l-2 -3M292 54l0 -1M65 216l2 0M15 77l1 1M302 78l1 -1M111 157l2 0M174 156l0 -1M296 41l2 1M160 130l2 1M212 97l3 -1M124 49l1 -2M178 125l1 -2M85 16l2 1M227 105l3 -1M202 121l2 -3M182 177l1 -1M178 6l-1 -1M294 76l1 -1M189 175l2 -2M52 91l0 -3M75 130l1 -3M277 4l0 -1M59 63l1 0M260 112l1 -2M194 230l-2 -1M277 19l2 -2M28 134l1 2M137 99l0 -1M4 145l1 1M87 63l3 -1M48 29l1 2M45 183l-1 -3M76 158l1 0M131 75l2 -2M41 19l1 0M278 41l1 0M55 159l-2 0M191 23l0 -2M266 15l1 -1M31 179l1 0M210 137l3 -1M184 90l3 0M55 94l2 -1M163 7l2 -2M184 29l1 -1M32 149l2 -1M20 50l1 -1M287 172l3 -2M114 91l2 -2M5 41l0 -1M163 53l1 -3M89 25l0 -3M201 135l1 -2M96 51l1 1M253 48l3 -1" stroke="#35304e" stroke-opacity="0.8" stroke-width="2.40" stroke-linecap="round" fill="none"/><path d="M288 220l0 -3M291 221l3 -1M1 88l4 -1M173 59l0 -2M82 198l3 0M57 4l2 -3M262 91l-1 -1M35 192l2 -3M251 185l1 -3M125 79l1 -2M257 126l-2 -2M191 101l1 -1M60 19l1 -1M263 190l-2 -3M70 56l3 2M70 98l3 -1M16 62l3 -2M252 41l2 -3M4 29l3 0M72 27l2 1M247 91l4 -2M46 70l2 1M14 109l2 -2M107 181l2 0M54 15l-1 -2M266 71l1 0M156 9l1 -2M90 31l2 -1M160 125l1 -1M23 173l1 -2M165 17l0 -2M218 180l1 -1M161 115l0 -4M80 109l1 -1M171 162l-2 -4M39 46l-1 -1M20 15l2 -1M68 86l2 -2M121 222l3 -2M180 116l2 1M265 215l2 -1M57 3l0 -1M129 134l1 -2M247 130l2 1M242 76l3 0M188 26l2 -2M80 130l0 2M3 160l1 -2M280 61l1 -1M278 159l2 -1M266 14l2 0M225 202l1 0M209 9l0 1M103 74l4 -1M170 120l0 -2M113 145l0 -2M47 18l-1 -2M61 95l3 -2M56 87l1 -2M241 69l3 -2M293 143l1 -3M38 2l1 -1M43 134l3 -1M181 80l0 -4M191 30l2 2M4 20l0 -1M246 221l-1 -2M303 23l1 -4M278 126l2 0M185 24l2 -2M231 203l0 -4M191 6l0 -3M277 68l2 0M116 47l0 -2M222 102l0 -4M224 76l4 1M202 211l1 -1M210 158l-1 -2M176 118l2 -2M230 140l1 0M175 131l2 1M90 30l2 2M180 6l1 -4M7 137l1 -1M192 69l0 -4M258 227l3 2M300 171l3 -2M220 107l2 -1M242 6l2 -1M251 112l1 -4M31 105l2 -3M101 97l-2 -1M126 106l2 -2M100 95l1 -2M157 34l4 -2M88 125l4 0M69 217l4 -1M169 90l3 -2M240 178l-1 -4M74 88l1 -3M127 47l1 0M29 126l4 -2M285 151l2 -1M183 41l2 0M310 219l2 -3M289 66l1 -1M20 184l0 -2M145 128l1 -2M165 193l2 -3M196 214l4 0M267 146l3 -1M41 73l3 2M247 113l1 -4M161 83l0 1M107 213l4 -1M15 23l1 -1M174 74l-1 -1M62 208l2 -4M135 222l0 -3M108 26l0 -1M243 148l0 -3M32 108l2 0M266 6l2 -1M17 222l1 0M38 198l2 0M269 35l1 -4M222 132l3 -1M215 178l1 -2M278 57l0 -3M293 58l0 -2M88 39l1 1M30 218l3 -3M27 101l0 -1M281 128l1 -1M254 136l-1 -1M145 103l3 -3M145 83l0 -3M145 200l4 -1M87 46l0 -4M160 4l2 1M253 215l1 -2M152 200l1 -4M224 204l1 0M67 13l2 -1M148 11l2 -2M272 198l0 -1M208 188l2 1M263 29l0 -2M60 155l1 -2M184 183l3 2M118 70l1 0M109 90l2 -1M149 172l0 -4M278 174l3 -2M167 227l2 -3M246 131l2 1M90 220l1 -1M192 178l1 -4M236 16l3 0M139 135l0 -3M219 34l2 -1M86 33l4 0M109 99l1 -1M234 176l2 0M96 55l2 -1M31 214l3 3M222 83l2 -2M217 156l3 -1M208 38l4 -1M94 57l0 -1M124 62l1 -4M10 123l1 0M110 128l2 -2M2 114l0 -2M161 120l-3 -3M91 198l1 3M197 48l2 -1M37 59l3 -2M230 208l1 -2M70 22l1 -2M48 193l1 -1M103 229l-2 -3M153 41l3 2M34 130l1 1M31 61l1 1M232 13l3 -1M87 230l3 -2M283 91l2 0M159 64l4 1M14 9l3 -3M4 64l0 -3M150 68l2 1M28 141l3 -1M65 162l3 -2M113 11l3 -1M96 213l3 -1M224 17l3 -1M11 51l3 1M77 221l1 -1M256 88l-1 -4M178 122l2 0M49 216l4 0M218 143l4 -1M308 9l3 -2M186 156l3 -1M51 78l1 -1M68 22l1 -1M282 39l1 -1M47 215l2 -3M153 3l2 -3M301 227l2 -1M140 225l1 -1M58 121l1 -2M221 128l-1 -2M23 204l1 -4M14 225l-1 -1M272 115l3 0M79 134l-1 -4M51 28l2 -2M266 146l2 2M117 215l3 2M28 223l2 -2M305 203l0 -1M13 181l1 -1M306 64l1 -1M163 163l0 -3M33 62l1 -3M252 76l4 -1M233 117l1 -2M196 32l0 -3M251 196l3 3M149 86l1 1M12 47l4 -1M288 68l1 -1M5 149l-1 -3M293 221l2 -1M266 111l1 -1M291 58l0 -2M271 131l0 -1M278 22l2 -2M178 125l1 -4M231 106l0 -2M233 62l3 -1M278 89l2 0M233 224l3 0M308 211l0 -1M59 203l2 -3M272 48l1 1M213 57l0 -2M161 32l2 3M204 136l2 2M225 218l-1 -1M81 202l2 2M190 193l3 -2M88 11l2 0M41 8l2 -3M68 127l0 -2M92 54l2 -3M161 169l1 -3M301 21l2 0M303 62l2 -1M218 9l0 -1M102 12l1 -2M136 203l3 -4" stroke="#5a3ec0" stroke-opacity="0.85" stroke-width="3.40" stroke-linecap="round" fill="none"/></g></g><rect x="526.45" y="600.35" width="158.20" height="118.30" fill="none" stroke="#000" stroke-width="2.3"/><text x="603.20" y="594.00" font-family="Liberation Serif" font-size="11.7" text-anchor="middle" fill="#222" >Exo-CM/Antibody</text><text x="3.90" y="393.00" font-family="Liberation Sans" font-size="14.3" text-anchor="start" fill="#000" >h</text><line x1="31.90" y1="407.3" x2="31.90" y2="545.5" stroke="#000" stroke-width="1.15"/><line x1="28.3" y1="545.50" x2="31.90" y2="545.50" stroke="#000" stroke-width="1.1"/><text x="26.80" y="549.60" font-family="Liberation Serif" font-size="12" text-anchor="end" fill="#222" >0</text><line x1="28.3" y1="518.00" x2="31.90" y2="518.00" stroke="#000" stroke-width="1.1"/><text x="26.80" y="522.10" font-family="Liberation Serif" font-size="12" text-anchor="end" fill="#222" >1</text><line x1="28.3" y1="490.30" x2="31.90" y2="490.30" stroke="#000" stroke-width="1.1"/><text x="26.80" y="494.40" font-family="Liberation Serif" font-size="12" text-anchor="end" fill="#222" >2</text><line x1="28.3" y1="462.60" x2="31.90" y2="462.60" stroke="#000" stroke-width="1.1"/><text x="26.80" y="466.70" font-family="Liberation Serif" font-size="12" text-anchor="end" fill="#222" >3</text><line x1="28.3" y1="434.80" x2="31.90" y2="434.80" stroke="#000" stroke-width="1.1"/><text x="26.80" y="438.90" font-family="Liberation Serif" font-size="12" text-anchor="end" fill="#222" >4</text><line x1="28.3" y1="407.30" x2="31.90" y2="407.30" stroke="#000" stroke-width="1.1"/><text x="26.80" y="411.40" font-family="Liberation Serif" font-size="12" text-anchor="end" fill="#222" >5</text><rect x="35.10" y="429.70" width="9.00" height="88.30" fill="#000"/><text transform="translate(42.90,520.6) rotate(-90)" font-family="Liberation Serif" font-size="9.6" text-anchor="end" fill="#2a2a2a">GM-CSF</text><rect x="50.36" y="434.20" width="9.00" height="83.80" fill="#000"/><text transform="translate(58.16,520.6) rotate(-90)" font-family="Liberation Serif" font-size="9.6" text-anchor="end" fill="#2a2a2a">VEGF</text><rect x="65.62" y="442.80" width="9.00" height="75.20" fill="#000"/><text transform="translate(73.42,520.6) rotate(-90)" font-family="Liberation Serif" font-size="9.6" text-anchor="end" fill="#2a2a2a">G-CSF</text><rect x="80.88" y="445.60" width="9.00" height="72.40" fill="#000"/><text transform="translate(88.68,520.6) rotate(-90)" font-family="Liberation Serif" font-size="9.6" text-anchor="end" fill="#2a2a2a">MCP-1</text><rect x="96.14" y="454.00" width="9.00" height="64.00" fill="#000"/><text transform="translate(103.94,520.6) rotate(-90)" font-family="Liberation Serif" font-size="9.6" text-anchor="end" fill="#2a2a2a">IL-4</text><rect x="111.40" y="473.30" width="9.00" height="44.70" fill="#000"/><text transform="translate(119.20,520.6) rotate(-90)" font-family="Liberation Serif" font-size="9.6" text-anchor="end" fill="#2a2a2a">IL-6</text><rect x="126.66" y="505.40" width="9.00" height="12.60" fill="#000"/><text transform="translate(134.46,520.6) rotate(-90)" font-family="Liberation Serif" font-size="9.6" text-anchor="end" fill="#2a2a2a">INF-&#947;</text><rect x="141.92" y="506.30" width="9.00" height="11.70" fill="#000"/><text transform="translate(149.72,520.6) rotate(-90)" font-family="Liberation Serif" font-size="9.6" text-anchor="end" fill="#2a2a2a">IL-2</text><rect x="157.18" y="513.10" width="9.00" height="4.90" fill="#000"/><text transform="translate(164.98,520.6) rotate(-90)" font-family="Liberation Serif" font-size="9.6" text-anchor="end" fill="#2a2a2a">IL-13</text><rect x="172.44" y="513.10" width="9.00" height="4.90" fill="#000"/><text transform="translate(180.24,520.6) rotate(-90)" font-family="Liberation Serif" font-size="9.6" text-anchor="end" fill="#2a2a2a">Eotaxin</text><rect x="187.70" y="513.30" width="9.00" height="4.70" fill="#000"/><text transform="translate(195.50,520.6) rotate(-90)" font-family="Liberation Serif" font-size="9.6" text-anchor="end" fill="#2a2a2a">PDGF-BB</text><rect x="202.96" y="515.80" width="9.00" height="2.20" fill="#000"/><text transform="translate(210.76,520.6) rotate(-90)" font-family="Liberation Serif" font-size="9.6" text-anchor="end" fill="#2a2a2a">IL-12p70</text><rect x="218.22" y="516.30" width="9.00" height="1.70" fill="#000"/><text transform="translate(226.02,520.6) rotate(-90)" font-family="Liberation Serif" font-size="9.6" text-anchor="end" fill="#2a2a2a">IL-17A</text><rect x="234.08" y="518.00" width="7.80" height="0.80" fill="#fff" stroke="#000" stroke-width="1.2"/><text transform="translate(241.28,514.2) rotate(-90)" font-family="Liberation Serif" font-size="9.6" text-anchor="start" fill="#2a2a2a">IL-9</text><rect x="249.34" y="518.00" width="7.80" height="1.00" fill="#fff" stroke="#000" stroke-width="1.2"/><text transform="translate(256.54,514.2) rotate(-90)" font-family="Liberation Serif" font-size="9.6" text-anchor="start" fill="#2a2a2a">MIP-1&#945;</text><rect x="264.60" y="518.00" width="7.80" height="5.40" fill="#fff" stroke="#000" stroke-width="1.2"/><text transform="translate(271.80,514.2) rotate(-90)" font-family="Liberation Serif" font-size="9.6" text-anchor="start" fill="#2a2a2a">MIP-1&#946;</text><rect x="279.86" y="518.00" width="7.80" height="5.70" fill="#fff" stroke="#000" stroke-width="1.2"/><text transform="translate(287.06,514.2) rotate(-90)" font-family="Liberation Serif" font-size="9.6" text-anchor="start" fill="#2a2a2a">RNATES</text><rect x="295.12" y="518.00" width="7.80" height="7.10" fill="#fff" stroke="#000" stroke-width="1.2"/><text transform="translate(302.32,514.2) rotate(-90)" font-family="Liberation Serif" font-size="9.6" text-anchor="start" fill="#2a2a2a">Basic FGF</text><rect x="310.38" y="518.00" width="7.80" height="7.50" fill="#fff" stroke="#000" stroke-width="1.2"/><text transform="translate(317.58,514.2) rotate(-90)" font-family="Liberation Serif" font-size="9.6" text-anchor="start" fill="#2a2a2a">IL-5</text><rect x="325.64" y="518.00" width="7.80" height="7.80" fill="#fff" stroke="#000" stroke-width="1.2"/><text transform="translate(332.84,514.2) rotate(-90)" font-family="Liberation Serif" font-size="9.6" text-anchor="start" fill="#2a2a2a">IL-15</text><rect x="340.90" y="518.00" width="7.80" height="12.70" fill="#fff" stroke="#000" stroke-width="1.2"/><text transform="translate(348.10,514.2) rotate(-90)" font-family="Liberation Serif" font-size="9.6" text-anchor="start" fill="#2a2a2a">IL-10</text><rect x="356.16" y="518.00" width="7.80" height="15.70" fill="#fff" stroke="#000" stroke-width="1.2"/><text transform="translate(363.36,514.2) rotate(-90)" font-family="Liberation Serif" font-size="9.6" text-anchor="start" fill="#2a2a2a">IP-10</text><rect x="371.42" y="518.00" width="7.80" height="15.70" fill="#fff" stroke="#000" stroke-width="1.2"/><text transform="translate(378.62,514.2) rotate(-90)" font-family="Liberation Serif" font-size="9.6" text-anchor="start" fill="#2a2a2a">IL-1&#946;</text><rect x="386.68" y="518.00" width="7.80" height="15.70" fill="#fff" stroke="#000" stroke-width="1.2"/><text transform="translate(393.88,514.2) rotate(-90)" font-family="Liberation Serif" font-size="9.6" text-anchor="start" fill="#2a2a2a">IL-7</text><rect x="401.94" y="518.00" width="7.80" height="16.60" fill="#fff" stroke="#000" stroke-width="1.2"/><text transform="translate(409.14,514.2) rotate(-90)" font-family="Liberation Serif" font-size="9.6" text-anchor="start" fill="#2a2a2a">IL-1Ra</text><rect x="417.20" y="518.00" width="7.80" height="17.40" fill="#fff" stroke="#000" stroke-width="1.2"/><text transform="translate(424.40,514.2) rotate(-90)" font-family="Liberation Serif" font-size="9.6" text-anchor="start" fill="#2a2a2a">TNF-&#945;</text><rect x="432.46" y="518.00" width="7.80" height="19.70" fill="#fff" stroke="#000" stroke-width="1.2"/><text transform="translate(439.66,514.2) rotate(-90)" font-family="Liberation Serif" font-size="9.6" text-anchor="start" fill="#2a2a2a">IL-8</text><line x1="31.90" y1="518.00" x2="446.8" y2="518.00" stroke="#222" stroke-width="1"/><text transform="translate(16.5,479) rotate(-90)" font-family="Liberation Serif" font-size="12.6" text-anchor="middle" fill="#222" xml:space="preserve">Fold change  (Exo/PBS)</text><line x1="498" y1="409.5" x2="685" y2="409.5" stroke="#333" stroke-width="1"/><line x1="498" y1="435.5" x2="685" y2="435.5" stroke="#333" stroke-width="1"/><line x1="498" y1="557.6" x2="685" y2="557.6" stroke="#333" stroke-width="1.1"/><text x="591.00" y="426.60" font-family="Liberation Sans" font-size="10.3" text-anchor="middle" fill="#262626" >PBS</text><text x="651.70" y="426.60" font-family="Liberation Sans" font-size="10.3" text-anchor="middle" fill="#262626" >Exo</text><text x="500.20" y="452.30" font-family="Liberation Serif" font-size="11.6" text-anchor="start" fill="#262626" >GM-CSF</text><text x="588.60" y="452.30" font-family="Liberation Serif" font-size="11.6" text-anchor="middle" fill="#262626" >219.51</text><text x="650.20" y="452.30" font-family="Liberation Serif" font-size="11.6" text-anchor="middle" fill="#262626" >917.25</text><text x="505.50" y="472.30" font-family="Liberation Serif" font-size="11.6" text-anchor="start" fill="#262626" >VEGF</text><text x="588.60" y="472.30" font-family="Liberation Serif" font-size="11.6" text-anchor="middle" fill="#262626" >214.22</text><text x="650.20" y="472.30" font-family="Liberation Serif" font-size="11.6" text-anchor="middle" fill="#262626" >860.80</text><text x="505.20" y="492.40" font-family="Liberation Serif" font-size="11.6" text-anchor="start" fill="#262626" >G-CSF</text><text x="588.60" y="492.40" font-family="Liberation Serif" font-size="11.6" text-anchor="middle" fill="#262626" >47.20</text><text x="650.20" y="492.40" font-family="Liberation Serif" font-size="11.6" text-anchor="middle" fill="#262626" >174.56</text><text x="505.20" y="512.80" font-family="Liberation Serif" font-size="11.6" text-anchor="start" fill="#262626" >MCP-1</text><text x="588.60" y="512.80" font-family="Liberation Serif" font-size="11.6" text-anchor="middle" fill="#262626" >888.68</text><text x="650.20" y="512.80" font-family="Liberation Serif" font-size="11.6" text-anchor="middle" fill="#262626" >3194</text><text x="509.00" y="531.80" font-family="Liberation Serif" font-size="11.6" text-anchor="start" fill="#262626" >IL-4</text><text x="588.60" y="531.80" font-family="Liberation Serif" font-size="11.6" text-anchor="middle" fill="#262626" >526.25</text><text x="650.20" y="531.80" font-family="Liberation Serif" font-size="11.6" text-anchor="middle" fill="#262626" >1727</text><text x="509.00" y="550.80" font-family="Liberation Serif" font-size="11.6" text-anchor="start" fill="#262626" >IL-6</text><text x="588.60" y="550.80" font-family="Liberation Serif" font-size="11.6" text-anchor="middle" fill="#262626" >7.18</text><text x="650.20" y="550.80" font-family="Liberation Serif" font-size="11.6" text-anchor="middle" fill="#262626" >18.67</text></g></svg></body></html>
